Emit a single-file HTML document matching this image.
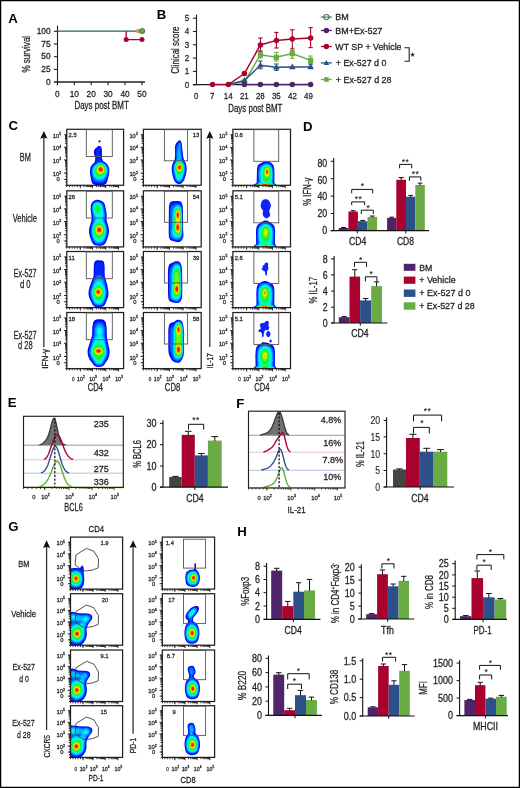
<!DOCTYPE html>
<html><head><meta charset="utf-8"><style>
html,body{margin:0;padding:0;background:#fff;}
svg{display:block;font-family:"Liberation Sans",sans-serif;will-change:transform;}
</style></head><body>
<svg width="520" height="788" viewBox="0 0 520 788">
<defs><filter id="bl" x="-10%" y="-10%" width="120%" height="120%"><feGaussianBlur stdDeviation="0.45"/></filter>
<clipPath id="c1"><rect x="66.80" y="129.30" width="56.80" height="56.00"/></clipPath>
<clipPath id="c2"><rect x="66.80" y="190.80" width="56.80" height="56.10"/></clipPath>
<clipPath id="c3"><rect x="66.80" y="251.50" width="56.80" height="56.10"/></clipPath>
<clipPath id="c4"><rect x="66.80" y="312.50" width="56.80" height="56.10"/></clipPath>
<clipPath id="c5"><rect x="143.40" y="129.30" width="57.80" height="56.00"/></clipPath>
<clipPath id="c6"><rect x="143.40" y="190.80" width="57.80" height="56.10"/></clipPath>
<clipPath id="c7"><rect x="143.40" y="251.50" width="57.80" height="56.10"/></clipPath>
<clipPath id="c8"><rect x="143.40" y="312.50" width="57.80" height="56.10"/></clipPath>
<clipPath id="c9"><rect x="232.90" y="129.30" width="57.60" height="56.00"/></clipPath>
<clipPath id="c10"><rect x="232.90" y="190.80" width="57.60" height="56.10"/></clipPath>
<clipPath id="c11"><rect x="232.90" y="251.50" width="57.60" height="56.10"/></clipPath>
<clipPath id="c12"><rect x="232.90" y="312.50" width="57.60" height="56.10"/></clipPath>
<clipPath id="c13"><rect x="70.50" y="537.10" width="52.10" height="52.00"/></clipPath>
<clipPath id="c14"><rect x="70.50" y="593.70" width="52.10" height="51.50"/></clipPath>
<clipPath id="c15"><rect x="70.50" y="650.00" width="52.10" height="51.50"/></clipPath>
<clipPath id="c16"><rect x="70.50" y="705.70" width="52.10" height="51.70"/></clipPath>
<clipPath id="c17"><rect x="162.30" y="537.10" width="52.30" height="52.00"/></clipPath>
<clipPath id="c18"><rect x="162.30" y="593.70" width="52.30" height="51.50"/></clipPath>
<clipPath id="c19"><rect x="162.30" y="650.00" width="52.30" height="51.50"/></clipPath>
<clipPath id="c20"><rect x="162.30" y="705.70" width="52.30" height="51.70"/></clipPath></defs>
<rect x="0.6" y="0.6" width="518.8" height="786.8" fill="#fff" stroke="#000" stroke-width="1.3"/>
<text transform="translate(8.20 22.70)" font-size="13.20" font-weight="bold" fill="#000">A</text>
<text transform="translate(156.80 18.50)" font-size="13.20" font-weight="bold" fill="#000">B</text>
<text transform="translate(8.50 130.30)" font-size="13.20" font-weight="bold" fill="#000">C</text>
<text transform="translate(303.00 131.00)" font-size="13.20" font-weight="bold" fill="#000">D</text>
<text transform="translate(7.70 407.00)" font-size="13.20" font-weight="bold" fill="#000">E</text>
<text transform="translate(236.20 407.50)" font-size="13.20" font-weight="bold" fill="#000">F</text>
<text transform="translate(8.20 531.30)" font-size="13.20" font-weight="bold" fill="#000">G</text>
<text transform="translate(237.20 535.60)" font-size="13.20" font-weight="bold" fill="#000">H</text>
<line x1="57.50" y1="25.50" x2="57.50" y2="85.00" stroke="#231f20" stroke-width="1.10"/>
<line x1="53.90" y1="82.00" x2="145.00" y2="82.00" stroke="#231f20" stroke-width="1.30"/>
<line x1="53.90" y1="31.30" x2="57.50" y2="31.30" stroke="#231f20" stroke-width="1.10"/>
<line x1="53.90" y1="44.00" x2="57.50" y2="44.00" stroke="#231f20" stroke-width="1.10"/>
<line x1="53.90" y1="56.70" x2="57.50" y2="56.70" stroke="#231f20" stroke-width="1.10"/>
<line x1="53.90" y1="69.40" x2="57.50" y2="69.40" stroke="#231f20" stroke-width="1.10"/>
<text transform="translate(50.60 34.10) scale(0.930 1)" font-size="9.00" text-anchor="end" fill="#231f20" stroke="#231f20" stroke-width="0.28">100</text>
<text transform="translate(50.60 46.78) scale(0.930 1)" font-size="9.00" text-anchor="end" fill="#231f20" stroke="#231f20" stroke-width="0.28">75</text>
<text transform="translate(50.60 59.46) scale(0.930 1)" font-size="9.00" text-anchor="end" fill="#231f20" stroke="#231f20" stroke-width="0.28">50</text>
<text transform="translate(50.60 72.14) scale(0.930 1)" font-size="9.00" text-anchor="end" fill="#231f20" stroke="#231f20" stroke-width="0.28">25</text>
<text transform="translate(50.60 84.82) scale(0.930 1)" font-size="9.00" text-anchor="end" fill="#231f20" stroke="#231f20" stroke-width="0.28">0</text>
<line x1="57.40" y1="82.00" x2="57.40" y2="85.20" stroke="#231f20" stroke-width="1.10"/>
<text transform="translate(57.40 96.70) scale(0.890 1)" font-size="9.30" text-anchor="middle" fill="#231f20" stroke="#231f20" stroke-width="0.28">0</text>
<line x1="74.30" y1="82.00" x2="74.30" y2="85.20" stroke="#231f20" stroke-width="1.10"/>
<text transform="translate(74.30 96.70) scale(0.890 1)" font-size="9.30" text-anchor="middle" fill="#231f20" stroke="#231f20" stroke-width="0.28">10</text>
<line x1="91.20" y1="82.00" x2="91.20" y2="85.20" stroke="#231f20" stroke-width="1.10"/>
<text transform="translate(91.20 96.70) scale(0.890 1)" font-size="9.30" text-anchor="middle" fill="#231f20" stroke="#231f20" stroke-width="0.28">20</text>
<line x1="108.10" y1="82.00" x2="108.10" y2="85.20" stroke="#231f20" stroke-width="1.10"/>
<text transform="translate(108.10 96.70) scale(0.890 1)" font-size="9.30" text-anchor="middle" fill="#231f20" stroke="#231f20" stroke-width="0.28">30</text>
<line x1="125.00" y1="82.00" x2="125.00" y2="85.20" stroke="#231f20" stroke-width="1.10"/>
<text transform="translate(125.00 96.70) scale(0.890 1)" font-size="9.30" text-anchor="middle" fill="#231f20" stroke="#231f20" stroke-width="0.28">40</text>
<line x1="141.90" y1="82.00" x2="141.90" y2="85.20" stroke="#231f20" stroke-width="1.10"/>
<text transform="translate(141.90 96.70) scale(0.890 1)" font-size="9.30" text-anchor="middle" fill="#231f20" stroke="#231f20" stroke-width="0.28">50</text>
<text transform="translate(101.60 109.20) scale(0.796 1)" font-size="10.00" text-anchor="middle" fill="#231f20" stroke="#231f20" stroke-width="0.28">Days post BMT</text>
<text transform="translate(29.90 54.20) rotate(-90) scale(0.702 1)" font-size="11.50" text-anchor="middle" fill="#231f20" stroke="#231f20" stroke-width="0.28">% survival</text>
<line x1="57.50" y1="31.20" x2="142.00" y2="31.20" stroke="#2b6646" stroke-width="1.20"/>
<path d="M126.2 31.2 V39.6 H142" fill="none" stroke="#a9022e" stroke-width="1.30"/>
<circle cx="126.20" cy="39.60" r="2.50" fill="#a9022e"/>
<circle cx="142.00" cy="39.60" r="2.50" fill="#a9022e"/>
<rect x="136.60" y="29.00" width="4.00" height="4.20" fill="#f29a2e"/>
<circle cx="142.20" cy="31.00" r="2.60" fill="#6aab45" stroke="#2b5f7a" stroke-width="0.80"/>
<line x1="196.50" y1="14.60" x2="196.50" y2="84.70" stroke="#231f20" stroke-width="1.10"/>
<line x1="192.90" y1="84.70" x2="312.50" y2="84.70" stroke="#231f20" stroke-width="1.30"/>
<line x1="192.90" y1="84.70" x2="196.50" y2="84.70" stroke="#231f20" stroke-width="1.10"/>
<text transform="translate(189.30 87.60) scale(0.850 1)" font-size="9.40" text-anchor="end" fill="#231f20" stroke="#231f20" stroke-width="0.28">0</text>
<line x1="192.90" y1="71.40" x2="196.50" y2="71.40" stroke="#231f20" stroke-width="1.10"/>
<text transform="translate(189.30 74.30) scale(0.850 1)" font-size="9.40" text-anchor="end" fill="#231f20" stroke="#231f20" stroke-width="0.28">1</text>
<line x1="192.90" y1="58.10" x2="196.50" y2="58.10" stroke="#231f20" stroke-width="1.10"/>
<text transform="translate(189.30 61.00) scale(0.850 1)" font-size="9.40" text-anchor="end" fill="#231f20" stroke="#231f20" stroke-width="0.28">2</text>
<line x1="192.90" y1="44.80" x2="196.50" y2="44.80" stroke="#231f20" stroke-width="1.10"/>
<text transform="translate(189.30 47.70) scale(0.850 1)" font-size="9.40" text-anchor="end" fill="#231f20" stroke="#231f20" stroke-width="0.28">3</text>
<line x1="192.90" y1="31.50" x2="196.50" y2="31.50" stroke="#231f20" stroke-width="1.10"/>
<text transform="translate(189.30 34.40) scale(0.850 1)" font-size="9.40" text-anchor="end" fill="#231f20" stroke="#231f20" stroke-width="0.28">4</text>
<line x1="192.90" y1="18.20" x2="196.50" y2="18.20" stroke="#231f20" stroke-width="1.10"/>
<text transform="translate(189.30 21.10) scale(0.850 1)" font-size="9.40" text-anchor="end" fill="#231f20" stroke="#231f20" stroke-width="0.28">5</text>
<text transform="translate(196.20 99.00) scale(0.850 1)" font-size="9.30" text-anchor="middle" fill="#231f20" stroke="#231f20" stroke-width="0.28">0</text>
<text transform="translate(212.23 99.00) scale(0.850 1)" font-size="9.30" text-anchor="middle" fill="#231f20" stroke="#231f20" stroke-width="0.28">7</text>
<text transform="translate(228.26 99.00) scale(0.850 1)" font-size="9.30" text-anchor="middle" fill="#231f20" stroke="#231f20" stroke-width="0.28">14</text>
<text transform="translate(244.29 99.00) scale(0.850 1)" font-size="9.30" text-anchor="middle" fill="#231f20" stroke="#231f20" stroke-width="0.28">21</text>
<text transform="translate(260.32 99.00) scale(0.850 1)" font-size="9.30" text-anchor="middle" fill="#231f20" stroke="#231f20" stroke-width="0.28">28</text>
<text transform="translate(276.35 99.00) scale(0.850 1)" font-size="9.30" text-anchor="middle" fill="#231f20" stroke="#231f20" stroke-width="0.28">35</text>
<text transform="translate(292.38 99.00) scale(0.850 1)" font-size="9.30" text-anchor="middle" fill="#231f20" stroke="#231f20" stroke-width="0.28">42</text>
<text transform="translate(308.41 99.00) scale(0.850 1)" font-size="9.30" text-anchor="middle" fill="#231f20" stroke="#231f20" stroke-width="0.28">49</text>
<text transform="translate(255.30 111.90) scale(0.793 1)" font-size="10.00" text-anchor="middle" fill="#231f20" stroke="#231f20" stroke-width="0.28">Days post BMT</text>
<text transform="translate(178.70 50.10) rotate(-90) scale(0.690 1)" font-size="11.50" text-anchor="middle" fill="#231f20" stroke="#231f20" stroke-width="0.28">Clinical score</text>
<line x1="260.40" y1="51.50" x2="260.40" y2="58.00" stroke="#6aab45" stroke-width="1.10"/>
<line x1="258.20" y1="51.50" x2="262.60" y2="51.50" stroke="#6aab45" stroke-width="1.10"/>
<line x1="258.20" y1="58.00" x2="262.60" y2="58.00" stroke="#6aab45" stroke-width="1.10"/>
<line x1="276.40" y1="52.40" x2="276.40" y2="61.00" stroke="#6aab45" stroke-width="1.10"/>
<line x1="274.20" y1="52.40" x2="278.60" y2="52.40" stroke="#6aab45" stroke-width="1.10"/>
<line x1="274.20" y1="61.00" x2="278.60" y2="61.00" stroke="#6aab45" stroke-width="1.10"/>
<line x1="292.30" y1="50.40" x2="292.30" y2="58.30" stroke="#6aab45" stroke-width="1.10"/>
<line x1="290.10" y1="50.40" x2="294.50" y2="50.40" stroke="#6aab45" stroke-width="1.10"/>
<line x1="290.10" y1="58.30" x2="294.50" y2="58.30" stroke="#6aab45" stroke-width="1.10"/>
<line x1="310.60" y1="56.00" x2="310.60" y2="64.10" stroke="#6aab45" stroke-width="1.10"/>
<line x1="308.40" y1="56.00" x2="312.80" y2="56.00" stroke="#6aab45" stroke-width="1.10"/>
<line x1="308.40" y1="64.10" x2="312.80" y2="64.10" stroke="#6aab45" stroke-width="1.10"/>
<path d="M228.40 84.60 L244.40 82.00 L260.40 54.70 L276.40 57.30 L292.30 53.60 L310.60 60.40" fill="none" stroke="#6aab45" stroke-width="1.50"/>
<rect x="241.80" y="79.40" width="5.20" height="5.20" fill="#6aab45"/>
<rect x="257.80" y="52.10" width="5.20" height="5.20" fill="#6aab45"/>
<rect x="273.80" y="54.70" width="5.20" height="5.20" fill="#6aab45"/>
<rect x="289.70" y="51.00" width="5.20" height="5.20" fill="#6aab45"/>
<rect x="308.00" y="57.80" width="5.20" height="5.20" fill="#6aab45"/>
<line x1="260.40" y1="61.00" x2="260.40" y2="68.80" stroke="#2d4f8a" stroke-width="1.10"/>
<line x1="258.20" y1="61.00" x2="262.60" y2="61.00" stroke="#2d4f8a" stroke-width="1.10"/>
<line x1="258.20" y1="68.80" x2="262.60" y2="68.80" stroke="#2d4f8a" stroke-width="1.10"/>
<line x1="276.40" y1="64.00" x2="276.40" y2="70.40" stroke="#2d4f8a" stroke-width="1.10"/>
<line x1="274.20" y1="64.00" x2="278.60" y2="64.00" stroke="#2d4f8a" stroke-width="1.10"/>
<line x1="274.20" y1="70.40" x2="278.60" y2="70.40" stroke="#2d4f8a" stroke-width="1.10"/>
<line x1="310.60" y1="64.10" x2="310.60" y2="66.90" stroke="#2d4f8a" stroke-width="1.10"/>
<line x1="308.40" y1="64.10" x2="312.80" y2="64.10" stroke="#2d4f8a" stroke-width="1.10"/>
<line x1="308.40" y1="66.90" x2="312.80" y2="66.90" stroke="#2d4f8a" stroke-width="1.10"/>
<path d="M228.40 84.60 L244.40 80.40 L260.40 65.30 L276.40 67.30 L292.30 66.90 L310.60 66.90" fill="none" stroke="#2d4f8a" stroke-width="1.50"/>
<path d="M244.40 77.00 L247.70 82.70 L241.10 82.70 Z" fill="#2d4f8a"/>
<path d="M260.40 61.90 L263.70 67.60 L257.10 67.60 Z" fill="#2d4f8a"/>
<path d="M276.40 63.90 L279.70 69.60 L273.10 69.60 Z" fill="#2d4f8a"/>
<path d="M292.30 63.50 L295.60 69.20 L289.00 69.20 Z" fill="#2d4f8a"/>
<path d="M310.60 63.50 L313.90 69.20 L307.30 69.20 Z" fill="#2d4f8a"/>
<line x1="260.40" y1="38.00" x2="260.40" y2="51.00" stroke="#a9022e" stroke-width="1.10"/>
<line x1="258.20" y1="38.00" x2="262.60" y2="38.00" stroke="#a9022e" stroke-width="1.10"/>
<line x1="258.20" y1="51.00" x2="262.60" y2="51.00" stroke="#a9022e" stroke-width="1.10"/>
<line x1="276.40" y1="32.40" x2="276.40" y2="48.00" stroke="#a9022e" stroke-width="1.10"/>
<line x1="274.20" y1="32.40" x2="278.60" y2="32.40" stroke="#a9022e" stroke-width="1.10"/>
<line x1="274.20" y1="48.00" x2="278.60" y2="48.00" stroke="#a9022e" stroke-width="1.10"/>
<line x1="292.30" y1="29.80" x2="292.30" y2="48.90" stroke="#a9022e" stroke-width="1.10"/>
<line x1="290.10" y1="29.80" x2="294.50" y2="29.80" stroke="#a9022e" stroke-width="1.10"/>
<line x1="290.10" y1="48.90" x2="294.50" y2="48.90" stroke="#a9022e" stroke-width="1.10"/>
<line x1="310.60" y1="27.60" x2="310.60" y2="47.60" stroke="#a9022e" stroke-width="1.10"/>
<line x1="308.40" y1="27.60" x2="312.80" y2="27.60" stroke="#a9022e" stroke-width="1.10"/>
<line x1="308.40" y1="47.60" x2="312.80" y2="47.60" stroke="#a9022e" stroke-width="1.10"/>
<path d="M212.50 84.60 L228.40 84.60 L244.40 73.50 L260.40 45.00 L276.40 40.40 L292.30 38.90 L310.60 38.10" fill="none" stroke="#a9022e" stroke-width="1.50"/>
<circle cx="212.50" cy="84.60" r="2.75" fill="#a9022e"/>
<circle cx="228.40" cy="84.60" r="2.75" fill="#a9022e"/>
<circle cx="244.40" cy="73.50" r="2.75" fill="#a9022e"/>
<circle cx="260.40" cy="45.00" r="2.75" fill="#a9022e"/>
<circle cx="276.40" cy="40.40" r="2.75" fill="#a9022e"/>
<circle cx="292.30" cy="38.90" r="2.75" fill="#a9022e"/>
<circle cx="310.60" cy="38.10" r="2.75" fill="#a9022e"/>
<path d="M244.40 84.60 L260.40 84.60 L276.40 84.60 L292.30 84.60 L310.60 84.60" fill="none" stroke="#4f2468" stroke-width="1.50"/>
<circle cx="244.40" cy="84.60" r="2.75" fill="#4f2468"/>
<circle cx="260.40" cy="84.60" r="2.75" fill="#4f2468"/>
<circle cx="276.40" cy="84.60" r="2.75" fill="#4f2468"/>
<circle cx="292.30" cy="84.60" r="2.75" fill="#4f2468"/>
<circle cx="310.60" cy="84.60" r="2.75" fill="#4f2468"/>
<line x1="320.90" y1="17.10" x2="331.80" y2="17.10" stroke="#3b7a5c" stroke-width="1.30"/>
<circle cx="326.40" cy="17.10" r="2.60" fill="#fff" stroke="#3b7a5c" stroke-width="1.10"/>
<line x1="323.80" y1="17.10" x2="329.00" y2="17.10" stroke="#3b7a5c" stroke-width="1.10"/>
<text transform="translate(335.30 20.20) scale(1.023 1)" font-size="8.80" fill="#231f20" stroke="#231f20" stroke-width="0.28">BM</text>
<line x1="320.90" y1="30.50" x2="331.80" y2="30.50" stroke="#4f2468" stroke-width="1.30"/>
<circle cx="326.40" cy="30.50" r="2.70" fill="#4f2468"/>
<text transform="translate(335.30 33.60) scale(1.019 1)" font-size="8.80" fill="#231f20" stroke="#231f20" stroke-width="0.28">BM+Ex-527</text>
<line x1="320.90" y1="46.50" x2="331.80" y2="46.50" stroke="#a9022e" stroke-width="1.30"/>
<circle cx="326.40" cy="46.50" r="2.70" fill="#a9022e"/>
<text transform="translate(335.30 49.60) scale(1.005 1)" font-size="8.80" fill="#231f20" stroke="#231f20" stroke-width="0.28">WT SP + Vehicle</text>
<line x1="320.90" y1="62.90" x2="331.80" y2="62.90" stroke="#2d4f8a" stroke-width="1.30"/>
<path d="M326.40 60.00 L329.20 64.90 L323.60 64.90 Z" fill="#2d4f8a"/>
<text transform="translate(335.80 66.00) scale(1.011 1)" font-size="8.80" fill="#231f20" stroke="#231f20" stroke-width="0.28">+ Ex-527 d 0</text>
<line x1="320.90" y1="79.50" x2="331.80" y2="79.50" stroke="#6aab45" stroke-width="1.30"/>
<rect x="324.10" y="77.20" width="4.60" height="4.60" fill="#6aab45"/>
<text transform="translate(335.80 82.60) scale(1.012 1)" font-size="8.80" fill="#231f20" stroke="#231f20" stroke-width="0.28">+ Ex-527 d 28</text>
<path d="M404.4 47.7 H409.2 V61.2 H404.4" fill="none" stroke="#231f20" stroke-width="1.10"/>
<text transform="translate(412.60 59.20)" font-size="9.50" text-anchor="middle" fill="#111" stroke="#111" stroke-width="0.28">*</text>
<text transform="translate(25.30 160.50) scale(0.719 1)" font-size="10.20" text-anchor="middle" fill="#231f20" stroke="#231f20" stroke-width="0.28">BM</text>
<text transform="translate(24.80 221.50) scale(0.736 1)" font-size="10.20" text-anchor="middle" fill="#231f20" stroke="#231f20" stroke-width="0.28">Vehicle</text>
<text transform="translate(25.15 276.90) scale(0.716 1)" font-size="10.00" text-anchor="middle" fill="#231f20" stroke="#231f20" stroke-width="0.28">Ex-527</text>
<text transform="translate(25.25 288.40) scale(0.770 1)" font-size="10.00" text-anchor="middle" fill="#231f20" stroke="#231f20" stroke-width="0.28">d 0</text>
<text transform="translate(25.15 338.50) scale(0.716 1)" font-size="10.00" text-anchor="middle" fill="#231f20" stroke="#231f20" stroke-width="0.28">Ex-527</text>
<text transform="translate(25.30 349.00) scale(0.750 1)" font-size="10.00" text-anchor="middle" fill="#231f20" stroke="#231f20" stroke-width="0.28">d 28</text>
<line x1="43.85" y1="136.00" x2="43.85" y2="347.00" stroke="#333" stroke-width="1.30"/>
<path d="M43.85 131 L47.45 138.8 L43.85 137.6 L40.25 138.8 Z" fill="#111"/>
<line x1="209.80" y1="136.00" x2="209.80" y2="347.00" stroke="#333" stroke-width="1.30"/>
<path d="M209.80 131 L213.40 138.8 L209.80 137.6 L206.20 138.8 Z" fill="#111"/>
<text transform="translate(47.50 358.80) rotate(-90) scale(0.998 1)" font-size="8.20" text-anchor="middle" fill="#231f20" stroke="#231f20" stroke-width="0.28">IFN-γ</text>
<text transform="translate(212.80 360.80) rotate(-90) scale(0.819 1)" font-size="8.20" text-anchor="middle" fill="#231f20" stroke="#231f20" stroke-width="0.28">IL-17</text>
<g clip-path="url(#c1)"><g filter="url(#bl)"><path d="M100.0,142.3 99.3,142.5 98.5,141.9 98.5,140.9 99.0,140.3 100.0,140.3 100.6,140.9 100.6,141.6 100.0,142.3ZM103.5,185.0 100.8,185.3 96.2,185.1 94.4,184.8 93.0,184.1 92.1,182.9 91.5,181.5 90.0,173.8 90.0,169.9 90.6,167.1 91.8,165.0 94.4,162.4 95.0,161.2 95.3,157.7 94.0,153.5 94.1,150.3 94.7,149.2 97.6,146.4 99.0,145.7 100.0,145.9 100.8,146.4 101.7,148.2 101.9,150.0 101.9,157.7 102.5,160.1 103.3,161.2 106.0,163.1 107.5,164.7 108.6,166.8 109.3,169.6 109.3,172.0 109.0,174.5 107.1,181.8 106.4,183.2 105.6,184.1 103.5,185.0Z" fill="#0000ff"/><path d="M99.7,141.7 99.1,141.6 99.1,141.2 99.3,140.9 99.9,141.2 99.7,141.7ZM102.8,183.6 100.4,183.8 96.9,183.7 95.1,183.4 93.8,182.5 92.9,181.5 92.2,179.7 90.8,173.1 90.8,169.9 91.5,167.1 92.7,165.3 95.7,162.6 96.1,161.5 96.6,158.0 95.6,153.8 95.7,150.7 97.7,147.5 99.0,146.6 99.7,146.7 100.3,147.2 100.9,148.6 100.9,150.0 100.2,152.8 100.7,155.6 100.7,158.0 101.2,159.8 102.4,161.5 105.3,163.4 106.9,165.0 108.0,167.1 108.5,169.6 108.6,171.7 108.3,174.1 106.5,180.1 105.1,182.5 104.1,183.2 102.8,183.6Z" fill="#0028ff"/><path d="M101.1,182.2 96.9,182.0 95.5,181.5 94.4,180.7 93.4,179.2 92.6,177.2 91.5,172.7 91.7,169.2 92.9,166.4 95.1,164.1 97.9,162.0 99.3,161.3 100.4,161.5 103.2,162.8 105.4,164.3 107.2,166.8 107.9,169.6 107.9,171.7 107.5,174.1 106.7,176.8 105.6,179.1 103.9,181.3 102.5,181.9 101.1,182.2Z" fill="#006eff"/><path d="M101.4,180.4 99.7,180.6 97.9,180.4 96.5,179.9 95.1,179.0 94.1,177.8 93.3,176.2 92.3,172.4 92.5,169.2 93.0,167.8 93.8,166.4 95.2,165.0 96.9,163.7 98.3,163.0 99.7,162.6 101.1,162.7 102.5,163.1 104.9,164.6 106.6,166.8 107.3,169.6 107.0,173.4 105.6,176.9 103.9,179.2 102.8,179.9 101.4,180.4Z" fill="#00b9ff"/><path d="M100.8,179.0 97.9,178.9 96.5,178.3 95.5,177.5 94.4,176.2 93.7,174.8 93.2,173.1 93.0,171.3 93.5,168.5 95.0,166.1 97.6,164.0 99.0,163.4 100.4,163.2 102.8,163.7 104.9,165.2 106.2,167.1 106.8,169.9 106.4,173.1 104.9,176.3 103.2,178.1 100.8,179.0Z" fill="#00f5ff"/><path d="M101.1,177.6 99.7,177.7 98.3,177.5 96.2,176.4 95.3,175.5 94.5,174.1 93.9,171.3 94.2,168.9 95.6,166.4 97.9,164.4 100.4,163.7 102.5,164.1 104.4,165.4 105.8,167.5 106.3,169.6 105.9,172.4 104.8,174.8 103.2,176.6 101.1,177.6Z" fill="#00ffaa"/><path d="M100.4,176.2 98.3,175.9 96.5,174.8 95.3,172.7 95.0,170.6 95.5,168.2 96.9,166.1 98.6,164.8 100.8,164.3 102.8,164.9 104.3,166.1 105.3,167.8 105.6,169.9 105.1,172.4 103.9,174.4 102.1,175.7 100.4,176.2Z" fill="#14f03c"/><path d="M101.4,174.5 99.7,174.6 97.9,173.9 96.8,172.7 96.2,171.0 96.3,168.9 97.1,167.1 98.3,165.9 100.0,165.1 101.8,165.2 103.2,166.0 104.2,167.1 104.8,168.9 104.8,170.6 104.1,172.4 102.8,173.8 101.4,174.5Z" fill="#78f500"/><path d="M101.1,173.4 99.7,173.4 98.4,172.7 97.6,171.7 97.1,170.2 97.3,168.5 97.9,167.2 99.0,166.3 100.4,165.8 101.8,166.0 102.8,166.6 103.8,167.8 104.1,169.2 104.0,170.6 103.3,172.0 102.1,173.0 101.1,173.4Z" fill="#e6f500"/><path d="M101.4,172.5 100.4,172.6 99.3,172.3 98.3,171.3 97.9,170.2 97.9,168.9 98.3,167.8 99.0,167.0 100.0,166.5 101.1,166.4 102.1,166.8 102.9,167.5 103.4,168.5 103.5,169.9 103.2,171.0 102.5,171.8 101.4,172.5Z" fill="#ffbe00"/><path d="M101.4,171.8 100.4,172.0 99.7,171.8 99.0,171.2 98.5,170.2 98.4,169.2 98.6,168.3 99.3,167.5 100.0,167.0 101.1,166.9 101.8,167.2 102.5,167.8 102.9,168.5 103.0,169.6 102.8,170.4 102.2,171.3 101.4,171.8Z" fill="#ff6e00"/><path d="M100.8,171.3 99.6,171.0 99.1,170.2 98.9,169.6 99.3,168.1 100.0,167.6 100.8,167.4 101.8,167.8 102.5,169.2 102.1,170.6 101.4,171.1 100.8,171.3Z" fill="#ff1400"/></g></g>
<path d="M64.00 147.33H66.80M65.00 143.54H66.80M65.00 141.32H66.80M65.00 139.75H66.80M65.00 138.52H66.80M65.00 137.53H66.80M65.00 136.68H66.80M65.00 135.95H66.80M65.00 135.31H66.80M64.00 159.93H66.80M65.00 156.14H66.80M65.00 153.92H66.80M65.00 152.35H66.80M65.00 151.12H66.80M65.00 150.13H66.80M65.00 149.28H66.80M65.00 148.55H66.80M65.00 147.91H66.80M64.00 173.15H66.80M65.00 169.17H66.80M65.00 166.84H66.80M65.00 165.19H66.80M65.00 163.91H66.80M65.00 162.86H66.80M65.00 161.98H66.80M65.00 161.21H66.80M65.00 160.54H66.80M64.20 134.73H66.80M65.30 173.15H66.80M65.30 176.19H66.80M65.30 179.22H66.80M65.30 182.26H66.80M65.30 185.30H66.80M64.20 179.53H66.80M80.32 185.30V188.10M83.96 185.30V187.10M86.09 185.30V187.10M87.60 185.30V187.10M88.77 185.30V187.10M89.73 185.30V187.10M90.54 185.30V187.10M91.24 185.30V187.10M91.86 185.30V187.10M92.42 185.30V188.10M96.45 185.30V187.10M98.81 185.30V187.10M100.49 185.30V187.10M101.79 185.30V187.10M102.85 185.30V187.10M103.75 185.30V187.10M104.52 185.30V187.10M105.21 185.30V187.10M105.82 185.30V188.10M109.63 185.30V187.10M111.87 185.30V187.10M113.45 185.30V187.10M114.68 185.30V187.10M115.68 185.30V187.10M116.53 185.30V187.10M117.26 185.30V187.10M117.91 185.30V187.10M118.49 185.30V188.10M66.80 185.30V187.10M69.50 185.30V187.10M72.21 185.30V187.10M74.91 185.30V187.10M77.61 185.30V187.10M80.32 185.30V187.10" stroke="#231f20" stroke-width="0.95" fill="none"/>
<rect x="66.80" y="129.30" width="56.80" height="56.00" fill="none" stroke="#231f20" stroke-width="1.25"/>
<text transform="translate(52.79 137.83) scale(0.970 1)" font-size="6.00" fill="#2a2a2a" stroke="#2a2a2a" stroke-width="0.28">10</text>
<text transform="translate(59.36 135.13) scale(0.970 1)" font-size="3.60" fill="#2a2a2a" stroke="#2a2a2a" stroke-width="0.28">5</text>
<text transform="translate(52.79 150.43) scale(0.970 1)" font-size="6.00" fill="#2a2a2a" stroke="#2a2a2a" stroke-width="0.28">10</text>
<text transform="translate(59.36 147.73) scale(0.970 1)" font-size="3.60" fill="#2a2a2a" stroke="#2a2a2a" stroke-width="0.28">4</text>
<text transform="translate(52.79 163.03) scale(0.970 1)" font-size="6.00" fill="#2a2a2a" stroke="#2a2a2a" stroke-width="0.28">10</text>
<text transform="translate(59.36 160.33) scale(0.970 1)" font-size="3.60" fill="#2a2a2a" stroke="#2a2a2a" stroke-width="0.28">3</text>
<text transform="translate(52.79 176.25) scale(0.970 1)" font-size="6.00" fill="#2a2a2a" stroke="#2a2a2a" stroke-width="0.28">10</text>
<text transform="translate(59.36 173.55) scale(0.970 1)" font-size="3.60" fill="#2a2a2a" stroke="#2a2a2a" stroke-width="0.28">2</text>
<text transform="translate(59.80 181.43) scale(0.970 1)" font-size="6.00" text-anchor="end" fill="#2a2a2a" stroke="#2a2a2a" stroke-width="0.28">0</text>
<rect x="86.30" y="129.70" width="26.00" height="26.80" fill="none" stroke="#555" stroke-width="0.90"/>
<text transform="translate(68.60 137.40) scale(0.950 1)" font-size="6.20" fill="#2a2a2a" stroke="#2a2a2a" stroke-width="0.28">2.5</text>
<g clip-path="url(#c2)"><g filter="url(#bl)"><path d="M102.1,245.4 99.7,245.7 96.5,245.6 94.4,244.9 93.2,244.0 92.0,242.2 90.4,238.1 89.6,235.6 89.1,232.8 89.0,230.4 89.3,227.9 91.3,221.2 91.6,219.5 91.4,215.7 90.6,209.0 90.8,205.5 91.5,203.4 92.7,201.7 94.4,200.4 96.5,199.8 99.3,200.0 101.8,200.9 103.5,202.2 104.7,204.1 106.6,213.2 106.6,220.6 108.3,226.2 108.9,229.3 109.0,231.8 108.6,234.6 107.8,237.4 106.1,241.9 104.6,244.2 103.5,244.9 102.1,245.4Z" fill="#0000ff"/><path d="M101.1,244.7 96.5,244.7 94.8,244.0 93.8,243.2 92.7,241.6 91.2,237.7 90.1,232.8 90.0,230.4 90.3,227.9 92.2,221.2 92.5,219.5 92.3,216.0 91.2,209.4 91.4,205.9 92.2,203.8 93.4,202.1 94.8,201.1 96.5,200.6 99.0,200.7 101.1,201.5 102.8,202.8 104.1,204.8 105.9,213.6 105.7,220.6 107.3,226.2 107.9,229.3 108.0,232.1 107.6,234.9 106.9,237.4 105.4,241.2 104.7,242.6 103.8,243.7 102.5,244.4 101.1,244.7Z" fill="#0028ff"/><path d="M101.4,243.7 99.7,243.9 97.2,243.8 95.8,243.4 94.6,242.6 93.6,241.2 92.2,238.1 91.1,233.2 90.9,230.7 91.2,228.2 91.8,225.5 93.2,221.2 93.4,219.5 93.1,216.0 91.9,209.7 92.0,206.6 92.6,204.5 93.5,203.1 94.8,202.0 96.5,201.4 98.6,201.5 100.8,202.3 102.5,203.8 103.4,205.5 105.2,213.9 104.7,220.6 106.4,226.2 107.0,229.0 107.1,231.1 106.9,233.5 105.8,238.1 103.9,242.0 102.8,243.1 101.4,243.7Z" fill="#006eff"/><path d="M101.1,242.6 99.7,242.8 97.6,242.8 96.2,242.3 95.1,241.6 94.1,240.1 93.0,237.7 92.2,235.2 91.8,232.8 91.8,230.0 92.1,227.6 92.8,224.8 94.3,220.9 94.6,219.5 94.2,216.4 92.6,210.4 92.5,206.9 93.2,204.8 94.1,203.4 95.5,202.5 96.9,202.1 98.6,202.3 100.5,203.1 101.8,204.3 102.7,205.9 104.3,214.2 104.3,216.0 103.6,219.2 103.6,220.6 105.6,225.8 106.3,229.3 106.2,233.2 105.0,237.7 103.2,241.1 102.1,242.1 101.1,242.6Z" fill="#00b9ff"/><path d="M100.8,241.3 99.3,241.5 97.6,241.4 96.5,241.0 95.5,240.2 94.4,238.8 93.6,237.0 93.0,234.9 92.5,232.1 92.5,229.3 93.2,226.2 94.2,223.7 96.2,220.2 96.5,219.2 96.1,217.4 93.4,211.1 93.0,209.0 93.1,207.2 93.5,205.5 94.4,204.1 95.5,203.3 96.9,202.9 98.6,203.1 100.1,203.8 101.2,204.8 102.1,206.6 103.3,214.6 103.1,216.0 102.0,218.8 101.9,219.9 104.7,225.5 105.6,229.3 105.5,232.8 104.4,237.0 102.8,239.8 101.8,240.8 100.8,241.3Z" fill="#00f5ff"/><path d="M99.7,214.6 97.9,214.6 96.5,214.2 95.1,212.8 94.1,210.8 93.7,208.7 94.0,206.6 94.8,204.9 96.2,204.0 97.6,203.8 99.3,204.4 100.5,205.5 101.2,206.9 101.6,209.4 101.4,212.9 100.8,214.2 99.7,214.6ZM99.7,239.9 97.2,239.6 96.2,239.0 95.1,237.9 94.0,235.2 93.2,231.1 93.6,227.6 94.8,224.4 96.5,222.5 97.6,221.9 99.0,221.7 101.1,222.2 103.1,224.1 104.5,226.9 105.1,230.0 104.7,233.2 103.4,237.0 101.8,239.0 99.7,239.9Z" fill="#00ffaa"/><path d="M98.3,211.9 97.2,212.0 96.2,211.6 95.5,210.8 94.9,209.4 94.8,208.0 95.1,206.6 95.8,205.7 96.9,205.2 97.9,205.2 99.0,205.8 100.0,207.6 100.1,209.0 99.8,210.4 99.0,211.5 98.3,211.9ZM100.0,237.8 97.9,237.8 96.2,236.7 94.8,234.2 94.1,231.1 94.2,228.2 95.2,225.8 96.5,224.3 98.6,223.4 100.4,223.6 102.2,224.8 103.6,226.9 104.3,229.3 104.1,232.1 103.1,234.9 101.8,236.8 100.0,237.8Z" fill="#14f03c"/><path d="M99.7,235.6 97.9,235.5 96.5,234.4 95.4,232.5 94.9,230.4 95.2,228.2 96.1,226.5 97.2,225.4 99.0,224.8 100.8,225.2 102.0,226.2 103.1,227.9 103.5,229.7 103.3,231.4 102.5,233.5 101.1,235.0 99.7,235.6Z" fill="#78f500"/><path d="M100.4,233.9 99.0,234.2 97.6,233.7 96.5,232.6 95.9,231.1 95.8,229.3 96.2,227.9 97.2,226.6 98.6,225.9 100.0,226.0 101.1,226.5 102.0,227.6 102.6,229.0 102.7,230.4 102.3,231.8 101.5,233.2 100.4,233.9Z" fill="#e6f500"/><path d="M99.7,233.2 98.6,233.2 97.6,232.7 96.9,231.8 96.4,230.4 96.5,229.0 97.0,227.9 97.9,227.0 99.0,226.7 100.0,226.8 101.1,227.5 101.8,228.6 102.1,229.7 101.9,231.1 101.4,232.0 100.8,232.7 99.7,233.2Z" fill="#ffbe00"/><path d="M99.7,232.6 98.6,232.5 97.9,232.2 97.3,231.4 97.0,230.4 97.0,229.3 97.4,228.2 98.2,227.6 99.0,227.3 100.0,227.4 100.8,227.9 101.3,228.6 101.6,229.7 101.5,230.7 101.1,231.5 100.4,232.2 99.7,232.6Z" fill="#ff6e00"/><path d="M99.7,231.9 99.0,231.9 98.3,231.6 97.5,230.4 97.5,229.3 97.9,228.6 99.0,227.9 99.7,227.9 100.4,228.4 101.0,229.7 100.7,231.1 99.7,231.9Z" fill="#ff1400"/></g></g>
<path d="M64.00 208.86H66.80M65.00 205.06H66.80M65.00 202.84H66.80M65.00 201.26H66.80M65.00 200.04H66.80M65.00 199.04H66.80M65.00 198.20H66.80M65.00 197.46H66.80M65.00 196.82H66.80M64.00 221.49H66.80M65.00 217.69H66.80M65.00 215.46H66.80M65.00 213.89H66.80M65.00 212.66H66.80M65.00 211.66H66.80M65.00 210.82H66.80M65.00 210.09H66.80M65.00 209.44H66.80M64.00 234.73H66.80M65.00 230.74H66.80M65.00 228.41H66.80M65.00 226.76H66.80M65.00 225.47H66.80M65.00 224.42H66.80M65.00 223.54H66.80M65.00 222.77H66.80M65.00 222.09H66.80M64.20 196.24H66.80M65.30 234.73H66.80M65.30 237.77H66.80M65.30 240.81H66.80M65.30 243.86H66.80M65.30 246.90H66.80M64.20 241.12H66.80M80.32 246.90V249.70M83.96 246.90V248.70M86.09 246.90V248.70M87.60 246.90V248.70M88.77 246.90V248.70M89.73 246.90V248.70M90.54 246.90V248.70M91.24 246.90V248.70M91.86 246.90V248.70M92.42 246.90V249.70M96.45 246.90V248.70M98.81 246.90V248.70M100.49 246.90V248.70M101.79 246.90V248.70M102.85 246.90V248.70M103.75 246.90V248.70M104.52 246.90V248.70M105.21 246.90V248.70M105.82 246.90V249.70M109.63 246.90V248.70M111.87 246.90V248.70M113.45 246.90V248.70M114.68 246.90V248.70M115.68 246.90V248.70M116.53 246.90V248.70M117.26 246.90V248.70M117.91 246.90V248.70M118.49 246.90V249.70M66.80 246.90V248.70M69.50 246.90V248.70M72.21 246.90V248.70M74.91 246.90V248.70M77.61 246.90V248.70M80.32 246.90V248.70" stroke="#231f20" stroke-width="0.95" fill="none"/>
<rect x="66.80" y="190.80" width="56.80" height="56.10" fill="none" stroke="#231f20" stroke-width="1.25"/>
<text transform="translate(52.79 199.34) scale(0.970 1)" font-size="6.00" fill="#2a2a2a" stroke="#2a2a2a" stroke-width="0.28">10</text>
<text transform="translate(59.36 196.64) scale(0.970 1)" font-size="3.60" fill="#2a2a2a" stroke="#2a2a2a" stroke-width="0.28">5</text>
<text transform="translate(52.79 211.96) scale(0.970 1)" font-size="6.00" fill="#2a2a2a" stroke="#2a2a2a" stroke-width="0.28">10</text>
<text transform="translate(59.36 209.26) scale(0.970 1)" font-size="3.60" fill="#2a2a2a" stroke="#2a2a2a" stroke-width="0.28">4</text>
<text transform="translate(52.79 224.59) scale(0.970 1)" font-size="6.00" fill="#2a2a2a" stroke="#2a2a2a" stroke-width="0.28">10</text>
<text transform="translate(59.36 221.89) scale(0.970 1)" font-size="3.60" fill="#2a2a2a" stroke="#2a2a2a" stroke-width="0.28">3</text>
<text transform="translate(52.79 237.83) scale(0.970 1)" font-size="6.00" fill="#2a2a2a" stroke="#2a2a2a" stroke-width="0.28">10</text>
<text transform="translate(59.36 235.13) scale(0.970 1)" font-size="3.60" fill="#2a2a2a" stroke="#2a2a2a" stroke-width="0.28">2</text>
<text transform="translate(59.80 243.02) scale(0.970 1)" font-size="6.00" text-anchor="end" fill="#2a2a2a" stroke="#2a2a2a" stroke-width="0.28">0</text>
<rect x="86.30" y="191.20" width="26.00" height="26.80" fill="none" stroke="#555" stroke-width="0.90"/>
<text transform="translate(68.60 198.90) scale(0.950 1)" font-size="6.20" fill="#2a2a2a" stroke="#2a2a2a" stroke-width="0.28">26</text>
<g clip-path="url(#c3)"><g filter="url(#bl)"><path d="M99.7,307.2 95.5,306.9 94.1,306.3 92.8,305.1 89.5,298.4 88.8,295.9 88.5,293.5 88.7,290.4 89.7,286.5 93.6,276.0 93.8,266.2 94.2,263.1 94.8,261.7 95.5,260.9 96.2,260.6 97.6,260.3 102.1,260.5 103.3,261.3 104.1,262.7 104.6,265.9 104.7,276.0 107.3,285.1 108.5,292.4 108.4,294.9 107.9,297.4 104.9,304.7 104.0,305.8 102.8,306.5 99.7,307.2Z" fill="#0000ff"/><path d="M101.4,306.1 99.3,306.4 96.9,306.3 95.1,305.9 93.9,305.1 92.9,303.6 90.8,299.1 90.0,296.6 89.5,294.2 89.6,291.1 90.5,287.2 92.9,280.2 94.6,276.0 94.8,266.9 95.1,264.4 95.8,262.9 96.5,262.4 97.6,262.2 101.6,262.4 102.5,262.9 103.2,264.1 103.6,266.9 103.8,276.0 105.2,280.2 106.4,285.4 107.5,291.8 107.5,293.9 107.2,296.3 105.1,302.2 104.3,304.0 103.5,305.0 102.5,305.8 101.4,306.1Z" fill="#0028ff"/><path d="M100.8,305.4 96.9,305.5 95.5,305.1 94.4,304.3 93.3,302.6 91.7,299.1 90.8,296.3 90.4,293.9 90.4,291.8 90.9,289.3 91.9,285.8 94.0,279.9 95.1,277.9 96.5,276.2 97.6,275.2 98.6,274.8 100.0,274.9 101.1,275.6 102.8,277.6 103.8,279.1 105.5,285.8 106.6,292.1 106.6,294.2 106.2,296.6 104.4,301.9 102.8,304.4 101.9,305.1 100.8,305.4Z" fill="#006eff"/><path d="M100.8,304.4 99.0,304.7 97.2,304.6 95.8,304.1 94.9,303.3 93.8,301.6 92.5,299.1 91.3,294.2 91.4,290.7 93.0,285.4 95.5,279.9 96.5,278.9 97.6,278.6 100.8,278.7 101.8,279.1 102.5,279.9 104.5,285.8 105.7,291.8 105.6,295.2 104.4,299.8 102.5,303.3 100.8,304.4Z" fill="#00b9ff"/><path d="M100.0,303.4 97.2,303.4 96.2,303.0 95.1,302.0 93.3,298.8 91.9,293.5 92.2,290.4 94.0,285.4 96.5,282.1 97.2,281.6 98.3,281.2 99.3,281.3 100.4,281.7 102.7,284.4 103.8,286.9 105.0,292.1 104.7,295.6 103.5,299.8 101.8,302.4 100.0,303.4Z" fill="#00f5ff"/><path d="M99.3,301.9 97.9,301.9 96.9,301.7 95.1,300.1 93.7,297.4 92.9,294.6 92.6,292.8 93.0,290.0 94.7,286.5 96.2,284.9 97.2,284.3 98.3,284.1 100.4,284.5 101.9,285.8 103.4,288.9 104.2,292.1 104.0,294.6 102.8,299.1 101.4,300.9 100.4,301.6 99.3,301.9Z" fill="#00ffaa"/><path d="M99.3,299.8 97.6,299.8 96.0,298.8 94.1,295.3 93.4,292.8 93.6,290.7 94.5,288.6 96.2,286.8 97.9,286.1 99.7,286.3 101.4,287.6 102.7,289.6 103.3,291.8 103.1,294.2 101.8,297.6 100.8,299.1 99.3,299.8Z" fill="#14f03c"/><path d="M98.6,297.1 97.2,296.8 95.8,295.8 94.7,294.2 94.3,292.4 94.5,290.7 95.2,289.3 96.5,288.0 97.9,287.6 99.3,287.7 100.8,288.5 101.9,290.0 102.3,291.8 102.2,293.5 101.3,295.2 100.0,296.5 98.6,297.1Z" fill="#78f500"/><path d="M99.3,295.4 97.9,295.6 96.9,295.2 95.7,294.2 95.1,292.8 95.1,291.4 95.5,290.2 96.5,289.1 97.6,288.6 99.0,288.6 100.0,289.1 100.9,290.0 101.4,291.1 101.5,292.4 101.2,293.5 100.4,294.7 99.3,295.4Z" fill="#e6f500"/><path d="M99.0,294.7 97.9,294.8 96.9,294.4 96.2,293.7 95.7,292.8 95.6,291.8 95.9,290.7 96.5,289.8 97.6,289.3 98.6,289.2 99.7,289.6 100.4,290.4 100.9,291.4 100.9,292.4 100.5,293.5 99.9,294.2 99.0,294.7Z" fill="#ffbe00"/><path d="M98.3,294.2 96.9,293.7 96.4,293.1 96.1,292.1 96.3,291.1 96.7,290.4 97.6,289.8 98.3,289.7 99.0,289.8 99.8,290.4 100.2,291.1 100.4,292.1 99.7,293.6 98.3,294.2Z" fill="#ff6e00"/><path d="M98.6,293.6 97.9,293.6 97.2,293.3 96.6,292.1 96.9,290.9 97.9,290.2 99.0,290.4 99.8,291.4 99.7,292.8 98.6,293.6Z" fill="#ff1400"/></g></g>
<path d="M64.00 269.56H66.80M65.00 265.76H66.80M65.00 263.54H66.80M65.00 261.96H66.80M65.00 260.74H66.80M65.00 259.74H66.80M65.00 258.90H66.80M65.00 258.16H66.80M65.00 257.52H66.80M64.00 282.19H66.80M65.00 278.39H66.80M65.00 276.16H66.80M65.00 274.59H66.80M65.00 273.36H66.80M65.00 272.36H66.80M65.00 271.52H66.80M65.00 270.79H66.80M65.00 270.14H66.80M64.00 295.43H66.80M65.00 291.44H66.80M65.00 289.11H66.80M65.00 287.46H66.80M65.00 286.17H66.80M65.00 285.12H66.80M65.00 284.24H66.80M65.00 283.47H66.80M65.00 282.79H66.80M64.20 256.94H66.80M65.30 295.43H66.80M65.30 298.47H66.80M65.30 301.51H66.80M65.30 304.56H66.80M65.30 307.60H66.80M64.20 301.82H66.80M80.32 307.60V310.40M83.96 307.60V309.40M86.09 307.60V309.40M87.60 307.60V309.40M88.77 307.60V309.40M89.73 307.60V309.40M90.54 307.60V309.40M91.24 307.60V309.40M91.86 307.60V309.40M92.42 307.60V310.40M96.45 307.60V309.40M98.81 307.60V309.40M100.49 307.60V309.40M101.79 307.60V309.40M102.85 307.60V309.40M103.75 307.60V309.40M104.52 307.60V309.40M105.21 307.60V309.40M105.82 307.60V310.40M109.63 307.60V309.40M111.87 307.60V309.40M113.45 307.60V309.40M114.68 307.60V309.40M115.68 307.60V309.40M116.53 307.60V309.40M117.26 307.60V309.40M117.91 307.60V309.40M118.49 307.60V310.40M66.80 307.60V309.40M69.50 307.60V309.40M72.21 307.60V309.40M74.91 307.60V309.40M77.61 307.60V309.40M80.32 307.60V309.40" stroke="#231f20" stroke-width="0.95" fill="none"/>
<rect x="66.80" y="251.50" width="56.80" height="56.10" fill="none" stroke="#231f20" stroke-width="1.25"/>
<text transform="translate(52.79 260.04) scale(0.970 1)" font-size="6.00" fill="#2a2a2a" stroke="#2a2a2a" stroke-width="0.28">10</text>
<text transform="translate(59.36 257.34) scale(0.970 1)" font-size="3.60" fill="#2a2a2a" stroke="#2a2a2a" stroke-width="0.28">5</text>
<text transform="translate(52.79 272.66) scale(0.970 1)" font-size="6.00" fill="#2a2a2a" stroke="#2a2a2a" stroke-width="0.28">10</text>
<text transform="translate(59.36 269.96) scale(0.970 1)" font-size="3.60" fill="#2a2a2a" stroke="#2a2a2a" stroke-width="0.28">4</text>
<text transform="translate(52.79 285.29) scale(0.970 1)" font-size="6.00" fill="#2a2a2a" stroke="#2a2a2a" stroke-width="0.28">10</text>
<text transform="translate(59.36 282.59) scale(0.970 1)" font-size="3.60" fill="#2a2a2a" stroke="#2a2a2a" stroke-width="0.28">3</text>
<text transform="translate(52.79 298.53) scale(0.970 1)" font-size="6.00" fill="#2a2a2a" stroke="#2a2a2a" stroke-width="0.28">10</text>
<text transform="translate(59.36 295.83) scale(0.970 1)" font-size="3.60" fill="#2a2a2a" stroke="#2a2a2a" stroke-width="0.28">2</text>
<text transform="translate(59.80 303.72) scale(0.970 1)" font-size="6.00" text-anchor="end" fill="#2a2a2a" stroke="#2a2a2a" stroke-width="0.28">0</text>
<rect x="86.30" y="251.90" width="26.00" height="26.80" fill="none" stroke="#555" stroke-width="0.90"/>
<text transform="translate(68.60 259.60) scale(0.950 1)" font-size="6.20" fill="#2a2a2a" stroke="#2a2a2a" stroke-width="0.28">11</text>
<g clip-path="url(#c4)"><g filter="url(#bl)"><path d="M100.8,366.8 98.3,366.9 96.5,366.7 95.1,366.2 94.1,365.4 90.6,361.1 89.3,359.1 88.1,355.9 87.6,352.8 87.6,350.3 88.1,347.9 92.1,335.6 92.3,327.6 93.2,322.6 93.8,321.2 94.8,320.2 96.2,319.6 98.3,319.3 101.4,319.3 103.5,319.8 104.9,320.9 105.8,322.6 106.7,327.9 106.9,336.6 107.7,341.9 109.2,348.2 109.6,351.0 109.6,353.1 109.2,355.6 108.6,357.6 107.6,359.8 103.7,365.4 102.5,366.3 100.8,366.8Z" fill="#0000ff"/><path d="M100.0,366.1 96.5,365.9 95.4,365.4 94.3,364.3 90.0,358.0 89.0,355.2 88.6,352.1 89.1,348.2 93.0,335.6 93.2,328.6 94.0,324.1 94.8,322.5 95.8,321.6 97.2,321.0 99.3,320.8 101.4,321.0 103.2,321.6 104.3,322.6 105.1,324.4 105.9,328.9 105.9,336.3 106.8,342.2 108.3,349.2 108.6,351.7 108.0,355.9 106.5,359.4 103.2,364.7 101.8,365.7 100.0,366.1Z" fill="#0028ff"/><path d="M101.1,365.0 99.3,365.3 97.2,365.2 96.2,364.8 95.1,363.9 90.8,357.3 89.9,354.9 89.5,352.1 89.6,350.3 90.1,348.2 94.1,335.6 94.1,329.6 94.8,326.0 95.5,324.5 96.5,323.4 97.9,322.8 99.3,322.6 101.1,322.8 102.5,323.5 103.5,324.6 104.4,326.5 104.9,330.4 104.8,335.9 107.7,351.4 107.3,354.9 106.1,358.0 103.0,363.6 102.1,364.5 101.1,365.0Z" fill="#006eff"/><path d="M100.0,364.3 97.2,364.3 96.2,363.8 95.3,362.9 91.5,356.6 90.7,354.1 90.3,351.7 90.7,349.2 93.7,339.4 95.5,335.6 95.3,330.7 95.7,327.9 96.4,326.5 97.2,325.5 98.3,325.0 99.3,324.8 100.8,325.0 101.8,325.6 102.8,326.9 103.4,328.2 103.7,331.1 103.4,335.9 104.4,339.1 106.8,351.4 106.2,355.2 104.1,360.1 102.1,363.3 101.1,364.0 100.0,364.3Z" fill="#00b9ff"/><path d="M99.7,363.3 97.2,363.1 96.2,362.4 95.4,361.5 93.6,358.7 92.2,355.9 91.4,353.4 91.1,351.4 91.4,349.2 95.1,339.4 95.8,338.3 98.0,335.9 98.1,335.2 97.0,332.1 97.0,330.4 97.8,328.2 98.6,327.6 99.3,327.4 100.0,327.5 100.8,327.9 101.9,329.6 102.0,332.1 100.8,335.2 100.8,335.9 102.5,338.3 103.1,339.4 105.8,349.6 106.1,351.4 105.5,354.5 103.4,359.8 101.4,362.5 99.7,363.3Z" fill="#00f5ff"/><path d="M100.4,361.5 99.3,361.8 97.9,361.8 96.9,361.4 95.8,360.4 94.7,358.7 92.9,355.2 92.1,353.1 91.8,351.7 92.2,349.2 94.8,343.7 96.9,340.9 97.6,340.3 98.6,339.9 99.7,340.0 100.4,340.4 102.5,343.3 104.9,349.2 105.3,351.0 105.1,353.1 103.1,358.4 101.8,360.4 100.4,361.5Z" fill="#00ffaa"/><path d="M100.0,359.5 97.9,359.6 96.5,358.8 93.2,353.4 92.6,351.7 92.8,349.9 93.8,348.3 96.5,345.0 98.3,344.2 99.7,344.4 101.1,345.4 103.6,348.6 104.4,350.6 104.2,352.8 101.8,357.6 101.1,358.7 100.0,359.5Z" fill="#14f03c"/><path d="M99.7,355.6 98.3,355.9 96.9,355.3 94.8,353.7 93.7,352.1 93.6,350.6 94.3,349.2 95.5,348.1 97.2,347.2 99.0,347.0 100.8,347.6 102.5,348.8 103.4,350.3 103.4,351.7 102.8,353.1 101.4,354.5 99.7,355.6Z" fill="#78f500"/><path d="M99.3,354.2 98.3,354.2 96.9,353.9 95.8,353.4 94.9,352.4 94.5,351.4 94.6,350.3 95.1,349.5 96.2,348.7 97.9,348.1 99.7,348.2 101.1,348.8 102.2,349.9 102.5,351.4 102.1,352.4 101.1,353.5 99.3,354.2Z" fill="#e6f500"/><path d="M99.0,353.5 96.9,353.2 95.5,352.1 95.3,350.6 95.6,349.9 96.5,349.2 97.9,348.7 99.3,348.8 100.8,349.3 101.6,350.3 101.8,351.4 101.3,352.4 100.4,353.1 99.0,353.5Z" fill="#ffbe00"/><path d="M99.7,352.8 97.9,353.0 96.6,352.4 95.8,351.4 96.0,350.3 96.8,349.6 97.9,349.2 99.3,349.2 100.4,349.7 101.1,350.5 101.2,351.4 100.8,352.2 99.7,352.8Z" fill="#ff6e00"/><path d="M99.3,352.4 97.9,352.5 97.0,352.1 96.5,351.4 96.7,350.3 98.3,349.6 99.3,349.7 100.0,350.1 100.5,350.6 100.6,351.4 100.1,352.1 99.3,352.4Z" fill="#ff1400"/></g></g>
<path d="M64.00 330.56H66.80M65.00 326.76H66.80M65.00 324.54H66.80M65.00 322.96H66.80M65.00 321.74H66.80M65.00 320.74H66.80M65.00 319.90H66.80M65.00 319.16H66.80M65.00 318.52H66.80M64.00 343.19H66.80M65.00 339.39H66.80M65.00 337.16H66.80M65.00 335.59H66.80M65.00 334.36H66.80M65.00 333.36H66.80M65.00 332.52H66.80M65.00 331.79H66.80M65.00 331.14H66.80M64.00 356.43H66.80M65.00 352.44H66.80M65.00 350.11H66.80M65.00 348.46H66.80M65.00 347.17H66.80M65.00 346.12H66.80M65.00 345.24H66.80M65.00 344.47H66.80M65.00 343.79H66.80M64.20 317.94H66.80M65.30 356.43H66.80M65.30 359.47H66.80M65.30 362.51H66.80M65.30 365.56H66.80M65.30 368.60H66.80M64.20 362.82H66.80M80.32 368.60V371.40M83.96 368.60V370.40M86.09 368.60V370.40M87.60 368.60V370.40M88.77 368.60V370.40M89.73 368.60V370.40M90.54 368.60V370.40M91.24 368.60V370.40M91.86 368.60V370.40M92.42 368.60V371.40M96.45 368.60V370.40M98.81 368.60V370.40M100.49 368.60V370.40M101.79 368.60V370.40M102.85 368.60V370.40M103.75 368.60V370.40M104.52 368.60V370.40M105.21 368.60V370.40M105.82 368.60V371.40M109.63 368.60V370.40M111.87 368.60V370.40M113.45 368.60V370.40M114.68 368.60V370.40M115.68 368.60V370.40M116.53 368.60V370.40M117.26 368.60V370.40M117.91 368.60V370.40M118.49 368.60V371.40M66.80 368.60V370.40M69.50 368.60V370.40M72.21 368.60V370.40M74.91 368.60V370.40M77.61 368.60V370.40M80.32 368.60V370.40" stroke="#231f20" stroke-width="0.95" fill="none"/>
<rect x="66.80" y="312.50" width="56.80" height="56.10" fill="none" stroke="#231f20" stroke-width="1.25"/>
<text transform="translate(52.79 321.04) scale(0.970 1)" font-size="6.00" fill="#2a2a2a" stroke="#2a2a2a" stroke-width="0.28">10</text>
<text transform="translate(59.36 318.34) scale(0.970 1)" font-size="3.60" fill="#2a2a2a" stroke="#2a2a2a" stroke-width="0.28">5</text>
<text transform="translate(52.79 333.66) scale(0.970 1)" font-size="6.00" fill="#2a2a2a" stroke="#2a2a2a" stroke-width="0.28">10</text>
<text transform="translate(59.36 330.96) scale(0.970 1)" font-size="3.60" fill="#2a2a2a" stroke="#2a2a2a" stroke-width="0.28">4</text>
<text transform="translate(52.79 346.29) scale(0.970 1)" font-size="6.00" fill="#2a2a2a" stroke="#2a2a2a" stroke-width="0.28">10</text>
<text transform="translate(59.36 343.59) scale(0.970 1)" font-size="3.60" fill="#2a2a2a" stroke="#2a2a2a" stroke-width="0.28">3</text>
<text transform="translate(52.79 359.53) scale(0.970 1)" font-size="6.00" fill="#2a2a2a" stroke="#2a2a2a" stroke-width="0.28">10</text>
<text transform="translate(59.36 356.83) scale(0.970 1)" font-size="3.60" fill="#2a2a2a" stroke="#2a2a2a" stroke-width="0.28">2</text>
<text transform="translate(59.80 364.72) scale(0.970 1)" font-size="6.00" text-anchor="end" fill="#2a2a2a" stroke="#2a2a2a" stroke-width="0.28">0</text>
<text transform="translate(73.28 380.80) scale(0.850 1)" font-size="5.40" text-anchor="middle" fill="#3a3a3a" stroke="#3a3a3a" stroke-width="0.28">0</text>
<text transform="translate(77.03 380.80) scale(0.970 1)" font-size="5.40" fill="#2a2a2a" stroke="#2a2a2a" stroke-width="0.28">10</text>
<text transform="translate(82.96 378.37) scale(0.970 1)" font-size="3.24" fill="#2a2a2a" stroke="#2a2a2a" stroke-width="0.28">2</text>
<text transform="translate(89.13 380.80) scale(0.970 1)" font-size="5.40" fill="#2a2a2a" stroke="#2a2a2a" stroke-width="0.28">10</text>
<text transform="translate(95.06 378.37) scale(0.970 1)" font-size="3.24" fill="#2a2a2a" stroke="#2a2a2a" stroke-width="0.28">3</text>
<text transform="translate(102.53 380.80) scale(0.970 1)" font-size="5.40" fill="#2a2a2a" stroke="#2a2a2a" stroke-width="0.28">10</text>
<text transform="translate(108.46 378.37) scale(0.970 1)" font-size="3.24" fill="#2a2a2a" stroke="#2a2a2a" stroke-width="0.28">4</text>
<text transform="translate(115.20 380.80) scale(0.970 1)" font-size="5.40" fill="#2a2a2a" stroke="#2a2a2a" stroke-width="0.28">10</text>
<text transform="translate(121.13 378.37) scale(0.970 1)" font-size="3.24" fill="#2a2a2a" stroke="#2a2a2a" stroke-width="0.28">5</text>
<rect x="86.30" y="312.90" width="26.00" height="26.80" fill="none" stroke="#555" stroke-width="0.90"/>
<text transform="translate(68.60 320.60) scale(0.950 1)" font-size="6.20" fill="#2a2a2a" stroke="#2a2a2a" stroke-width="0.28">18</text>
<g clip-path="url(#c5)"><g filter="url(#bl)"><path d="M180.2,184.0 178.4,184.1 177.0,183.6 175.6,182.6 174.5,181.1 173.6,179.0 172.6,175.5 171.9,172.0 171.7,169.2 171.8,166.8 172.4,164.3 174.6,159.4 174.9,158.0 175.1,155.2 174.9,147.9 175.3,145.1 176.2,143.3 178.8,140.6 179.8,140.2 180.8,141.0 181.6,143.0 183.3,157.3 183.9,159.4 186.0,164.0 186.5,166.4 186.7,168.9 186.2,173.4 184.3,179.7 182.5,182.5 181.6,183.3 180.2,184.0Z" fill="#0000ff"/><path d="M180.2,183.0 178.8,183.1 177.3,182.7 176.1,181.8 175.1,180.4 174.2,178.3 173.3,175.2 172.7,171.7 172.5,169.2 173.0,165.0 175.2,160.1 175.6,158.4 175.5,148.6 175.8,146.1 176.3,145.0 178.8,141.7 179.8,141.1 180.5,141.6 181.2,143.3 182.7,158.0 183.3,160.0 185.3,164.3 185.9,168.5 185.5,172.7 183.9,178.7 182.2,181.5 181.2,182.4 180.2,183.0Z" fill="#0028ff"/><path d="M179.1,182.2 178.1,182.0 177.0,181.4 176.0,180.4 175.3,179.0 173.7,173.1 173.2,168.5 173.8,165.0 175.9,160.5 176.3,159.1 176.2,149.6 176.5,147.5 178.8,143.0 179.4,142.3 179.8,142.2 180.5,143.0 180.9,144.4 181.3,151.4 182.1,158.7 182.7,160.5 184.8,165.0 185.3,168.9 184.6,173.4 182.9,179.0 181.2,181.3 180.2,181.9 179.1,182.2Z" fill="#006eff"/><path d="M179.1,181.1 178.1,180.9 177.2,180.4 175.8,178.3 174.4,172.7 173.9,168.5 174.4,165.0 177.3,159.1 177.7,150.7 178.7,148.2 179.1,144.9 179.4,144.1 179.8,144.1 180.1,145.4 179.7,149.6 180.9,158.4 181.4,159.8 184.1,164.7 184.6,166.4 184.7,168.5 184.1,172.4 182.3,178.3 180.8,180.4 180.2,180.9 179.1,181.1Z" fill="#00b9ff"/><path d="M179.8,179.9 178.8,180.0 178.1,179.7 176.7,178.1 175.1,172.7 174.4,168.9 174.7,166.1 175.4,164.0 177.3,161.2 178.1,160.6 179.1,160.2 179.8,160.3 180.8,160.9 182.6,162.8 183.7,165.0 184.2,167.5 183.8,171.0 182.0,176.9 181.2,178.7 179.8,179.9Z" fill="#00f5ff"/><path d="M179.4,178.4 178.4,178.3 177.3,176.9 175.4,171.0 175.0,168.2 175.3,165.7 176.2,163.6 177.7,162.0 179.4,161.4 181.2,162.1 182.6,163.6 183.5,165.7 183.8,167.8 183.3,170.6 181.2,176.2 180.5,177.6 179.4,178.4Z" fill="#00ffaa"/><path d="M179.1,174.9 178.1,174.1 176.5,171.7 175.8,169.6 175.6,167.5 175.9,165.7 176.7,164.0 178.1,162.7 179.4,162.3 180.8,162.8 182.1,164.0 183.0,165.7 183.2,167.8 182.9,169.9 182.1,171.7 180.2,174.3 179.1,174.9Z" fill="#14f03c"/><path d="M180.2,172.0 178.8,172.1 177.7,171.4 176.7,169.9 176.3,168.2 176.3,166.4 176.9,165.0 177.7,163.9 179.1,163.3 180.2,163.3 181.2,164.0 182.0,165.0 182.6,166.8 182.5,168.5 182.1,169.9 181.2,171.3 180.2,172.0Z" fill="#78f500"/><path d="M179.8,171.0 178.8,170.9 177.8,170.2 177.2,169.2 176.8,167.8 177.0,166.4 177.6,165.0 178.4,164.3 179.4,164.0 180.5,164.3 181.2,164.9 181.8,166.1 182.0,167.1 181.9,168.5 181.5,169.6 180.8,170.4 179.8,171.0Z" fill="#e6f500"/><path d="M179.4,170.3 178.8,170.1 178.0,169.6 177.5,168.5 177.3,167.5 177.5,166.4 178.0,165.4 178.8,164.8 179.4,164.6 180.2,164.7 180.9,165.4 181.5,166.4 181.6,167.5 181.4,168.5 180.9,169.6 180.2,170.1 179.4,170.3Z" fill="#ffbe00"/><path d="M179.8,169.7 179.1,169.7 178.4,169.2 177.9,168.5 177.7,167.5 177.9,166.4 178.3,165.7 179.4,165.1 180.7,165.7 181.2,167.1 180.8,168.8 179.8,169.7Z" fill="#ff6e00"/><path d="M180.2,168.9 179.1,169.1 178.2,168.2 178.2,166.8 178.6,166.1 179.1,165.7 180.2,165.8 180.7,166.8 180.8,167.8 180.2,168.9Z" fill="#ff1400"/></g></g>
<path d="M140.60 147.33H143.40M141.60 143.54H143.40M141.60 141.32H143.40M141.60 139.75H143.40M141.60 138.52H143.40M141.60 137.53H143.40M141.60 136.68H143.40M141.60 135.95H143.40M141.60 135.31H143.40M140.60 159.93H143.40M141.60 156.14H143.40M141.60 153.92H143.40M141.60 152.35H143.40M141.60 151.12H143.40M141.60 150.13H143.40M141.60 149.28H143.40M141.60 148.55H143.40M141.60 147.91H143.40M140.60 173.15H143.40M141.60 169.17H143.40M141.60 166.84H143.40M141.60 165.19H143.40M141.60 163.91H143.40M141.60 162.86H143.40M141.60 161.98H143.40M141.60 161.21H143.40M141.60 160.54H143.40M140.80 134.73H143.40M141.90 173.15H143.40M141.90 176.19H143.40M141.90 179.22H143.40M141.90 182.26H143.40M141.90 185.30H143.40M140.80 179.53H143.40M157.16 185.30V188.10M160.86 185.30V187.10M163.03 185.30V187.10M164.57 185.30V187.10M165.76 185.30V187.10M166.74 185.30V187.10M167.56 185.30V187.10M168.27 185.30V187.10M168.90 185.30V187.10M169.47 185.30V188.10M173.57 185.30V187.10M175.98 185.30V187.10M177.68 185.30V187.10M179.00 185.30V187.10M180.08 185.30V187.10M181.00 185.30V187.10M181.79 185.30V187.10M182.48 185.30V187.10M183.11 185.30V188.10M186.99 185.30V187.10M189.26 185.30V187.10M190.87 185.30V187.10M192.12 185.30V187.10M193.14 185.30V187.10M194.00 185.30V187.10M194.75 185.30V187.10M195.41 185.30V187.10M196.00 185.30V188.10M143.40 185.30V187.10M146.15 185.30V187.10M148.90 185.30V187.10M151.65 185.30V187.10M154.41 185.30V187.10M157.16 185.30V187.10" stroke="#231f20" stroke-width="0.95" fill="none"/>
<rect x="143.40" y="129.30" width="57.80" height="56.00" fill="none" stroke="#231f20" stroke-width="1.25"/>
<text transform="translate(129.39 137.83) scale(0.970 1)" font-size="6.00" fill="#2a2a2a" stroke="#2a2a2a" stroke-width="0.28">10</text>
<text transform="translate(135.96 135.13) scale(0.970 1)" font-size="3.60" fill="#2a2a2a" stroke="#2a2a2a" stroke-width="0.28">5</text>
<text transform="translate(129.39 150.43) scale(0.970 1)" font-size="6.00" fill="#2a2a2a" stroke="#2a2a2a" stroke-width="0.28">10</text>
<text transform="translate(135.96 147.73) scale(0.970 1)" font-size="3.60" fill="#2a2a2a" stroke="#2a2a2a" stroke-width="0.28">4</text>
<text transform="translate(129.39 163.03) scale(0.970 1)" font-size="6.00" fill="#2a2a2a" stroke="#2a2a2a" stroke-width="0.28">10</text>
<text transform="translate(135.96 160.33) scale(0.970 1)" font-size="3.60" fill="#2a2a2a" stroke="#2a2a2a" stroke-width="0.28">3</text>
<text transform="translate(129.39 176.25) scale(0.970 1)" font-size="6.00" fill="#2a2a2a" stroke="#2a2a2a" stroke-width="0.28">10</text>
<text transform="translate(135.96 173.55) scale(0.970 1)" font-size="3.60" fill="#2a2a2a" stroke="#2a2a2a" stroke-width="0.28">2</text>
<text transform="translate(136.40 181.43) scale(0.970 1)" font-size="6.00" text-anchor="end" fill="#2a2a2a" stroke="#2a2a2a" stroke-width="0.28">0</text>
<rect x="164.40" y="129.70" width="23.20" height="31.10" fill="none" stroke="#555" stroke-width="0.90"/>
<text transform="translate(199.20 137.40) scale(0.950 1)" font-size="6.20" text-anchor="end" fill="#2a2a2a" stroke="#2a2a2a" stroke-width="0.28">13</text>
<g clip-path="url(#c6)"><g filter="url(#bl)"><path d="M179.4,242.0 176.7,242.0 171.4,240.6 170.3,239.9 169.7,239.1 168.9,237.0 168.7,232.1 168.9,207.2 169.3,204.6 170.0,202.7 171.0,201.7 172.1,201.2 177.7,200.9 180.2,201.3 181.6,202.5 182.5,205.2 183.0,211.5 183.1,229.7 183.5,235.2 183.1,237.4 182.1,239.8 180.8,241.3 179.4,242.0Z" fill="#0000ff"/><path d="M179.4,240.9 178.1,241.1 176.7,241.0 172.1,239.8 170.3,238.5 169.5,236.3 169.3,231.8 169.4,212.9 169.6,208.0 170.0,205.7 170.7,204.1 171.4,203.4 172.8,202.9 177.0,202.4 179.8,202.7 180.5,203.2 181.2,204.0 182.1,206.9 182.6,213.9 182.9,234.9 182.5,237.0 181.7,238.8 180.8,239.9 179.4,240.9Z" fill="#0028ff"/><path d="M178.8,239.8 175.9,239.8 173.2,239.0 171.8,238.3 170.6,236.7 170.1,233.5 170.3,212.5 170.7,208.0 171.2,206.6 172.1,205.6 175.2,204.3 177.3,203.9 179.4,204.2 180.2,204.6 180.8,205.5 181.7,208.3 182.2,213.2 182.4,226.5 182.2,234.9 181.8,236.7 180.8,238.4 179.8,239.4 178.8,239.8Z" fill="#006eff"/><path d="M178.8,238.5 177.3,238.7 175.9,238.5 172.8,237.2 172.1,236.5 171.6,235.6 171.2,232.8 171.3,230.7 172.1,226.2 172.2,214.6 172.6,210.8 173.3,208.7 174.6,206.6 175.9,205.5 177.3,205.2 178.4,205.2 179.4,205.6 180.6,206.9 181.5,209.7 181.9,214.2 182.1,226.9 181.8,233.9 181.4,235.6 180.8,236.7 179.8,237.9 178.8,238.5Z" fill="#00b9ff"/><path d="M178.8,237.1 176.7,237.3 174.6,236.3 173.3,234.6 172.9,232.5 173.3,227.2 173.5,215.0 173.8,211.5 174.4,209.0 175.2,207.6 176.3,206.6 177.7,206.2 178.8,206.4 179.4,206.8 180.5,208.2 181.3,211.1 181.6,215.0 181.8,227.2 181.4,232.8 181.0,234.6 180.5,235.7 179.8,236.5 178.8,237.1Z" fill="#00f5ff"/><path d="M178.4,236.0 176.7,236.0 175.1,234.9 174.1,232.8 173.8,230.0 174.0,215.3 174.3,211.8 174.8,210.1 175.6,208.4 176.7,207.4 177.7,207.2 179.1,207.6 180.2,209.0 181.0,211.8 181.3,215.3 181.5,227.2 181.1,231.4 180.7,233.5 180.2,234.8 179.4,235.5 178.4,236.0Z" fill="#00ffaa"/><path d="M178.8,234.7 177.0,234.8 175.6,233.8 174.7,231.8 174.3,228.6 174.5,215.3 174.8,212.5 175.2,210.8 175.9,209.4 176.7,208.6 177.7,208.2 179.1,208.7 180.0,210.1 180.6,212.2 180.9,215.0 181.0,229.3 180.2,233.0 179.4,234.1 178.8,234.7Z" fill="#14f03c"/><path d="M178.1,233.6 176.7,233.2 175.7,232.1 175.1,230.0 174.9,227.6 175.4,221.2 175.1,216.0 175.3,213.2 176.2,210.4 177.0,209.6 177.7,209.3 178.8,209.7 179.4,210.4 180.3,213.2 180.4,216.0 180.2,221.2 180.6,226.9 180.4,229.7 179.9,231.8 179.1,233.0 178.1,233.6Z" fill="#78f500"/><path d="M177.7,232.5 176.7,232.0 176.0,231.1 175.5,229.3 175.4,227.2 175.6,224.9 176.4,221.2 175.7,216.7 175.8,213.6 176.4,211.5 177.0,210.7 177.7,210.4 178.4,210.6 179.1,211.3 179.8,213.6 179.9,216.7 179.2,221.2 180.0,225.1 180.2,227.2 180.0,229.3 179.4,231.1 178.8,232.1 177.7,232.5Z" fill="#e6f500"/><path d="M178.1,219.6 177.3,219.5 176.7,218.5 176.1,215.7 176.2,213.9 176.5,212.5 177.0,211.7 177.7,211.2 178.4,211.5 178.9,212.2 179.5,215.0 179.1,218.1 178.8,218.9 178.1,219.6ZM178.1,231.5 177.3,231.5 176.5,230.7 176.1,229.7 175.8,227.9 175.9,226.2 176.3,224.4 177.0,223.1 177.7,222.6 178.4,222.9 179.1,223.9 179.7,226.9 179.3,230.0 178.8,231.1 178.1,231.5Z" fill="#ffbe00"/><path d="M178.1,218.3 177.3,218.2 177.0,217.8 176.4,215.7 176.7,213.2 177.0,212.5 177.7,212.0 178.4,212.3 178.8,212.8 179.2,214.6 178.9,217.1 178.1,218.3ZM178.1,230.8 177.3,230.8 176.7,230.0 176.2,227.9 176.6,225.1 177.0,224.3 177.7,223.9 178.4,224.1 178.9,224.8 179.4,227.2 179.1,229.5 178.8,230.2 178.1,230.8Z" fill="#ff6e00"/><path d="M178.1,217.2 177.3,217.1 176.8,215.3 177.0,213.6 177.7,212.7 178.4,213.2 178.8,214.6 178.6,216.4 178.1,217.2ZM178.1,230.1 177.3,230.0 177.0,229.6 176.5,227.9 176.8,225.8 177.7,224.9 178.6,225.5 179.0,227.2 178.8,229.2 178.1,230.1Z" fill="#ff1400"/></g></g>
<path d="M140.60 208.86H143.40M141.60 205.06H143.40M141.60 202.84H143.40M141.60 201.26H143.40M141.60 200.04H143.40M141.60 199.04H143.40M141.60 198.20H143.40M141.60 197.46H143.40M141.60 196.82H143.40M140.60 221.49H143.40M141.60 217.69H143.40M141.60 215.46H143.40M141.60 213.89H143.40M141.60 212.66H143.40M141.60 211.66H143.40M141.60 210.82H143.40M141.60 210.09H143.40M141.60 209.44H143.40M140.60 234.73H143.40M141.60 230.74H143.40M141.60 228.41H143.40M141.60 226.76H143.40M141.60 225.47H143.40M141.60 224.42H143.40M141.60 223.54H143.40M141.60 222.77H143.40M141.60 222.09H143.40M140.80 196.24H143.40M141.90 234.73H143.40M141.90 237.77H143.40M141.90 240.81H143.40M141.90 243.86H143.40M141.90 246.90H143.40M140.80 241.12H143.40M157.16 246.90V249.70M160.86 246.90V248.70M163.03 246.90V248.70M164.57 246.90V248.70M165.76 246.90V248.70M166.74 246.90V248.70M167.56 246.90V248.70M168.27 246.90V248.70M168.90 246.90V248.70M169.47 246.90V249.70M173.57 246.90V248.70M175.98 246.90V248.70M177.68 246.90V248.70M179.00 246.90V248.70M180.08 246.90V248.70M181.00 246.90V248.70M181.79 246.90V248.70M182.48 246.90V248.70M183.11 246.90V249.70M186.99 246.90V248.70M189.26 246.90V248.70M190.87 246.90V248.70M192.12 246.90V248.70M193.14 246.90V248.70M194.00 246.90V248.70M194.75 246.90V248.70M195.41 246.90V248.70M196.00 246.90V249.70M143.40 246.90V248.70M146.15 246.90V248.70M148.90 246.90V248.70M151.65 246.90V248.70M154.41 246.90V248.70M157.16 246.90V248.70" stroke="#231f20" stroke-width="0.95" fill="none"/>
<rect x="143.40" y="190.80" width="57.80" height="56.10" fill="none" stroke="#231f20" stroke-width="1.25"/>
<text transform="translate(129.39 199.34) scale(0.970 1)" font-size="6.00" fill="#2a2a2a" stroke="#2a2a2a" stroke-width="0.28">10</text>
<text transform="translate(135.96 196.64) scale(0.970 1)" font-size="3.60" fill="#2a2a2a" stroke="#2a2a2a" stroke-width="0.28">5</text>
<text transform="translate(129.39 211.96) scale(0.970 1)" font-size="6.00" fill="#2a2a2a" stroke="#2a2a2a" stroke-width="0.28">10</text>
<text transform="translate(135.96 209.26) scale(0.970 1)" font-size="3.60" fill="#2a2a2a" stroke="#2a2a2a" stroke-width="0.28">4</text>
<text transform="translate(129.39 224.59) scale(0.970 1)" font-size="6.00" fill="#2a2a2a" stroke="#2a2a2a" stroke-width="0.28">10</text>
<text transform="translate(135.96 221.89) scale(0.970 1)" font-size="3.60" fill="#2a2a2a" stroke="#2a2a2a" stroke-width="0.28">3</text>
<text transform="translate(129.39 237.83) scale(0.970 1)" font-size="6.00" fill="#2a2a2a" stroke="#2a2a2a" stroke-width="0.28">10</text>
<text transform="translate(135.96 235.13) scale(0.970 1)" font-size="3.60" fill="#2a2a2a" stroke="#2a2a2a" stroke-width="0.28">2</text>
<text transform="translate(136.40 243.02) scale(0.970 1)" font-size="6.00" text-anchor="end" fill="#2a2a2a" stroke="#2a2a2a" stroke-width="0.28">0</text>
<rect x="164.40" y="191.20" width="23.20" height="31.10" fill="none" stroke="#555" stroke-width="0.90"/>
<text transform="translate(199.20 198.90) scale(0.950 1)" font-size="6.20" text-anchor="end" fill="#2a2a2a" stroke="#2a2a2a" stroke-width="0.28">54</text>
<g clip-path="url(#c7)"><g filter="url(#bl)"><path d="M177.7,303.0 176.3,303.1 174.2,302.8 171.4,302.0 169.8,301.2 169.0,300.1 168.5,299.1 168.1,294.9 167.9,273.2 168.1,269.4 168.5,266.6 169.2,264.8 170.0,263.8 172.4,262.7 174.6,261.5 175.9,261.2 177.7,261.2 178.8,261.5 179.5,262.0 180.4,263.1 181.6,266.2 182.1,271.1 182.3,288.9 182.2,296.6 181.5,299.4 180.5,301.2 179.1,302.5 177.7,303.0Z" fill="#0000ff"/><path d="M176.7,302.3 174.6,302.0 171.4,301.0 170.1,300.1 169.4,299.1 168.8,295.6 168.6,284.1 168.7,272.1 168.9,269.1 169.4,267.2 170.3,265.7 172.1,264.6 174.2,262.8 175.2,262.3 176.7,262.2 178.4,262.4 179.4,263.2 180.5,264.8 181.1,266.9 181.7,272.5 181.9,288.9 181.8,295.6 181.0,298.8 180.2,300.4 179.1,301.5 178.1,302.0 176.7,302.3Z" fill="#0028ff"/><path d="M177.3,301.3 175.9,301.4 174.2,301.0 172.1,300.3 170.8,299.4 169.9,297.7 169.6,294.2 169.5,275.3 170.0,270.1 170.7,268.3 173.7,264.4 174.9,263.5 176.3,263.3 177.7,263.3 178.8,263.7 180.1,265.5 180.9,269.0 181.2,273.9 181.5,288.9 181.2,295.6 180.7,297.7 179.8,299.5 178.8,300.6 177.3,301.3Z" fill="#006eff"/><path d="M177.3,300.2 176.3,300.4 174.9,300.2 172.1,299.0 171.1,297.7 170.7,295.2 171.3,283.7 171.4,274.6 171.9,271.1 172.6,268.3 173.7,265.9 174.9,264.6 176.3,264.3 178.4,264.6 179.7,266.2 180.4,269.0 180.8,273.9 181.2,288.9 180.8,294.9 180.4,296.6 179.6,298.4 178.4,299.7 177.3,300.2Z" fill="#00b9ff"/><path d="M176.7,299.1 174.6,298.9 172.8,297.7 172.2,296.3 171.9,293.9 172.5,274.2 172.9,270.4 173.4,268.3 174.2,266.5 175.2,265.6 176.7,265.4 178.1,265.6 178.8,266.1 179.5,267.2 180.0,269.4 180.4,273.6 180.9,288.9 180.6,293.5 179.9,296.3 179.4,297.4 178.4,298.4 176.7,299.1Z" fill="#00f5ff"/><path d="M176.7,297.7 174.8,297.4 173.5,295.9 172.8,293.9 172.6,289.3 173.1,274.6 173.5,270.8 173.9,269.0 174.6,267.6 175.6,266.7 176.7,266.6 178.1,266.9 178.8,267.6 179.7,270.4 180.1,273.9 180.2,282.3 180.6,288.9 180.3,292.8 179.5,295.6 178.4,297.1 176.7,297.7Z" fill="#00ffaa"/><path d="M177.7,296.1 175.9,296.2 174.4,295.2 173.6,293.5 173.2,290.4 174.0,272.5 174.3,270.8 174.9,269.4 175.6,268.7 176.3,268.5 177.3,268.6 178.1,268.9 178.8,270.0 179.1,271.2 179.5,274.2 179.7,282.3 180.2,287.9 180.1,290.7 179.6,293.5 178.8,295.2 177.7,296.1Z" fill="#14f03c"/><path d="M176.7,294.9 175.6,294.6 174.6,293.5 174.0,291.8 173.7,288.9 174.6,281.6 174.9,274.6 175.6,272.5 176.7,272.0 177.7,272.4 178.4,274.3 178.8,281.9 179.8,288.9 179.5,291.4 178.8,293.5 177.7,294.7 176.7,294.9Z" fill="#78f500"/><path d="M177.3,293.7 176.3,293.7 175.2,293.0 174.6,291.6 174.2,289.6 174.4,287.2 174.9,285.0 175.6,283.7 176.7,283.0 177.7,283.4 178.4,284.6 179.3,288.2 179.2,290.0 178.8,291.8 178.1,293.1 177.3,293.7Z" fill="#e6f500"/><path d="M177.0,292.9 176.2,292.8 175.4,292.1 174.9,290.9 174.7,289.3 174.8,287.6 175.2,286.1 175.9,285.1 176.7,284.8 177.3,285.0 178.1,285.6 178.6,286.9 178.9,288.6 178.8,290.0 178.4,291.5 177.7,292.5 177.0,292.9Z" fill="#ffbe00"/><path d="M177.0,292.2 176.3,292.1 175.6,291.5 175.0,289.3 175.5,286.9 175.9,286.1 176.7,285.8 177.3,285.9 177.9,286.5 178.5,288.6 178.1,291.1 177.7,291.8 177.0,292.2Z" fill="#ff6e00"/><path d="M177.0,291.5 176.3,291.4 175.9,291.1 175.4,289.3 175.7,287.6 176.7,286.7 177.3,286.8 177.7,287.2 178.1,288.6 177.9,290.4 177.6,291.1 177.0,291.5Z" fill="#ff1400"/></g></g>
<path d="M140.60 269.56H143.40M141.60 265.76H143.40M141.60 263.54H143.40M141.60 261.96H143.40M141.60 260.74H143.40M141.60 259.74H143.40M141.60 258.90H143.40M141.60 258.16H143.40M141.60 257.52H143.40M140.60 282.19H143.40M141.60 278.39H143.40M141.60 276.16H143.40M141.60 274.59H143.40M141.60 273.36H143.40M141.60 272.36H143.40M141.60 271.52H143.40M141.60 270.79H143.40M141.60 270.14H143.40M140.60 295.43H143.40M141.60 291.44H143.40M141.60 289.11H143.40M141.60 287.46H143.40M141.60 286.17H143.40M141.60 285.12H143.40M141.60 284.24H143.40M141.60 283.47H143.40M141.60 282.79H143.40M140.80 256.94H143.40M141.90 295.43H143.40M141.90 298.47H143.40M141.90 301.51H143.40M141.90 304.56H143.40M141.90 307.60H143.40M140.80 301.82H143.40M157.16 307.60V310.40M160.86 307.60V309.40M163.03 307.60V309.40M164.57 307.60V309.40M165.76 307.60V309.40M166.74 307.60V309.40M167.56 307.60V309.40M168.27 307.60V309.40M168.90 307.60V309.40M169.47 307.60V310.40M173.57 307.60V309.40M175.98 307.60V309.40M177.68 307.60V309.40M179.00 307.60V309.40M180.08 307.60V309.40M181.00 307.60V309.40M181.79 307.60V309.40M182.48 307.60V309.40M183.11 307.60V310.40M186.99 307.60V309.40M189.26 307.60V309.40M190.87 307.60V309.40M192.12 307.60V309.40M193.14 307.60V309.40M194.00 307.60V309.40M194.75 307.60V309.40M195.41 307.60V309.40M196.00 307.60V310.40M143.40 307.60V309.40M146.15 307.60V309.40M148.90 307.60V309.40M151.65 307.60V309.40M154.41 307.60V309.40M157.16 307.60V309.40" stroke="#231f20" stroke-width="0.95" fill="none"/>
<rect x="143.40" y="251.50" width="57.80" height="56.10" fill="none" stroke="#231f20" stroke-width="1.25"/>
<text transform="translate(129.39 260.04) scale(0.970 1)" font-size="6.00" fill="#2a2a2a" stroke="#2a2a2a" stroke-width="0.28">10</text>
<text transform="translate(135.96 257.34) scale(0.970 1)" font-size="3.60" fill="#2a2a2a" stroke="#2a2a2a" stroke-width="0.28">5</text>
<text transform="translate(129.39 272.66) scale(0.970 1)" font-size="6.00" fill="#2a2a2a" stroke="#2a2a2a" stroke-width="0.28">10</text>
<text transform="translate(135.96 269.96) scale(0.970 1)" font-size="3.60" fill="#2a2a2a" stroke="#2a2a2a" stroke-width="0.28">4</text>
<text transform="translate(129.39 285.29) scale(0.970 1)" font-size="6.00" fill="#2a2a2a" stroke="#2a2a2a" stroke-width="0.28">10</text>
<text transform="translate(135.96 282.59) scale(0.970 1)" font-size="3.60" fill="#2a2a2a" stroke="#2a2a2a" stroke-width="0.28">3</text>
<text transform="translate(129.39 298.53) scale(0.970 1)" font-size="6.00" fill="#2a2a2a" stroke="#2a2a2a" stroke-width="0.28">10</text>
<text transform="translate(135.96 295.83) scale(0.970 1)" font-size="3.60" fill="#2a2a2a" stroke="#2a2a2a" stroke-width="0.28">2</text>
<text transform="translate(136.40 303.72) scale(0.970 1)" font-size="6.00" text-anchor="end" fill="#2a2a2a" stroke="#2a2a2a" stroke-width="0.28">0</text>
<rect x="164.40" y="251.90" width="23.20" height="31.10" fill="none" stroke="#555" stroke-width="0.90"/>
<text transform="translate(199.20 259.60) scale(0.950 1)" font-size="6.20" text-anchor="end" fill="#2a2a2a" stroke="#2a2a2a" stroke-width="0.28">39</text>
<g clip-path="url(#c8)"><g filter="url(#bl)"><path d="M178.8,362.7 177.0,362.7 174.2,362.0 172.7,361.1 171.5,359.8 169.5,355.9 168.9,354.1 168.4,351.0 168.3,346.4 168.3,330.4 168.6,327.2 169.1,325.1 169.7,324.0 170.7,323.1 173.5,322.3 176.7,320.1 178.4,319.8 179.8,319.9 180.8,320.4 181.7,321.2 182.5,322.6 183.5,326.5 183.8,332.1 183.9,349.9 183.6,355.2 182.7,358.0 181.6,360.3 180.2,361.9 178.8,362.7Z" fill="#0000ff"/><path d="M178.8,361.6 177.0,361.7 174.9,361.2 173.5,360.4 172.4,359.4 169.6,352.8 169.2,349.9 169.0,345.8 169.1,331.8 169.3,328.9 169.7,326.9 170.7,325.2 173.5,323.9 175.9,321.4 177.0,320.8 178.4,320.6 179.4,320.7 180.5,321.1 181.6,322.1 182.2,323.4 183.1,326.9 183.4,332.1 183.6,349.6 183.2,354.5 182.6,356.9 181.6,359.0 180.2,360.8 178.8,361.6Z" fill="#0028ff"/><path d="M178.8,360.5 177.3,360.7 175.6,360.3 174.2,359.5 173.2,358.4 170.7,350.8 170.3,348.5 170.2,345.1 170.3,333.1 170.7,329.3 171.4,328.0 173.2,326.4 175.6,322.6 177.0,321.6 178.4,321.3 179.4,321.4 180.5,321.9 181.2,322.6 182.0,324.1 182.8,327.2 183.1,331.8 183.2,349.2 182.9,353.8 182.4,355.9 181.6,357.8 180.2,359.6 178.8,360.5Z" fill="#006eff"/><path d="M178.1,359.4 177.0,359.4 175.6,358.9 174.6,358.0 174.0,356.9 173.1,353.4 173.0,347.9 173.2,332.4 173.7,328.2 174.4,325.8 175.6,323.5 177.0,322.3 178.4,321.9 179.8,322.2 181.1,323.4 182.0,325.1 182.5,327.2 182.8,330.7 182.9,349.2 182.7,353.1 181.8,356.2 180.2,358.4 179.1,359.1 178.1,359.4Z" fill="#00b9ff"/><path d="M179.1,358.1 178.1,358.3 177.0,358.2 175.9,357.6 175.2,357.0 174.1,354.5 173.8,351.4 174.0,331.8 174.3,328.2 174.9,325.8 175.8,324.1 177.0,322.9 178.4,322.5 180.2,323.0 181.4,324.8 182.2,327.2 182.5,330.7 182.7,348.9 182.5,352.1 182.1,354.1 181.4,355.9 180.5,357.2 179.1,358.1Z" fill="#00f5ff"/><path d="M179.4,357.0 177.7,357.2 176.7,356.9 175.9,356.2 174.7,354.1 174.3,351.0 174.8,328.2 175.4,325.8 176.2,324.4 177.3,323.4 178.4,323.0 179.8,323.4 181.0,324.8 181.8,326.9 182.1,330.0 182.2,351.4 181.9,353.4 181.2,355.2 180.5,356.3 179.4,357.0Z" fill="#00ffaa"/><path d="M179.4,356.0 177.7,356.2 176.2,355.2 175.2,353.1 174.8,350.3 175.3,342.2 175.1,330.7 175.3,328.2 175.7,326.5 176.4,325.1 177.3,324.1 178.4,323.8 179.8,324.2 180.8,325.4 181.4,327.2 181.7,330.0 181.5,340.9 181.9,350.6 181.1,354.1 180.5,355.2 179.4,356.0Z" fill="#14f03c"/><path d="M179.4,354.9 178.1,355.1 176.7,354.3 175.7,352.4 175.4,349.9 176.3,340.5 176.3,336.3 175.7,331.1 175.8,328.6 176.7,325.8 177.3,325.1 178.4,324.6 179.4,324.9 180.4,326.1 181.0,327.9 181.2,329.6 180.6,336.6 180.5,340.1 180.7,342.9 181.4,347.9 181.5,350.3 180.8,353.1 180.2,354.3 179.4,354.9Z" fill="#78f500"/><path d="M179.1,335.0 178.1,335.2 177.3,334.5 176.7,332.9 176.3,330.7 176.3,328.9 176.7,327.2 177.3,326.1 178.4,325.5 179.1,325.7 179.9,326.5 180.4,327.6 180.7,329.3 180.3,332.8 179.8,334.2 179.1,335.0ZM179.4,353.8 178.4,354.1 177.3,353.8 176.4,352.4 176.0,350.6 176.0,348.2 176.6,345.8 177.3,344.2 178.4,343.6 179.1,343.8 179.8,344.5 180.5,346.1 180.9,348.2 181.0,349.9 180.7,351.7 180.2,353.1 179.4,353.8Z" fill="#e6f500"/><path d="M179.1,333.2 178.4,333.4 177.7,333.1 177.0,331.8 176.7,330.4 176.7,328.9 177.1,327.6 177.7,326.6 178.4,326.3 179.1,326.4 179.5,326.9 180.2,328.9 180.1,331.4 179.7,332.4 179.1,333.2ZM179.1,353.2 178.1,353.3 177.3,352.8 176.7,351.7 176.4,350.3 176.4,348.6 176.9,346.8 177.7,345.6 178.4,345.4 179.1,345.5 179.8,346.2 180.6,348.9 180.2,351.7 179.8,352.5 179.1,353.2Z" fill="#ffbe00"/><path d="M179.1,332.1 178.4,332.4 177.9,332.1 177.1,330.4 177.3,328.0 177.7,327.3 178.4,326.9 179.1,327.1 179.4,327.6 179.9,328.9 179.8,330.7 179.1,332.1ZM179.1,352.5 178.4,352.7 177.7,352.4 177.0,351.4 176.8,350.3 176.8,348.9 177.1,347.5 177.7,346.7 178.4,346.3 179.4,346.8 180.2,348.9 180.0,351.0 179.1,352.5Z" fill="#ff6e00"/><path d="M178.4,331.4 177.7,330.7 177.5,329.6 177.7,328.4 178.4,327.6 179.1,328.0 179.5,329.6 179.1,331.0 178.4,331.4ZM179.1,351.8 178.8,352.0 178.1,351.9 177.5,351.4 177.2,350.3 177.3,348.3 177.7,347.6 178.4,347.2 179.2,347.5 179.8,348.9 179.7,350.6 179.1,351.8Z" fill="#ff1400"/></g></g>
<path d="M140.60 330.56H143.40M141.60 326.76H143.40M141.60 324.54H143.40M141.60 322.96H143.40M141.60 321.74H143.40M141.60 320.74H143.40M141.60 319.90H143.40M141.60 319.16H143.40M141.60 318.52H143.40M140.60 343.19H143.40M141.60 339.39H143.40M141.60 337.16H143.40M141.60 335.59H143.40M141.60 334.36H143.40M141.60 333.36H143.40M141.60 332.52H143.40M141.60 331.79H143.40M141.60 331.14H143.40M140.60 356.43H143.40M141.60 352.44H143.40M141.60 350.11H143.40M141.60 348.46H143.40M141.60 347.17H143.40M141.60 346.12H143.40M141.60 345.24H143.40M141.60 344.47H143.40M141.60 343.79H143.40M140.80 317.94H143.40M141.90 356.43H143.40M141.90 359.47H143.40M141.90 362.51H143.40M141.90 365.56H143.40M141.90 368.60H143.40M140.80 362.82H143.40M157.16 368.60V371.40M160.86 368.60V370.40M163.03 368.60V370.40M164.57 368.60V370.40M165.76 368.60V370.40M166.74 368.60V370.40M167.56 368.60V370.40M168.27 368.60V370.40M168.90 368.60V370.40M169.47 368.60V371.40M173.57 368.60V370.40M175.98 368.60V370.40M177.68 368.60V370.40M179.00 368.60V370.40M180.08 368.60V370.40M181.00 368.60V370.40M181.79 368.60V370.40M182.48 368.60V370.40M183.11 368.60V371.40M186.99 368.60V370.40M189.26 368.60V370.40M190.87 368.60V370.40M192.12 368.60V370.40M193.14 368.60V370.40M194.00 368.60V370.40M194.75 368.60V370.40M195.41 368.60V370.40M196.00 368.60V371.40M143.40 368.60V370.40M146.15 368.60V370.40M148.90 368.60V370.40M151.65 368.60V370.40M154.41 368.60V370.40M157.16 368.60V370.40" stroke="#231f20" stroke-width="0.95" fill="none"/>
<rect x="143.40" y="312.50" width="57.80" height="56.10" fill="none" stroke="#231f20" stroke-width="1.25"/>
<text transform="translate(129.39 321.04) scale(0.970 1)" font-size="6.00" fill="#2a2a2a" stroke="#2a2a2a" stroke-width="0.28">10</text>
<text transform="translate(135.96 318.34) scale(0.970 1)" font-size="3.60" fill="#2a2a2a" stroke="#2a2a2a" stroke-width="0.28">5</text>
<text transform="translate(129.39 333.66) scale(0.970 1)" font-size="6.00" fill="#2a2a2a" stroke="#2a2a2a" stroke-width="0.28">10</text>
<text transform="translate(135.96 330.96) scale(0.970 1)" font-size="3.60" fill="#2a2a2a" stroke="#2a2a2a" stroke-width="0.28">4</text>
<text transform="translate(129.39 346.29) scale(0.970 1)" font-size="6.00" fill="#2a2a2a" stroke="#2a2a2a" stroke-width="0.28">10</text>
<text transform="translate(135.96 343.59) scale(0.970 1)" font-size="3.60" fill="#2a2a2a" stroke="#2a2a2a" stroke-width="0.28">3</text>
<text transform="translate(129.39 359.53) scale(0.970 1)" font-size="6.00" fill="#2a2a2a" stroke="#2a2a2a" stroke-width="0.28">10</text>
<text transform="translate(135.96 356.83) scale(0.970 1)" font-size="3.60" fill="#2a2a2a" stroke="#2a2a2a" stroke-width="0.28">2</text>
<text transform="translate(136.40 364.72) scale(0.970 1)" font-size="6.00" text-anchor="end" fill="#2a2a2a" stroke="#2a2a2a" stroke-width="0.28">0</text>
<text transform="translate(149.99 380.80) scale(0.850 1)" font-size="5.40" text-anchor="middle" fill="#3a3a3a" stroke="#3a3a3a" stroke-width="0.28">0</text>
<text transform="translate(153.87 380.80) scale(0.970 1)" font-size="5.40" fill="#2a2a2a" stroke="#2a2a2a" stroke-width="0.28">10</text>
<text transform="translate(159.80 378.37) scale(0.970 1)" font-size="3.24" fill="#2a2a2a" stroke="#2a2a2a" stroke-width="0.28">2</text>
<text transform="translate(166.18 380.80) scale(0.970 1)" font-size="5.40" fill="#2a2a2a" stroke="#2a2a2a" stroke-width="0.28">10</text>
<text transform="translate(172.11 378.37) scale(0.970 1)" font-size="3.24" fill="#2a2a2a" stroke="#2a2a2a" stroke-width="0.28">3</text>
<text transform="translate(179.82 380.80) scale(0.970 1)" font-size="5.40" fill="#2a2a2a" stroke="#2a2a2a" stroke-width="0.28">10</text>
<text transform="translate(185.75 378.37) scale(0.970 1)" font-size="3.24" fill="#2a2a2a" stroke="#2a2a2a" stroke-width="0.28">4</text>
<text transform="translate(192.71 380.80) scale(0.970 1)" font-size="5.40" fill="#2a2a2a" stroke="#2a2a2a" stroke-width="0.28">10</text>
<text transform="translate(198.64 378.37) scale(0.970 1)" font-size="3.24" fill="#2a2a2a" stroke="#2a2a2a" stroke-width="0.28">5</text>
<rect x="164.40" y="312.90" width="23.20" height="31.10" fill="none" stroke="#555" stroke-width="0.90"/>
<text transform="translate(199.20 320.60) scale(0.950 1)" font-size="6.20" text-anchor="end" fill="#2a2a2a" stroke="#2a2a2a" stroke-width="0.28">58</text>
<g clip-path="url(#c9)"><g filter="url(#bl)"><path d="M276.3,185.4 272.8,185.6 261.9,185.6 256.4,185.6 253.5,185.3 253.9,184.6 256.2,183.2 256.7,182.5 257.0,168.9 257.6,166.1 258.8,164.3 260.2,163.4 263.4,162.0 266.5,161.3 267.9,161.4 269.6,162.0 271.4,162.9 272.6,164.0 273.7,166.1 274.3,169.6 274.5,174.8 274.3,182.5 274.6,183.2 276.5,185.0 276.6,185.3 276.3,185.4Z" fill="#0000ff"/><path d="M275.6,185.3 272.4,185.6 263.0,185.6 257.1,185.6 254.3,185.3 254.7,184.6 256.9,183.2 257.5,182.5 257.7,169.2 258.3,166.8 259.7,165.0 263.7,162.9 266.5,162.3 267.9,162.4 269.6,163.0 271.2,164.0 272.3,165.0 273.2,167.1 273.8,170.6 274.0,175.5 273.6,182.5 273.9,183.2 275.7,185.0 275.8,185.3 275.6,185.3Z" fill="#0028ff"/><path d="M274.9,185.4 263.0,185.6 255.0,185.3 255.4,184.6 258.1,182.9 258.5,182.2 258.3,173.8 258.6,169.6 259.4,167.1 261.2,165.4 264.4,163.6 266.9,163.2 268.2,163.4 269.6,164.0 271.8,165.8 272.8,168.2 273.3,171.7 273.3,176.2 272.9,182.5 273.3,183.2 275.1,185.0 275.2,185.3 274.9,185.4Z" fill="#006eff"/><path d="M274.6,185.3 264.4,185.6 255.6,185.3 256.0,184.6 259.1,182.9 259.7,182.2 259.3,174.5 259.7,169.6 260.3,168.2 261.2,166.8 264.1,164.7 266.1,164.0 268.2,164.2 270.2,165.4 271.6,167.1 272.4,169.6 272.7,173.1 272.7,177.2 272.1,182.5 272.5,183.2 274.3,184.6 274.6,185.3Z" fill="#00b9ff"/><path d="M273.9,185.3 264.1,185.6 256.1,185.3 257.0,184.2 260.4,182.9 261.3,182.2 260.4,176.2 260.4,173.1 260.7,170.6 261.3,168.9 262.2,167.5 263.6,166.1 265.1,165.1 266.9,164.7 268.6,165.1 270.1,166.4 271.2,168.2 271.9,171.0 272.1,174.5 271.9,178.0 271.1,182.5 271.7,183.2 273.8,184.6 274.1,185.3 273.9,185.3Z" fill="#00f5ff"/><path d="M273.5,185.3 264.8,185.6 256.7,185.3 257.1,184.6 257.8,184.2 262.2,182.9 263.0,182.5 263.2,182.2 262.1,179.4 261.7,177.2 261.5,174.5 261.6,172.0 262.2,169.9 263.1,168.2 264.3,166.8 265.8,165.7 267.2,165.5 268.6,166.0 269.8,167.1 270.5,168.5 271.3,171.7 271.4,175.5 270.9,179.0 269.8,182.5 273.1,184.5 273.5,185.3Z" fill="#00ffaa"/><path d="M267.2,181.5 266.5,181.6 265.4,181.2 264.1,179.7 263.1,177.2 262.8,174.5 263.1,171.3 264.2,168.5 265.7,166.8 267.2,166.3 268.6,166.9 269.7,168.5 270.3,170.2 270.6,173.1 270.3,176.2 269.6,178.7 268.6,180.5 267.2,181.5ZM272.8,185.3 265.1,185.6 257.4,185.3 257.9,184.6 259.9,183.8 266.5,182.7 268.2,183.0 271.4,184.0 272.4,184.6 272.8,185.3Z" fill="#14f03c"/><path d="M267.2,178.3 266.1,178.3 265.1,177.2 264.4,175.5 264.1,173.1 264.3,171.0 265.1,168.9 266.1,167.6 267.2,167.3 268.2,167.8 269.1,168.9 269.6,170.2 269.8,172.4 269.6,174.5 269.1,176.2 268.2,177.6 267.2,178.3ZM271.8,185.3 265.1,185.5 258.4,185.3 259.0,184.6 260.6,184.1 265.8,183.5 270.0,184.0 271.4,184.6 271.8,185.0 271.8,185.3Z" fill="#78f500"/><path d="M267.2,176.3 266.1,176.0 265.5,175.2 265.1,173.8 264.9,172.4 265.5,169.6 266.1,168.6 267.2,168.2 267.9,168.5 268.6,169.3 269.1,170.6 269.2,172.0 269.1,173.4 268.6,175.0 267.9,175.9 267.2,176.3ZM270.7,185.3 265.1,185.5 259.4,185.3 259.9,184.8 261.2,184.3 265.4,183.8 269.3,184.3 270.7,184.9 270.7,185.3Z" fill="#e6f500"/><path d="M267.6,175.0 266.9,175.1 266.1,174.6 265.7,173.8 265.5,172.4 265.6,171.0 265.9,169.9 266.5,169.2 267.2,169.0 268.2,169.8 268.7,171.7 268.5,173.8 267.6,175.0ZM269.6,185.3 260.3,185.3 260.5,185.0 261.6,184.5 265.4,184.1 268.9,184.5 269.8,185.0 270.0,185.3 269.6,185.3Z" fill="#ffbe00"/><path d="M267.6,174.2 266.9,174.3 266.5,174.1 265.9,172.4 266.1,170.5 266.5,169.9 267.2,169.6 268.0,170.2 268.4,171.7 268.2,173.1 267.6,174.2ZM268.9,185.3 261.0,185.3 261.3,185.0 262.3,184.6 265.4,184.3 268.1,184.6 269.0,185.0 269.2,185.3 268.9,185.3Z" fill="#ff6e00"/><path d="M267.2,173.5 266.5,173.1 266.3,172.0 266.5,170.8 267.2,170.3 267.8,171.0 268.0,172.0 267.7,173.1 267.2,173.5ZM268.2,185.3 261.8,185.3 262.2,185.0 263.0,184.7 265.4,184.5 267.6,184.7 268.2,185.0 268.5,185.3 268.2,185.3Z" fill="#ff1400"/></g></g>
<path d="M230.10 147.33H232.90M231.10 143.54H232.90M231.10 141.32H232.90M231.10 139.75H232.90M231.10 138.52H232.90M231.10 137.53H232.90M231.10 136.68H232.90M231.10 135.95H232.90M231.10 135.31H232.90M230.10 159.93H232.90M231.10 156.14H232.90M231.10 153.92H232.90M231.10 152.35H232.90M231.10 151.12H232.90M231.10 150.13H232.90M231.10 149.28H232.90M231.10 148.55H232.90M231.10 147.91H232.90M230.10 173.15H232.90M231.10 169.17H232.90M231.10 166.84H232.90M231.10 165.19H232.90M231.10 163.91H232.90M231.10 162.86H232.90M231.10 161.98H232.90M231.10 161.21H232.90M231.10 160.54H232.90M230.30 134.73H232.90M231.40 173.15H232.90M231.40 176.19H232.90M231.40 179.22H232.90M231.40 182.26H232.90M231.40 185.30H232.90M230.30 179.53H232.90M246.61 185.30V188.10M250.30 185.30V187.10M252.46 185.30V187.10M254.00 185.30V187.10M255.18 185.30V187.10M256.16 185.30V187.10M256.98 185.30V187.10M257.69 185.30V187.10M258.32 185.30V187.10M258.88 185.30V188.10M262.97 185.30V187.10M265.36 185.30V187.10M267.06 185.30V187.10M268.38 185.30V187.10M269.46 185.30V187.10M270.37 185.30V187.10M271.15 185.30V187.10M271.85 185.30V187.10M272.47 185.30V188.10M276.34 185.30V187.10M278.60 185.30V187.10M280.20 185.30V187.10M281.45 185.30V187.10M282.47 185.30V187.10M283.33 185.30V187.10M284.07 185.30V187.10M284.73 185.30V187.10M285.32 185.30V188.10M232.90 185.30V187.10M235.64 185.30V187.10M238.38 185.30V187.10M241.13 185.30V187.10M243.87 185.30V187.10M246.61 185.30V187.10" stroke="#231f20" stroke-width="0.95" fill="none"/>
<rect x="232.90" y="129.30" width="57.60" height="56.00" fill="none" stroke="#231f20" stroke-width="1.25"/>
<text transform="translate(218.89 137.83) scale(0.970 1)" font-size="6.00" fill="#2a2a2a" stroke="#2a2a2a" stroke-width="0.28">10</text>
<text transform="translate(225.46 135.13) scale(0.970 1)" font-size="3.60" fill="#2a2a2a" stroke="#2a2a2a" stroke-width="0.28">5</text>
<text transform="translate(218.89 150.43) scale(0.970 1)" font-size="6.00" fill="#2a2a2a" stroke="#2a2a2a" stroke-width="0.28">10</text>
<text transform="translate(225.46 147.73) scale(0.970 1)" font-size="3.60" fill="#2a2a2a" stroke="#2a2a2a" stroke-width="0.28">4</text>
<text transform="translate(218.89 163.03) scale(0.970 1)" font-size="6.00" fill="#2a2a2a" stroke="#2a2a2a" stroke-width="0.28">10</text>
<text transform="translate(225.46 160.33) scale(0.970 1)" font-size="3.60" fill="#2a2a2a" stroke="#2a2a2a" stroke-width="0.28">3</text>
<text transform="translate(218.89 176.25) scale(0.970 1)" font-size="6.00" fill="#2a2a2a" stroke="#2a2a2a" stroke-width="0.28">10</text>
<text transform="translate(225.46 173.55) scale(0.970 1)" font-size="3.60" fill="#2a2a2a" stroke="#2a2a2a" stroke-width="0.28">2</text>
<text transform="translate(225.90 181.43) scale(0.970 1)" font-size="6.00" text-anchor="end" fill="#2a2a2a" stroke="#2a2a2a" stroke-width="0.28">0</text>
<rect x="253.90" y="129.70" width="24.80" height="31.60" fill="none" stroke="#555" stroke-width="0.90"/>
<text transform="translate(234.70 137.40) scale(0.950 1)" font-size="6.20" fill="#2a2a2a" stroke="#2a2a2a" stroke-width="0.28">0.6</text>
<g clip-path="url(#c10)"><g filter="url(#bl)"><path d="M276.6,246.8 273.9,247.1 264.8,247.1 256.7,247.1 253.6,246.8 253.6,246.1 255.8,244.4 256.2,243.7 256.0,232.1 256.2,229.0 256.6,226.9 257.3,225.5 258.1,224.4 262.3,221.4 264.8,220.5 267.2,220.7 269.3,221.8 272.1,223.7 273.3,224.8 274.1,225.8 274.8,227.9 275.1,231.1 275.0,243.7 275.2,244.4 276.6,246.1 276.6,246.8Z" fill="#0000ff"/><path d="M275.9,246.8 272.8,247.1 264.8,247.1 257.4,247.1 254.3,246.8 254.3,246.1 256.5,244.4 257.0,243.7 256.7,232.8 256.8,229.7 257.3,227.6 258.4,225.4 261.2,223.2 264.4,221.8 266.9,221.8 268.6,222.5 270.7,223.8 272.3,225.1 273.2,226.2 274.1,228.2 274.4,231.4 274.2,243.7 274.4,244.4 276.0,246.1 275.9,246.8Z" fill="#0028ff"/><path d="M275.2,246.8 264.4,247.1 257.8,247.1 255.0,246.8 254.9,246.5 255.3,245.8 257.3,244.4 257.8,243.7 257.4,233.9 257.5,230.7 257.9,228.2 258.6,226.9 259.4,225.8 261.9,223.8 264.4,222.8 266.9,222.9 268.6,223.6 270.4,224.7 272.5,226.9 273.4,229.0 273.7,232.1 273.7,237.0 273.2,243.7 273.6,244.4 275.4,246.1 275.2,246.8Z" fill="#006eff"/><path d="M274.6,246.8 264.1,247.1 255.5,246.8 255.5,246.5 255.9,245.8 258.7,244.0 259.0,243.3 258.4,239.1 258.1,235.2 258.2,231.4 258.7,229.0 260.0,226.5 262.6,224.4 265.1,223.7 267.2,223.9 270.0,225.5 271.1,226.5 272.0,227.9 272.7,230.4 273.0,233.9 272.8,238.4 272.1,243.7 272.6,244.4 274.5,245.8 274.9,246.5 274.6,246.8Z" fill="#00b9ff"/><path d="M274.2,246.8 265.1,247.1 256.1,246.8 256.1,246.1 256.7,245.6 260.4,243.7 260.5,243.3 259.6,240.2 259.1,237.0 258.9,233.9 259.1,231.1 259.7,229.0 260.4,227.6 261.7,226.2 263.4,225.0 265.4,224.5 267.6,225.0 269.6,226.4 271.1,228.2 271.9,231.1 272.1,234.9 271.7,239.1 270.6,243.7 273.9,245.7 274.2,246.1 274.2,246.8Z" fill="#00f5ff"/><path d="M273.5,246.8 264.8,247.1 256.7,246.8 256.7,246.1 257.6,245.4 262.6,243.7 262.7,243.3 261.2,241.0 260.4,238.4 260.0,235.6 260.0,232.5 260.4,230.0 261.2,228.2 262.3,226.9 264.1,225.7 265.8,225.4 267.6,225.9 269.1,227.2 270.2,229.0 271.0,232.1 270.9,236.7 270.1,240.2 268.3,243.3 268.4,243.7 272.8,245.4 273.6,246.1 273.5,246.8Z" fill="#00ffaa"/><path d="M265.8,241.6 264.1,241.2 262.6,239.7 261.6,237.0 261.2,233.9 261.5,231.1 262.4,228.6 263.7,227.1 265.4,226.5 267.2,227.0 268.4,228.2 269.4,230.4 269.8,233.2 269.6,236.3 268.7,239.1 267.4,240.9 265.8,241.6ZM272.4,246.8 260.9,247.0 257.5,246.8 257.3,246.5 257.9,245.8 259.9,245.0 265.4,244.2 268.2,244.5 271.4,245.3 272.8,246.1 272.8,246.8 272.4,246.8Z" fill="#14f03c"/><path d="M266.1,237.8 265.1,237.9 263.9,237.0 263.1,235.2 262.7,233.2 262.9,231.1 263.4,229.6 264.4,228.2 265.4,227.8 266.5,228.1 267.4,229.0 268.1,230.4 268.4,232.1 268.3,233.9 267.9,235.6 267.2,236.9 266.1,237.8ZM271.4,246.8 261.6,247.0 258.5,246.8 258.3,246.5 259.0,245.8 260.6,245.2 263.0,244.8 265.8,244.7 268.2,245.0 270.7,245.6 271.7,246.1 271.8,246.5 271.4,246.8Z" fill="#78f500"/><path d="M266.1,234.9 265.4,235.1 264.8,234.8 264.2,233.9 263.9,232.8 263.9,231.4 264.2,230.4 264.8,229.6 265.4,229.3 266.5,229.7 267.3,231.4 267.1,233.5 266.1,234.9ZM270.4,246.8 261.9,246.9 259.6,246.8 259.4,246.5 259.9,246.0 261.2,245.5 265.8,245.1 269.9,245.8 270.7,246.5 270.4,246.8Z" fill="#e6f500"/><path d="M265.8,232.9 265.4,232.9 265.1,232.5 265.1,231.4 265.4,231.0 265.8,231.1 266.1,231.7 265.8,232.9ZM269.3,246.8 261.9,246.9 260.5,246.8 260.3,246.5 260.6,246.1 261.9,245.6 265.8,245.3 267.9,245.6 269.3,246.0 269.8,246.5 269.3,246.8Z" fill="#ffbe00"/><path d="M268.6,246.8 261.9,246.8 261.3,246.8 261.1,246.5 261.4,246.1 262.5,245.8 265.8,245.5 268.7,246.1 269.0,246.5 268.6,246.8Z" fill="#ff6e00"/><path d="M267.6,246.8 262.2,246.8 261.9,246.5 262.3,246.1 263.4,245.9 265.8,245.7 267.8,246.1 268.2,246.5 267.6,246.8Z" fill="#ff1400"/></g></g>
<g filter="url(#bl)"><path d="M262.85,199.95 L264.65,199.23 L266.90,199.32 L268.88,200.49 L270.05,202.65 L271.13,205.35 L270.50,207.60 L269.60,209.40 L269.24,211.65 L270.14,213.90 L269.87,216.15 L268.25,217.50 L266.45,218.58 L264.65,217.59 L263.12,215.70 L262.67,213.00 L263.12,210.75 L261.50,208.50 L260.51,206.25 L261.05,203.55 L261.77,201.30 Z" fill="#0a22ff"/></g>
<path d="M230.10 208.86H232.90M231.10 205.06H232.90M231.10 202.84H232.90M231.10 201.26H232.90M231.10 200.04H232.90M231.10 199.04H232.90M231.10 198.20H232.90M231.10 197.46H232.90M231.10 196.82H232.90M230.10 221.49H232.90M231.10 217.69H232.90M231.10 215.46H232.90M231.10 213.89H232.90M231.10 212.66H232.90M231.10 211.66H232.90M231.10 210.82H232.90M231.10 210.09H232.90M231.10 209.44H232.90M230.10 234.73H232.90M231.10 230.74H232.90M231.10 228.41H232.90M231.10 226.76H232.90M231.10 225.47H232.90M231.10 224.42H232.90M231.10 223.54H232.90M231.10 222.77H232.90M231.10 222.09H232.90M230.30 196.24H232.90M231.40 234.73H232.90M231.40 237.77H232.90M231.40 240.81H232.90M231.40 243.86H232.90M231.40 246.90H232.90M230.30 241.12H232.90M246.61 246.90V249.70M250.30 246.90V248.70M252.46 246.90V248.70M254.00 246.90V248.70M255.18 246.90V248.70M256.16 246.90V248.70M256.98 246.90V248.70M257.69 246.90V248.70M258.32 246.90V248.70M258.88 246.90V249.70M262.97 246.90V248.70M265.36 246.90V248.70M267.06 246.90V248.70M268.38 246.90V248.70M269.46 246.90V248.70M270.37 246.90V248.70M271.15 246.90V248.70M271.85 246.90V248.70M272.47 246.90V249.70M276.34 246.90V248.70M278.60 246.90V248.70M280.20 246.90V248.70M281.45 246.90V248.70M282.47 246.90V248.70M283.33 246.90V248.70M284.07 246.90V248.70M284.73 246.90V248.70M285.32 246.90V249.70M232.90 246.90V248.70M235.64 246.90V248.70M238.38 246.90V248.70M241.13 246.90V248.70M243.87 246.90V248.70M246.61 246.90V248.70" stroke="#231f20" stroke-width="0.95" fill="none"/>
<rect x="232.90" y="190.80" width="57.60" height="56.10" fill="none" stroke="#231f20" stroke-width="1.25"/>
<text transform="translate(218.89 199.34) scale(0.970 1)" font-size="6.00" fill="#2a2a2a" stroke="#2a2a2a" stroke-width="0.28">10</text>
<text transform="translate(225.46 196.64) scale(0.970 1)" font-size="3.60" fill="#2a2a2a" stroke="#2a2a2a" stroke-width="0.28">5</text>
<text transform="translate(218.89 211.96) scale(0.970 1)" font-size="6.00" fill="#2a2a2a" stroke="#2a2a2a" stroke-width="0.28">10</text>
<text transform="translate(225.46 209.26) scale(0.970 1)" font-size="3.60" fill="#2a2a2a" stroke="#2a2a2a" stroke-width="0.28">4</text>
<text transform="translate(218.89 224.59) scale(0.970 1)" font-size="6.00" fill="#2a2a2a" stroke="#2a2a2a" stroke-width="0.28">10</text>
<text transform="translate(225.46 221.89) scale(0.970 1)" font-size="3.60" fill="#2a2a2a" stroke="#2a2a2a" stroke-width="0.28">3</text>
<text transform="translate(218.89 237.83) scale(0.970 1)" font-size="6.00" fill="#2a2a2a" stroke="#2a2a2a" stroke-width="0.28">10</text>
<text transform="translate(225.46 235.13) scale(0.970 1)" font-size="3.60" fill="#2a2a2a" stroke="#2a2a2a" stroke-width="0.28">2</text>
<text transform="translate(225.90 243.02) scale(0.970 1)" font-size="6.00" text-anchor="end" fill="#2a2a2a" stroke="#2a2a2a" stroke-width="0.28">0</text>
<rect x="253.90" y="191.20" width="24.80" height="31.60" fill="none" stroke="#555" stroke-width="0.90"/>
<text transform="translate(234.70 198.90) scale(0.950 1)" font-size="6.20" fill="#2a2a2a" stroke="#2a2a2a" stroke-width="0.28">5.1</text>
<g clip-path="url(#c11)"><g filter="url(#bl)"><path d="M276.3,307.6 272.8,307.8 261.6,307.8 256.0,307.8 253.5,307.5 253.8,306.8 255.9,305.4 256.5,304.7 256.3,294.6 256.6,288.6 257.0,286.5 257.6,285.1 258.4,284.1 259.5,283.1 263.0,281.3 264.4,281.0 265.8,281.1 267.9,281.7 270.7,283.1 272.1,284.0 273.1,285.1 274.0,287.2 274.4,290.4 274.3,304.4 274.8,305.4 276.3,306.8 276.6,307.5 276.3,307.6Z" fill="#0000ff"/><path d="M275.6,307.6 272.4,307.8 262.6,307.8 254.3,307.5 254.6,306.8 256.6,305.4 257.2,304.7 256.9,294.9 257.2,288.9 258.2,285.8 259.0,284.8 260.2,283.8 263.4,282.3 264.8,282.1 266.1,282.2 267.9,282.8 270.0,283.8 271.4,284.8 272.4,285.9 273.3,287.9 273.7,291.1 273.6,304.4 274.1,305.4 275.6,306.8 275.9,307.5 275.6,307.6Z" fill="#0028ff"/><path d="M274.9,307.6 263.0,307.8 255.0,307.5 255.2,306.8 258.0,304.7 257.5,295.6 257.8,289.6 258.2,287.9 258.9,286.5 259.9,285.3 261.2,284.2 264.1,283.2 266.5,283.3 269.7,284.8 271.0,285.8 271.8,286.9 272.6,288.9 273.0,292.4 273.0,298.1 272.7,304.4 272.9,305.1 275.0,306.8 275.2,307.5 274.9,307.6Z" fill="#006eff"/><path d="M274.6,307.5 264.4,307.8 255.6,307.5 255.8,306.8 258.6,305.1 259.1,304.4 258.2,297.0 258.5,290.7 258.9,288.6 259.5,287.2 260.6,285.9 261.9,284.9 264.4,284.1 266.9,284.4 269.4,285.8 271.2,287.9 272.0,290.4 272.3,294.2 272.1,299.1 271.5,304.4 271.9,305.1 274.4,306.8 274.6,307.5Z" fill="#00b9ff"/><path d="M273.9,307.5 264.1,307.8 256.1,307.5 256.1,307.1 256.8,306.4 259.7,305.1 260.4,304.4 259.5,301.2 259.1,298.1 258.9,294.6 259.2,291.4 259.6,289.3 260.5,287.6 261.6,286.3 263.0,285.4 264.8,284.9 266.9,285.3 268.9,286.8 270.3,288.6 271.2,291.8 271.4,295.9 270.9,300.5 269.9,304.4 270.6,305.1 273.5,306.4 274.1,307.1 274.1,307.5 273.9,307.5Z" fill="#00f5ff"/><path d="M273.5,307.5 264.8,307.8 256.7,307.5 257.0,306.8 257.8,306.3 261.3,305.1 262.3,304.4 261.0,301.9 260.3,299.8 259.9,296.6 259.8,293.5 260.1,291.1 260.8,288.9 261.9,287.3 263.4,286.2 264.8,285.9 266.5,286.3 268.2,287.6 269.4,289.3 270.3,292.8 270.2,297.4 269.4,301.2 267.7,304.4 268.8,305.1 272.4,306.2 273.3,306.8 273.5,307.5Z" fill="#00ffaa"/><path d="M265.1,302.6 263.7,302.2 262.2,300.5 261.3,298.1 260.9,294.6 261.1,291.8 261.8,289.3 263.0,287.8 263.7,287.3 264.8,287.0 266.4,287.6 267.7,288.9 268.7,291.4 269.0,294.2 268.8,297.4 268.0,300.1 266.7,301.9 265.1,302.6ZM272.4,307.5 264.4,307.8 257.4,307.5 257.7,306.8 259.5,306.0 263.0,305.2 265.1,305.1 267.2,305.3 270.7,306.0 272.5,306.8 272.8,307.5 272.4,307.5Z" fill="#14f03c"/><path d="M265.4,298.9 264.4,298.9 263.4,298.0 262.5,296.3 262.0,293.9 262.1,291.8 262.6,290.0 263.7,288.7 264.8,288.3 265.8,288.6 266.8,289.6 267.4,291.1 267.7,292.8 267.6,294.9 267.2,296.6 266.5,298.0 265.4,298.9ZM271.4,307.5 264.8,307.7 258.4,307.5 258.8,306.8 260.2,306.2 265.1,305.6 270.0,306.3 271.4,306.9 271.7,307.5 271.4,307.5Z" fill="#78f500"/><path d="M265.4,296.3 264.4,296.4 263.7,295.9 263.1,294.9 262.8,293.5 262.8,292.1 263.2,290.7 264.1,289.7 264.8,289.5 265.4,289.7 266.1,290.4 266.8,292.4 266.5,294.8 265.4,296.3ZM270.4,307.5 264.8,307.7 259.4,307.5 259.9,306.9 260.9,306.4 265.1,306.0 269.3,306.5 270.6,307.1 270.6,307.5 270.4,307.5Z" fill="#e6f500"/><path d="M265.1,295.0 264.4,295.0 264.1,294.8 263.4,293.1 263.7,291.3 264.1,290.8 264.8,290.5 265.6,291.1 266.1,292.4 265.8,294.2 265.1,295.0ZM269.6,307.5 260.3,307.5 260.4,307.1 261.6,306.6 265.1,306.2 268.6,306.7 269.6,307.1 269.6,307.5Z" fill="#ffbe00"/><path d="M264.8,293.9 264.2,293.5 264.0,292.8 264.3,291.8 264.8,291.5 265.2,291.8 265.5,292.8 265.3,293.5 264.8,293.9ZM268.6,307.5 261.1,307.5 261.2,307.1 261.9,306.8 265.1,306.4 268.1,306.8 268.9,307.1 268.9,307.5 268.6,307.5Z" fill="#ff6e00"/><path d="M267.9,307.5 261.9,307.5 262.0,307.1 263.0,306.8 265.1,306.6 267.2,306.8 268.0,307.1 268.1,307.5 267.9,307.5Z" fill="#ff1400"/></g></g>
<g filter="url(#bl)"><path d="M265.50,262.67 L267.30,262.58 L268.29,264.02 L267.93,266.09 L268.38,268.07 L267.75,270.32 L266.85,271.67 L267.12,273.92 L266.40,275.81 L265.50,275.27 L265.05,273.02 L264.60,271.22 L262.53,270.32 L261.45,268.97 L262.80,267.62 L262.53,265.82 L264.15,264.92 L264.87,263.57 Z" fill="#0a22ff"/></g>
<path d="M230.10 269.56H232.90M231.10 265.76H232.90M231.10 263.54H232.90M231.10 261.96H232.90M231.10 260.74H232.90M231.10 259.74H232.90M231.10 258.90H232.90M231.10 258.16H232.90M231.10 257.52H232.90M230.10 282.19H232.90M231.10 278.39H232.90M231.10 276.16H232.90M231.10 274.59H232.90M231.10 273.36H232.90M231.10 272.36H232.90M231.10 271.52H232.90M231.10 270.79H232.90M231.10 270.14H232.90M230.10 295.43H232.90M231.10 291.44H232.90M231.10 289.11H232.90M231.10 287.46H232.90M231.10 286.17H232.90M231.10 285.12H232.90M231.10 284.24H232.90M231.10 283.47H232.90M231.10 282.79H232.90M230.30 256.94H232.90M231.40 295.43H232.90M231.40 298.47H232.90M231.40 301.51H232.90M231.40 304.56H232.90M231.40 307.60H232.90M230.30 301.82H232.90M246.61 307.60V310.40M250.30 307.60V309.40M252.46 307.60V309.40M254.00 307.60V309.40M255.18 307.60V309.40M256.16 307.60V309.40M256.98 307.60V309.40M257.69 307.60V309.40M258.32 307.60V309.40M258.88 307.60V310.40M262.97 307.60V309.40M265.36 307.60V309.40M267.06 307.60V309.40M268.38 307.60V309.40M269.46 307.60V309.40M270.37 307.60V309.40M271.15 307.60V309.40M271.85 307.60V309.40M272.47 307.60V310.40M276.34 307.60V309.40M278.60 307.60V309.40M280.20 307.60V309.40M281.45 307.60V309.40M282.47 307.60V309.40M283.33 307.60V309.40M284.07 307.60V309.40M284.73 307.60V309.40M285.32 307.60V310.40M232.90 307.60V309.40M235.64 307.60V309.40M238.38 307.60V309.40M241.13 307.60V309.40M243.87 307.60V309.40M246.61 307.60V309.40" stroke="#231f20" stroke-width="0.95" fill="none"/>
<rect x="232.90" y="251.50" width="57.60" height="56.10" fill="none" stroke="#231f20" stroke-width="1.25"/>
<text transform="translate(218.89 260.04) scale(0.970 1)" font-size="6.00" fill="#2a2a2a" stroke="#2a2a2a" stroke-width="0.28">10</text>
<text transform="translate(225.46 257.34) scale(0.970 1)" font-size="3.60" fill="#2a2a2a" stroke="#2a2a2a" stroke-width="0.28">5</text>
<text transform="translate(218.89 272.66) scale(0.970 1)" font-size="6.00" fill="#2a2a2a" stroke="#2a2a2a" stroke-width="0.28">10</text>
<text transform="translate(225.46 269.96) scale(0.970 1)" font-size="3.60" fill="#2a2a2a" stroke="#2a2a2a" stroke-width="0.28">4</text>
<text transform="translate(218.89 285.29) scale(0.970 1)" font-size="6.00" fill="#2a2a2a" stroke="#2a2a2a" stroke-width="0.28">10</text>
<text transform="translate(225.46 282.59) scale(0.970 1)" font-size="3.60" fill="#2a2a2a" stroke="#2a2a2a" stroke-width="0.28">3</text>
<text transform="translate(218.89 298.53) scale(0.970 1)" font-size="6.00" fill="#2a2a2a" stroke="#2a2a2a" stroke-width="0.28">10</text>
<text transform="translate(225.46 295.83) scale(0.970 1)" font-size="3.60" fill="#2a2a2a" stroke="#2a2a2a" stroke-width="0.28">2</text>
<text transform="translate(225.90 303.72) scale(0.970 1)" font-size="6.00" text-anchor="end" fill="#2a2a2a" stroke="#2a2a2a" stroke-width="0.28">0</text>
<rect x="253.90" y="251.90" width="24.80" height="31.60" fill="none" stroke="#555" stroke-width="0.90"/>
<text transform="translate(234.70 259.60) scale(0.950 1)" font-size="6.20" fill="#2a2a2a" stroke="#2a2a2a" stroke-width="0.28">2.6</text>
<g clip-path="url(#c12)"><g filter="url(#bl)"><path d="M276.6,368.5 273.5,368.8 263.7,368.8 256.4,368.8 253.4,368.5 253.6,367.8 255.2,366.4 255.6,365.7 255.4,355.9 255.7,349.9 256.6,346.8 258.1,344.9 259.9,343.9 262.3,343.0 264.1,342.6 265.8,342.6 267.9,343.1 270.7,344.1 272.4,345.1 273.5,346.1 274.4,348.2 274.9,351.4 274.9,365.7 275.2,366.4 276.5,367.8 276.6,368.5Z" fill="#0000ff"/><path d="M275.9,368.5 272.8,368.8 264.1,368.8 257.1,368.8 254.1,368.5 254.3,367.8 255.9,366.4 256.4,365.7 256.1,356.9 256.4,351.0 257.1,347.9 257.8,346.8 258.8,345.7 262.3,344.0 264.1,343.7 265.8,343.7 267.9,344.1 270.0,344.9 271.8,345.9 272.8,347.0 273.7,348.9 274.2,352.1 274.3,357.3 274.1,365.7 274.5,366.4 275.9,367.8 275.9,368.5Z" fill="#0028ff"/><path d="M275.2,368.5 263.7,368.8 254.7,368.5 255.0,367.8 257.2,365.7 256.8,357.3 257.2,351.4 258.1,348.2 258.8,347.1 259.9,346.3 263.0,344.9 265.8,344.6 267.6,345.0 269.3,345.8 271.0,346.8 272.0,347.9 273.0,349.9 273.4,353.4 273.5,359.1 273.1,365.4 273.4,366.1 275.2,367.8 275.4,368.5 275.2,368.5Z" fill="#006eff"/><path d="M274.6,368.6 263.7,368.8 255.3,368.5 255.5,367.8 258.0,366.1 258.3,365.4 257.7,358.7 257.9,352.4 258.4,350.3 259.0,348.9 259.9,347.7 261.0,346.8 263.7,345.7 266.1,345.7 269.0,346.8 270.4,347.8 271.3,348.9 272.2,351.4 272.6,355.2 272.6,360.1 272.0,365.4 272.3,366.1 274.7,367.8 274.9,368.5 274.6,368.6Z" fill="#00b9ff"/><path d="M274.2,368.5 264.8,368.8 255.9,368.5 255.9,368.1 256.5,367.4 259.1,366.1 259.6,365.4 258.5,359.4 258.7,353.4 259.6,349.9 260.6,348.6 261.9,347.5 264.1,346.7 266.5,346.8 268.9,348.1 270.5,349.9 271.4,352.8 271.7,356.9 271.5,361.1 270.5,365.4 271.1,366.1 273.7,367.4 274.3,368.1 274.2,368.5Z" fill="#00f5ff"/><path d="M273.5,368.5 264.4,368.8 256.4,368.5 256.5,368.1 257.1,367.4 260.6,366.1 261.3,365.4 260.3,362.9 259.7,360.4 259.4,357.6 259.5,354.9 260.0,352.4 260.6,350.6 261.6,349.2 263.0,348.2 264.8,347.7 266.5,348.0 268.2,349.2 269.6,351.0 270.5,354.1 270.6,358.4 270.1,361.9 268.7,365.4 269.5,366.1 273.0,367.4 273.7,368.1 273.7,368.5 273.5,368.5Z" fill="#00ffaa"/><path d="M266.1,364.3 265.4,364.6 264.4,364.6 262.6,363.4 261.4,361.1 260.7,358.0 260.7,354.9 261.4,352.1 262.9,349.9 263.7,349.4 264.8,349.2 266.5,349.7 267.8,351.0 268.7,352.8 269.2,355.2 269.2,358.0 268.7,360.8 267.6,363.1 266.1,364.3ZM272.8,368.5 264.8,368.8 257.2,368.5 257.5,367.8 259.1,367.0 265.1,365.8 271.1,367.0 272.6,367.8 272.9,368.1 272.8,368.5Z" fill="#14f03c"/><path d="M265.1,361.2 264.1,360.9 263.0,359.9 262.2,358.0 261.9,355.9 262.1,354.1 262.7,352.4 263.7,351.2 264.8,350.9 265.8,351.1 266.9,352.2 267.5,353.8 267.8,355.6 267.6,357.6 267.1,359.4 266.1,360.7 265.1,361.2ZM271.8,368.5 264.8,368.7 258.2,368.5 258.6,367.8 259.9,367.3 262.6,366.7 265.1,366.5 270.0,367.2 271.4,367.8 271.8,368.1 271.8,368.5Z" fill="#78f500"/><path d="M265.4,358.5 264.4,358.6 263.7,358.0 262.9,355.9 263.0,354.5 263.4,353.4 264.1,352.6 264.8,352.4 265.4,352.6 266.0,353.1 266.6,354.9 266.4,356.9 265.4,358.5ZM270.7,368.5 265.1,368.7 259.3,368.5 259.3,368.1 259.8,367.8 260.9,367.4 265.1,366.9 269.3,367.4 270.4,367.9 270.7,368.1 270.7,368.5Z" fill="#e6f500"/><path d="M265.1,356.7 264.4,356.7 263.9,355.6 264.1,354.4 264.8,353.9 265.4,354.4 265.6,355.2 265.5,356.2 265.1,356.7ZM269.6,368.5 260.2,368.5 260.3,368.1 261.6,367.6 265.1,367.2 268.6,367.6 269.8,368.1 269.6,368.5Z" fill="#ffbe00"/><path d="M268.9,368.5 261.0,368.5 261.0,368.1 261.9,367.7 265.1,367.4 268.3,367.8 269.0,368.1 268.9,368.5Z" fill="#ff6e00"/><path d="M268.2,368.5 261.7,368.5 261.8,368.1 262.7,367.8 265.1,367.6 267.3,367.8 268.2,368.1 268.2,368.5Z" fill="#ff1400"/></g></g>
<g filter="url(#bl)"><path d="M265.33,321.57 L267.13,320.67 L268.75,321.57 L268.84,323.55 L268.30,325.35 L269.29,327.15 L268.75,329.40 L267.13,330.39 L265.78,329.85 L264.43,331.20 L263.80,333.45 L263.62,336.15 L262.90,337.41 L262.00,336.15 L262.00,333.90 L260.83,332.10 L259.03,332.10 L258.31,331.02 L259.12,329.49 L260.83,328.77 L260.38,326.70 L259.75,324.90 L260.83,323.37 L262.63,323.10 L264.43,322.83 Z M268.3,331 a2.2,3 0 1,0 0.01,0 Z M263.2,342 a1.3,1.3 0 1,0 0.01,0 Z M270.6,339.6 a1.2,1.5 0 1,0 0.01,0 Z" fill="#0a22ff"/></g>
<path d="M230.10 330.56H232.90M231.10 326.76H232.90M231.10 324.54H232.90M231.10 322.96H232.90M231.10 321.74H232.90M231.10 320.74H232.90M231.10 319.90H232.90M231.10 319.16H232.90M231.10 318.52H232.90M230.10 343.19H232.90M231.10 339.39H232.90M231.10 337.16H232.90M231.10 335.59H232.90M231.10 334.36H232.90M231.10 333.36H232.90M231.10 332.52H232.90M231.10 331.79H232.90M231.10 331.14H232.90M230.10 356.43H232.90M231.10 352.44H232.90M231.10 350.11H232.90M231.10 348.46H232.90M231.10 347.17H232.90M231.10 346.12H232.90M231.10 345.24H232.90M231.10 344.47H232.90M231.10 343.79H232.90M230.30 317.94H232.90M231.40 356.43H232.90M231.40 359.47H232.90M231.40 362.51H232.90M231.40 365.56H232.90M231.40 368.60H232.90M230.30 362.82H232.90M246.61 368.60V371.40M250.30 368.60V370.40M252.46 368.60V370.40M254.00 368.60V370.40M255.18 368.60V370.40M256.16 368.60V370.40M256.98 368.60V370.40M257.69 368.60V370.40M258.32 368.60V370.40M258.88 368.60V371.40M262.97 368.60V370.40M265.36 368.60V370.40M267.06 368.60V370.40M268.38 368.60V370.40M269.46 368.60V370.40M270.37 368.60V370.40M271.15 368.60V370.40M271.85 368.60V370.40M272.47 368.60V371.40M276.34 368.60V370.40M278.60 368.60V370.40M280.20 368.60V370.40M281.45 368.60V370.40M282.47 368.60V370.40M283.33 368.60V370.40M284.07 368.60V370.40M284.73 368.60V370.40M285.32 368.60V371.40M232.90 368.60V370.40M235.64 368.60V370.40M238.38 368.60V370.40M241.13 368.60V370.40M243.87 368.60V370.40M246.61 368.60V370.40" stroke="#231f20" stroke-width="0.95" fill="none"/>
<rect x="232.90" y="312.50" width="57.60" height="56.10" fill="none" stroke="#231f20" stroke-width="1.25"/>
<text transform="translate(218.89 321.04) scale(0.970 1)" font-size="6.00" fill="#2a2a2a" stroke="#2a2a2a" stroke-width="0.28">10</text>
<text transform="translate(225.46 318.34) scale(0.970 1)" font-size="3.60" fill="#2a2a2a" stroke="#2a2a2a" stroke-width="0.28">5</text>
<text transform="translate(218.89 333.66) scale(0.970 1)" font-size="6.00" fill="#2a2a2a" stroke="#2a2a2a" stroke-width="0.28">10</text>
<text transform="translate(225.46 330.96) scale(0.970 1)" font-size="3.60" fill="#2a2a2a" stroke="#2a2a2a" stroke-width="0.28">4</text>
<text transform="translate(218.89 346.29) scale(0.970 1)" font-size="6.00" fill="#2a2a2a" stroke="#2a2a2a" stroke-width="0.28">10</text>
<text transform="translate(225.46 343.59) scale(0.970 1)" font-size="3.60" fill="#2a2a2a" stroke="#2a2a2a" stroke-width="0.28">3</text>
<text transform="translate(218.89 359.53) scale(0.970 1)" font-size="6.00" fill="#2a2a2a" stroke="#2a2a2a" stroke-width="0.28">10</text>
<text transform="translate(225.46 356.83) scale(0.970 1)" font-size="3.60" fill="#2a2a2a" stroke="#2a2a2a" stroke-width="0.28">2</text>
<text transform="translate(225.90 364.72) scale(0.970 1)" font-size="6.00" text-anchor="end" fill="#2a2a2a" stroke="#2a2a2a" stroke-width="0.28">0</text>
<text transform="translate(239.47 380.80) scale(0.850 1)" font-size="5.40" text-anchor="middle" fill="#3a3a3a" stroke="#3a3a3a" stroke-width="0.28">0</text>
<text transform="translate(243.32 380.80) scale(0.970 1)" font-size="5.40" fill="#2a2a2a" stroke="#2a2a2a" stroke-width="0.28">10</text>
<text transform="translate(249.25 378.37) scale(0.970 1)" font-size="3.24" fill="#2a2a2a" stroke="#2a2a2a" stroke-width="0.28">2</text>
<text transform="translate(255.59 380.80) scale(0.970 1)" font-size="5.40" fill="#2a2a2a" stroke="#2a2a2a" stroke-width="0.28">10</text>
<text transform="translate(261.52 378.37) scale(0.970 1)" font-size="3.24" fill="#2a2a2a" stroke="#2a2a2a" stroke-width="0.28">3</text>
<text transform="translate(269.18 380.80) scale(0.970 1)" font-size="5.40" fill="#2a2a2a" stroke="#2a2a2a" stroke-width="0.28">10</text>
<text transform="translate(275.11 378.37) scale(0.970 1)" font-size="3.24" fill="#2a2a2a" stroke="#2a2a2a" stroke-width="0.28">4</text>
<text transform="translate(282.03 380.80) scale(0.970 1)" font-size="5.40" fill="#2a2a2a" stroke="#2a2a2a" stroke-width="0.28">10</text>
<text transform="translate(287.95 378.37) scale(0.970 1)" font-size="3.24" fill="#2a2a2a" stroke="#2a2a2a" stroke-width="0.28">5</text>
<rect x="253.90" y="312.90" width="24.80" height="31.60" fill="none" stroke="#555" stroke-width="0.90"/>
<text transform="translate(234.70 320.60) scale(0.950 1)" font-size="6.20" fill="#2a2a2a" stroke="#2a2a2a" stroke-width="0.28">5.1</text>
<text transform="translate(95.40 390.60) scale(0.722 1)" font-size="10.60" text-anchor="middle" fill="#231f20" stroke="#231f20" stroke-width="0.28">CD4</text>
<text transform="translate(172.50 390.60) scale(0.722 1)" font-size="10.60" text-anchor="middle" fill="#231f20" stroke="#231f20" stroke-width="0.28">CD8</text>
<text transform="translate(261.90 390.60) scale(0.722 1)" font-size="10.60" text-anchor="middle" fill="#231f20" stroke="#231f20" stroke-width="0.28">CD4</text>
<rect x="338.70" y="228.00" width="9.70" height="2.60" fill="#4f2468"/>
<rect x="348.40" y="211.50" width="9.50" height="19.10" fill="#a9022e"/>
<rect x="357.90" y="221.20" width="9.60" height="9.40" fill="#2d4f8a"/>
<rect x="367.50" y="216.90" width="9.60" height="13.70" fill="#6aab45"/>
<rect x="387.10" y="217.90" width="9.20" height="12.70" fill="#4f2468"/>
<rect x="396.30" y="179.80" width="9.70" height="50.80" fill="#a9022e"/>
<rect x="406.00" y="196.70" width="9.30" height="33.90" fill="#2d4f8a"/>
<rect x="415.30" y="185.00" width="9.50" height="45.60" fill="#6aab45"/>
<line x1="343.55" y1="227.50" x2="343.55" y2="228.40" stroke="#111" stroke-width="1.00"/>
<line x1="341.12" y1="227.50" x2="345.97" y2="227.50" stroke="#111" stroke-width="1.00"/>
<line x1="353.15" y1="210.70" x2="353.15" y2="211.90" stroke="#111" stroke-width="1.00"/>
<line x1="350.77" y1="210.70" x2="355.52" y2="210.70" stroke="#111" stroke-width="1.00"/>
<line x1="362.70" y1="220.40" x2="362.70" y2="221.60" stroke="#111" stroke-width="1.00"/>
<line x1="360.30" y1="220.40" x2="365.10" y2="220.40" stroke="#111" stroke-width="1.00"/>
<line x1="372.30" y1="216.00" x2="372.30" y2="217.30" stroke="#111" stroke-width="1.00"/>
<line x1="369.90" y1="216.00" x2="374.70" y2="216.00" stroke="#111" stroke-width="1.00"/>
<line x1="391.70" y1="217.20" x2="391.70" y2="218.30" stroke="#111" stroke-width="1.00"/>
<line x1="389.40" y1="217.20" x2="394.00" y2="217.20" stroke="#111" stroke-width="1.00"/>
<line x1="401.15" y1="177.50" x2="401.15" y2="180.20" stroke="#111" stroke-width="1.00"/>
<line x1="398.72" y1="177.50" x2="403.57" y2="177.50" stroke="#111" stroke-width="1.00"/>
<line x1="410.65" y1="195.40" x2="410.65" y2="197.10" stroke="#111" stroke-width="1.00"/>
<line x1="408.32" y1="195.40" x2="412.97" y2="195.40" stroke="#111" stroke-width="1.00"/>
<line x1="420.05" y1="183.10" x2="420.05" y2="185.40" stroke="#111" stroke-width="1.00"/>
<line x1="417.68" y1="183.10" x2="422.43" y2="183.10" stroke="#111" stroke-width="1.00"/>
<line x1="333.70" y1="158.00" x2="333.70" y2="230.60" stroke="#111" stroke-width="1.10"/>
<line x1="330.70" y1="230.60" x2="429.10" y2="230.60" stroke="#111" stroke-width="1.20"/>
<line x1="330.70" y1="161.30" x2="333.70" y2="161.30" stroke="#111" stroke-width="1.00"/>
<text transform="translate(327.20 166.55) scale(0.880 1)" font-size="10.00" text-anchor="end" fill="#231f20" stroke="#231f20" stroke-width="0.28">80</text>
<line x1="330.70" y1="178.70" x2="333.70" y2="178.70" stroke="#111" stroke-width="1.00"/>
<text transform="translate(327.20 183.85) scale(0.880 1)" font-size="10.00" text-anchor="end" fill="#231f20" stroke="#231f20" stroke-width="0.28">60</text>
<line x1="330.70" y1="196.10" x2="333.70" y2="196.10" stroke="#111" stroke-width="1.00"/>
<text transform="translate(327.20 200.45) scale(0.880 1)" font-size="10.00" text-anchor="end" fill="#231f20" stroke="#231f20" stroke-width="0.28">40</text>
<line x1="330.70" y1="213.50" x2="333.70" y2="213.50" stroke="#111" stroke-width="1.00"/>
<text transform="translate(327.20 217.35) scale(0.880 1)" font-size="10.00" text-anchor="end" fill="#231f20" stroke="#231f20" stroke-width="0.28">20</text>
<line x1="330.70" y1="230.60" x2="333.70" y2="230.60" stroke="#111" stroke-width="1.00"/>
<text transform="translate(327.20 233.75) scale(0.880 1)" font-size="10.00" text-anchor="end" fill="#231f20" stroke="#231f20" stroke-width="0.28">0</text>
<line x1="357.30" y1="230.60" x2="357.30" y2="233.40" stroke="#111" stroke-width="1.00"/>
<line x1="405.80" y1="230.60" x2="405.80" y2="233.40" stroke="#111" stroke-width="1.00"/>
<path d="M351.70 193.30 V189.40 H372.70 V193.30" fill="none" stroke="#111" stroke-width="1.00"/>
<text transform="translate(362.30 189.17)" font-size="8.40" text-anchor="middle" fill="#111" stroke="#111" stroke-width="0.10">*</text>
<path d="M351.70 205.00 V201.90 H364.60 V205.00" fill="none" stroke="#111" stroke-width="1.00"/>
<text transform="translate(358.50 201.97)" font-size="8.40" text-anchor="middle" fill="#111" stroke="#111" stroke-width="0.10" letter-spacing="0.5">**</text>
<path d="M361.30 214.00 V210.20 H373.30 V214.00" fill="none" stroke="#111" stroke-width="1.00"/>
<text transform="translate(368.00 210.67)" font-size="8.40" text-anchor="middle" fill="#111" stroke="#111" stroke-width="0.10">*</text>
<path d="M399.60 168.30 V164.40 H411.70 V168.30" fill="none" stroke="#111" stroke-width="1.00"/>
<text transform="translate(405.60 164.57)" font-size="8.40" text-anchor="middle" fill="#111" stroke="#111" stroke-width="0.10" letter-spacing="0.5">**</text>
<path d="M409.40 180.80 V176.90 H420.80 V180.80" fill="none" stroke="#111" stroke-width="1.00"/>
<text transform="translate(415.60 176.67)" font-size="8.40" text-anchor="middle" fill="#111" stroke="#111" stroke-width="0.10" letter-spacing="0.5">**</text>
<text transform="translate(357.65 244.80) scale(0.865 1)" font-size="10.00" text-anchor="middle" fill="#231f20" stroke="#231f20" stroke-width="0.28">CD4</text>
<text transform="translate(405.45 244.80) scale(0.855 1)" font-size="10.00" text-anchor="middle" fill="#231f20" stroke="#231f20" stroke-width="0.28">CD8</text>
<text transform="translate(310.70 191.70) rotate(-90) scale(0.697 1)" font-size="11.20" text-anchor="middle" fill="#231f20" stroke="#231f20" stroke-width="0.28">% IFN-γ</text>
<rect x="338.80" y="317.20" width="10.70" height="5.80" fill="#4f2468"/>
<rect x="349.50" y="276.60" width="10.60" height="46.40" fill="#a9022e"/>
<rect x="360.10" y="300.40" width="11.10" height="22.60" fill="#2d4f8a"/>
<rect x="371.20" y="286.10" width="10.80" height="36.90" fill="#6aab45"/>
<line x1="344.15" y1="316.60" x2="344.15" y2="317.60" stroke="#111" stroke-width="1.00"/>
<line x1="341.47" y1="316.60" x2="346.82" y2="316.60" stroke="#111" stroke-width="1.00"/>
<line x1="354.80" y1="269.70" x2="354.80" y2="277.00" stroke="#111" stroke-width="1.00"/>
<line x1="352.15" y1="269.70" x2="357.45" y2="269.70" stroke="#111" stroke-width="1.00"/>
<line x1="365.65" y1="298.50" x2="365.65" y2="300.80" stroke="#111" stroke-width="1.00"/>
<line x1="362.88" y1="298.50" x2="368.42" y2="298.50" stroke="#111" stroke-width="1.00"/>
<line x1="376.60" y1="281.90" x2="376.60" y2="286.50" stroke="#111" stroke-width="1.00"/>
<line x1="373.90" y1="281.90" x2="379.30" y2="281.90" stroke="#111" stroke-width="1.00"/>
<line x1="334.10" y1="256.10" x2="334.10" y2="323.00" stroke="#111" stroke-width="1.10"/>
<line x1="331.10" y1="323.00" x2="387.30" y2="323.00" stroke="#111" stroke-width="1.20"/>
<line x1="331.10" y1="258.90" x2="334.10" y2="258.90" stroke="#111" stroke-width="1.00"/>
<text transform="translate(327.60 262.60) scale(0.880 1)" font-size="10.00" text-anchor="end" fill="#231f20" stroke="#231f20" stroke-width="0.28">8</text>
<line x1="331.10" y1="274.90" x2="334.10" y2="274.90" stroke="#111" stroke-width="1.00"/>
<text transform="translate(327.60 278.60) scale(0.880 1)" font-size="10.00" text-anchor="end" fill="#231f20" stroke="#231f20" stroke-width="0.28">6</text>
<line x1="331.10" y1="291.10" x2="334.10" y2="291.10" stroke="#111" stroke-width="1.00"/>
<text transform="translate(327.60 294.80) scale(0.880 1)" font-size="10.00" text-anchor="end" fill="#231f20" stroke="#231f20" stroke-width="0.28">4</text>
<line x1="331.10" y1="307.20" x2="334.10" y2="307.20" stroke="#111" stroke-width="1.00"/>
<text transform="translate(327.60 310.90) scale(0.880 1)" font-size="10.00" text-anchor="end" fill="#231f20" stroke="#231f20" stroke-width="0.28">2</text>
<line x1="331.10" y1="323.00" x2="334.10" y2="323.00" stroke="#111" stroke-width="1.00"/>
<text transform="translate(327.60 326.70) scale(0.880 1)" font-size="10.00" text-anchor="end" fill="#231f20" stroke="#231f20" stroke-width="0.28">0</text>
<line x1="360.30" y1="323.00" x2="360.30" y2="325.80" stroke="#111" stroke-width="1.00"/>
<path d="M354.50 266.90 V262.30 H366.50 V266.90" fill="none" stroke="#111" stroke-width="1.00"/>
<text transform="translate(360.50 262.77)" font-size="8.40" text-anchor="middle" fill="#111" stroke="#111" stroke-width="0.10">*</text>
<path d="M365.40 281.50 V276.80 H376.90 V281.50" fill="none" stroke="#111" stroke-width="1.00"/>
<text transform="translate(371.20 277.17)" font-size="8.40" text-anchor="middle" fill="#111" stroke="#111" stroke-width="0.10">*</text>
<text transform="translate(360.00 337.40) scale(0.870 1)" font-size="10.00" text-anchor="middle" fill="#231f20" stroke="#231f20" stroke-width="0.28">CD4</text>
<text transform="translate(316.50 290.20) rotate(-90) scale(0.671 1)" font-size="11.50" text-anchor="middle" fill="#231f20" stroke="#231f20" stroke-width="0.28">% IL-17</text>
<rect x="403.80" y="263.80" width="11.60" height="7.00" fill="#4f2468"/>
<text transform="translate(419.20 270.50) scale(0.949 1)" font-size="9.20" fill="#231f20" stroke="#231f20" stroke-width="0.28">BM</text>
<rect x="403.80" y="276.60" width="11.60" height="7.20" fill="#a9022e"/>
<text transform="translate(419.20 283.40) scale(0.971 1)" font-size="9.20" fill="#231f20" stroke="#231f20" stroke-width="0.28">+ Vehicle</text>
<rect x="403.80" y="289.50" width="11.60" height="7.40" fill="#2d4f8a"/>
<text transform="translate(419.20 296.40) scale(0.979 1)" font-size="9.20" fill="#231f20" stroke="#231f20" stroke-width="0.28">+ Ex-527 d 0</text>
<rect x="403.80" y="302.30" width="11.60" height="7.40" fill="#6aab45"/>
<text transform="translate(419.20 309.20) scale(0.966 1)" font-size="9.20" fill="#231f20" stroke="#231f20" stroke-width="0.28">+ Ex-527 d 28</text>
<rect x="169.20" y="477.00" width="12.50" height="10.10" fill="#444444"/>
<rect x="181.70" y="434.90" width="13.10" height="52.20" fill="#a9022e"/>
<rect x="194.80" y="455.40" width="13.10" height="31.70" fill="#2d4f8a"/>
<rect x="207.90" y="440.60" width="13.80" height="46.50" fill="#6aab45"/>
<line x1="175.45" y1="476.40" x2="175.45" y2="477.40" stroke="#111" stroke-width="1.00"/>
<line x1="172.32" y1="476.40" x2="178.57" y2="476.40" stroke="#111" stroke-width="1.00"/>
<line x1="188.25" y1="431.30" x2="188.25" y2="435.30" stroke="#111" stroke-width="1.00"/>
<line x1="184.97" y1="431.30" x2="191.53" y2="431.30" stroke="#111" stroke-width="1.00"/>
<line x1="201.35" y1="453.50" x2="201.35" y2="455.80" stroke="#111" stroke-width="1.00"/>
<line x1="198.08" y1="453.50" x2="204.63" y2="453.50" stroke="#111" stroke-width="1.00"/>
<line x1="214.80" y1="436.60" x2="214.80" y2="441.00" stroke="#111" stroke-width="1.00"/>
<line x1="211.35" y1="436.60" x2="218.25" y2="436.60" stroke="#111" stroke-width="1.00"/>
<line x1="163.00" y1="420.20" x2="163.00" y2="487.10" stroke="#111" stroke-width="1.10"/>
<line x1="160.00" y1="487.10" x2="228.00" y2="487.10" stroke="#111" stroke-width="1.20"/>
<line x1="160.00" y1="423.30" x2="163.00" y2="423.30" stroke="#111" stroke-width="1.00"/>
<text transform="translate(156.50 427.00) scale(0.900 1)" font-size="10.00" text-anchor="end" fill="#231f20" stroke="#231f20" stroke-width="0.28">30</text>
<line x1="160.00" y1="444.70" x2="163.00" y2="444.70" stroke="#111" stroke-width="1.00"/>
<text transform="translate(156.50 448.40) scale(0.900 1)" font-size="10.00" text-anchor="end" fill="#231f20" stroke="#231f20" stroke-width="0.28">20</text>
<line x1="160.00" y1="466.00" x2="163.00" y2="466.00" stroke="#111" stroke-width="1.00"/>
<text transform="translate(156.50 469.70) scale(0.900 1)" font-size="10.00" text-anchor="end" fill="#231f20" stroke="#231f20" stroke-width="0.28">10</text>
<line x1="160.00" y1="487.10" x2="163.00" y2="487.10" stroke="#111" stroke-width="1.00"/>
<text transform="translate(156.50 490.80) scale(0.900 1)" font-size="10.00" text-anchor="end" fill="#231f20" stroke="#231f20" stroke-width="0.28">0</text>
<line x1="194.80" y1="487.10" x2="194.80" y2="489.90" stroke="#111" stroke-width="1.00"/>
<path d="M188.50 429.60 V424.30 H203.70 V429.60" fill="none" stroke="#111" stroke-width="1.00"/>
<text transform="translate(195.90 423.17)" font-size="8.40" text-anchor="middle" fill="#111" stroke="#111" stroke-width="0.10" letter-spacing="0.5">**</text>
<text transform="translate(195.00 501.80) scale(0.870 1)" font-size="10.00" text-anchor="middle" fill="#231f20" stroke="#231f20" stroke-width="0.28">CD4</text>
<text transform="translate(140.70 454.00) rotate(-90) scale(0.657 1)" font-size="11.50" text-anchor="middle" fill="#231f20" stroke="#231f20" stroke-width="0.28">% BCL6</text>
<rect x="393.00" y="469.50" width="13.00" height="17.50" fill="#444444"/>
<rect x="406.00" y="438.00" width="13.80" height="49.00" fill="#a9022e"/>
<rect x="419.80" y="451.70" width="13.80" height="35.30" fill="#2d4f8a"/>
<rect x="433.60" y="451.70" width="13.70" height="35.30" fill="#6aab45"/>
<line x1="399.50" y1="468.90" x2="399.50" y2="469.90" stroke="#111" stroke-width="1.00"/>
<line x1="396.25" y1="468.90" x2="402.75" y2="468.90" stroke="#111" stroke-width="1.00"/>
<line x1="412.90" y1="434.30" x2="412.90" y2="438.40" stroke="#111" stroke-width="1.00"/>
<line x1="409.45" y1="434.30" x2="416.35" y2="434.30" stroke="#111" stroke-width="1.00"/>
<line x1="426.70" y1="448.30" x2="426.70" y2="452.10" stroke="#111" stroke-width="1.00"/>
<line x1="423.25" y1="448.30" x2="430.15" y2="448.30" stroke="#111" stroke-width="1.00"/>
<line x1="440.45" y1="449.60" x2="440.45" y2="452.10" stroke="#111" stroke-width="1.00"/>
<line x1="437.03" y1="449.60" x2="443.88" y2="449.60" stroke="#111" stroke-width="1.00"/>
<line x1="386.60" y1="417.20" x2="386.60" y2="487.00" stroke="#111" stroke-width="1.10"/>
<line x1="383.60" y1="487.00" x2="454.00" y2="487.00" stroke="#111" stroke-width="1.20"/>
<line x1="383.60" y1="420.40" x2="386.60" y2="420.40" stroke="#111" stroke-width="1.00"/>
<text transform="translate(380.10 424.10) scale(0.870 1)" font-size="10.00" text-anchor="end" fill="#231f20" stroke="#231f20" stroke-width="0.12">20</text>
<line x1="383.60" y1="436.90" x2="386.60" y2="436.90" stroke="#111" stroke-width="1.00"/>
<text transform="translate(380.10 440.60) scale(0.870 1)" font-size="10.00" text-anchor="end" fill="#231f20" stroke="#231f20" stroke-width="0.12">15</text>
<line x1="383.60" y1="453.80" x2="386.60" y2="453.80" stroke="#111" stroke-width="1.00"/>
<text transform="translate(380.10 457.50) scale(0.870 1)" font-size="10.00" text-anchor="end" fill="#231f20" stroke="#231f20" stroke-width="0.12">10</text>
<line x1="383.60" y1="470.50" x2="386.60" y2="470.50" stroke="#111" stroke-width="1.00"/>
<text transform="translate(380.10 474.20) scale(0.870 1)" font-size="10.00" text-anchor="end" fill="#231f20" stroke="#231f20" stroke-width="0.12">5</text>
<line x1="383.60" y1="487.00" x2="386.60" y2="487.00" stroke="#111" stroke-width="1.00"/>
<text transform="translate(380.10 490.70) scale(0.870 1)" font-size="10.00" text-anchor="end" fill="#231f20" stroke="#231f20" stroke-width="0.12">0</text>
<line x1="420.20" y1="487.00" x2="420.20" y2="489.80" stroke="#111" stroke-width="1.00"/>
<path d="M413.50 421.40 V415.10 H441.60 V421.40" fill="none" stroke="#111" stroke-width="1.00"/>
<text transform="translate(427.60 414.37)" font-size="8.40" text-anchor="middle" fill="#111" stroke="#111" stroke-width="0.10" letter-spacing="0.5">**</text>
<path d="M413.50 433.50 V427.40 H429.30 V433.50" fill="none" stroke="#111" stroke-width="1.00"/>
<text transform="translate(421.90 426.47)" font-size="8.40" text-anchor="middle" fill="#111" stroke="#111" stroke-width="0.10">*</text>
<text transform="translate(420.00 501.80) scale(0.870 1)" font-size="10.00" text-anchor="middle" fill="#231f20" stroke="#231f20" stroke-width="0.28">CD4</text>
<text transform="translate(363.80 454.00) rotate(-90) scale(0.671 1)" font-size="11.20" text-anchor="middle" fill="#231f20" stroke="#231f20" stroke-width="0.28">% IL-21</text>
<rect x="271.20" y="570.60" width="11.00" height="48.70" fill="#4f2468"/>
<rect x="282.20" y="606.10" width="11.10" height="13.20" fill="#a9022e"/>
<rect x="293.30" y="591.70" width="10.70" height="27.60" fill="#2d4f8a"/>
<rect x="304.00" y="590.40" width="11.00" height="28.90" fill="#6aab45"/>
<line x1="276.70" y1="568.30" x2="276.70" y2="571.00" stroke="#111" stroke-width="1.00"/>
<line x1="273.95" y1="568.30" x2="279.45" y2="568.30" stroke="#111" stroke-width="1.00"/>
<line x1="287.75" y1="601.40" x2="287.75" y2="606.50" stroke="#111" stroke-width="1.00"/>
<line x1="284.98" y1="601.40" x2="290.52" y2="601.40" stroke="#111" stroke-width="1.00"/>
<line x1="298.65" y1="582.70" x2="298.65" y2="592.10" stroke="#111" stroke-width="1.00"/>
<line x1="295.97" y1="582.70" x2="301.32" y2="582.70" stroke="#111" stroke-width="1.00"/>
<line x1="309.50" y1="579.40" x2="309.50" y2="590.80" stroke="#111" stroke-width="1.00"/>
<line x1="306.75" y1="579.40" x2="312.25" y2="579.40" stroke="#111" stroke-width="1.00"/>
<line x1="266.60" y1="563.10" x2="266.60" y2="619.30" stroke="#111" stroke-width="1.10"/>
<line x1="263.60" y1="619.30" x2="320.40" y2="619.30" stroke="#111" stroke-width="1.20"/>
<line x1="263.60" y1="566.20" x2="266.60" y2="566.20" stroke="#111" stroke-width="1.00"/>
<text transform="translate(260.10 569.90) scale(0.900 1)" font-size="10.00" text-anchor="end" fill="#231f20" stroke="#231f20" stroke-width="0.28">8</text>
<line x1="263.60" y1="579.50" x2="266.60" y2="579.50" stroke="#111" stroke-width="1.00"/>
<text transform="translate(260.10 583.20) scale(0.900 1)" font-size="10.00" text-anchor="end" fill="#231f20" stroke="#231f20" stroke-width="0.28">6</text>
<line x1="263.60" y1="592.70" x2="266.60" y2="592.70" stroke="#111" stroke-width="1.00"/>
<text transform="translate(260.10 596.40) scale(0.900 1)" font-size="10.00" text-anchor="end" fill="#231f20" stroke="#231f20" stroke-width="0.28">4</text>
<line x1="263.60" y1="606.10" x2="266.60" y2="606.10" stroke="#111" stroke-width="1.00"/>
<text transform="translate(260.10 609.80) scale(0.900 1)" font-size="10.00" text-anchor="end" fill="#231f20" stroke="#231f20" stroke-width="0.28">2</text>
<line x1="263.60" y1="619.30" x2="266.60" y2="619.30" stroke="#111" stroke-width="1.00"/>
<text transform="translate(260.10 623.00) scale(0.900 1)" font-size="10.00" text-anchor="end" fill="#231f20" stroke="#231f20" stroke-width="0.28">0</text>
<line x1="293.30" y1="619.30" x2="293.30" y2="622.10" stroke="#111" stroke-width="1.00"/>
<text transform="translate(293.25 634.10) scale(0.865 1)" font-size="10.00" text-anchor="middle" fill="#231f20" stroke="#231f20" stroke-width="0.28">CD4</text>
<text transform="translate(248.70 591.30) rotate(-90) scale(0.685 1)" font-size="11.50" text-anchor="middle" fill="#231f20" stroke="#231f20" stroke-width="0.28">%Foxp3</text>
<rect x="366.20" y="614.20" width="10.90" height="4.80" fill="#4f2468"/>
<rect x="377.10" y="574.20" width="10.80" height="44.80" fill="#a9022e"/>
<rect x="387.90" y="586.30" width="10.60" height="32.70" fill="#2d4f8a"/>
<rect x="398.50" y="580.80" width="10.50" height="38.20" fill="#6aab45"/>
<line x1="371.65" y1="613.60" x2="371.65" y2="614.60" stroke="#111" stroke-width="1.00"/>
<line x1="368.92" y1="613.60" x2="374.38" y2="613.60" stroke="#111" stroke-width="1.00"/>
<line x1="382.50" y1="570.00" x2="382.50" y2="574.60" stroke="#111" stroke-width="1.00"/>
<line x1="379.80" y1="570.00" x2="385.20" y2="570.00" stroke="#111" stroke-width="1.00"/>
<line x1="393.20" y1="584.00" x2="393.20" y2="586.70" stroke="#111" stroke-width="1.00"/>
<line x1="390.55" y1="584.00" x2="395.85" y2="584.00" stroke="#111" stroke-width="1.00"/>
<line x1="403.75" y1="576.30" x2="403.75" y2="581.20" stroke="#111" stroke-width="1.00"/>
<line x1="401.12" y1="576.30" x2="406.38" y2="576.30" stroke="#111" stroke-width="1.00"/>
<line x1="361.30" y1="564.20" x2="361.30" y2="619.00" stroke="#111" stroke-width="1.10"/>
<line x1="358.30" y1="619.00" x2="414.20" y2="619.00" stroke="#111" stroke-width="1.20"/>
<line x1="358.30" y1="567.10" x2="361.30" y2="567.10" stroke="#111" stroke-width="1.00"/>
<text transform="translate(354.80 570.80) scale(0.900 1)" font-size="10.00" text-anchor="end" fill="#231f20" stroke="#231f20" stroke-width="0.28">20</text>
<line x1="358.30" y1="580.10" x2="361.30" y2="580.10" stroke="#111" stroke-width="1.00"/>
<text transform="translate(354.80 583.80) scale(0.900 1)" font-size="10.00" text-anchor="end" fill="#231f20" stroke="#231f20" stroke-width="0.28">15</text>
<line x1="358.30" y1="593.10" x2="361.30" y2="593.10" stroke="#111" stroke-width="1.00"/>
<text transform="translate(354.80 596.80) scale(0.900 1)" font-size="10.00" text-anchor="end" fill="#231f20" stroke="#231f20" stroke-width="0.28">10</text>
<line x1="358.30" y1="606.10" x2="361.30" y2="606.10" stroke="#111" stroke-width="1.00"/>
<text transform="translate(354.80 609.80) scale(0.900 1)" font-size="10.00" text-anchor="end" fill="#231f20" stroke="#231f20" stroke-width="0.28">5</text>
<line x1="358.30" y1="619.00" x2="361.30" y2="619.00" stroke="#111" stroke-width="1.00"/>
<text transform="translate(354.80 622.70) scale(0.900 1)" font-size="10.00" text-anchor="end" fill="#231f20" stroke="#231f20" stroke-width="0.28">0</text>
<line x1="387.70" y1="619.00" x2="387.70" y2="621.80" stroke="#111" stroke-width="1.00"/>
<path d="M381.90 568.50 V563.80 H394.00 V568.50" fill="none" stroke="#111" stroke-width="1.00"/>
<text transform="translate(388.30 564.17)" font-size="8.40" text-anchor="middle" fill="#111" stroke="#111" stroke-width="0.10">*</text>
<text transform="translate(387.55 634.10) scale(0.893 1)" font-size="10.00" text-anchor="middle" fill="#231f20" stroke="#231f20" stroke-width="0.28">Tfh</text>
<text transform="translate(339.30 593.10) rotate(-90) scale(0.700 1)" font-size="11.50" text-anchor="middle" fill="#231f20" stroke="#231f20" stroke-width="0.28">% in CD4<tspan font-size="7" dy="-3.5">+</tspan><tspan dy="3.5">Foxp3</tspan><tspan font-size="6" dy="-4">-</tspan></text>
<rect x="460.00" y="616.20" width="11.50" height="3.20" fill="#4f2468"/>
<rect x="471.50" y="578.10" width="11.60" height="41.30" fill="#a9022e"/>
<rect x="483.10" y="597.30" width="11.50" height="22.10" fill="#2d4f8a"/>
<rect x="494.60" y="599.40" width="11.60" height="20.00" fill="#6aab45"/>
<line x1="465.75" y1="615.60" x2="465.75" y2="616.60" stroke="#111" stroke-width="1.00"/>
<line x1="462.88" y1="615.60" x2="468.62" y2="615.60" stroke="#111" stroke-width="1.00"/>
<line x1="477.30" y1="571.00" x2="477.30" y2="578.50" stroke="#111" stroke-width="1.00"/>
<line x1="474.40" y1="571.00" x2="480.20" y2="571.00" stroke="#111" stroke-width="1.00"/>
<line x1="488.85" y1="593.50" x2="488.85" y2="597.70" stroke="#111" stroke-width="1.00"/>
<line x1="485.98" y1="593.50" x2="491.73" y2="593.50" stroke="#111" stroke-width="1.00"/>
<line x1="500.40" y1="598.50" x2="500.40" y2="599.80" stroke="#111" stroke-width="1.00"/>
<line x1="497.50" y1="598.50" x2="503.30" y2="598.50" stroke="#111" stroke-width="1.00"/>
<line x1="455.20" y1="560.40" x2="455.20" y2="619.40" stroke="#111" stroke-width="1.10"/>
<line x1="452.20" y1="619.40" x2="507.00" y2="619.40" stroke="#111" stroke-width="1.20"/>
<line x1="452.20" y1="563.70" x2="455.20" y2="563.70" stroke="#111" stroke-width="1.00"/>
<text transform="translate(448.70 567.40) scale(0.900 1)" font-size="10.00" text-anchor="end" fill="#231f20" stroke="#231f20" stroke-width="0.28">25</text>
<line x1="452.20" y1="574.90" x2="455.20" y2="574.90" stroke="#111" stroke-width="1.00"/>
<text transform="translate(448.70 578.60) scale(0.900 1)" font-size="10.00" text-anchor="end" fill="#231f20" stroke="#231f20" stroke-width="0.28">20</text>
<line x1="452.20" y1="586.00" x2="455.20" y2="586.00" stroke="#111" stroke-width="1.00"/>
<text transform="translate(448.70 589.70) scale(0.900 1)" font-size="10.00" text-anchor="end" fill="#231f20" stroke="#231f20" stroke-width="0.28">15</text>
<line x1="452.20" y1="597.20" x2="455.20" y2="597.20" stroke="#111" stroke-width="1.00"/>
<text transform="translate(448.70 600.90) scale(0.900 1)" font-size="10.00" text-anchor="end" fill="#231f20" stroke="#231f20" stroke-width="0.28">10</text>
<line x1="452.20" y1="608.30" x2="455.20" y2="608.30" stroke="#111" stroke-width="1.00"/>
<text transform="translate(448.70 612.00) scale(0.900 1)" font-size="10.00" text-anchor="end" fill="#231f20" stroke="#231f20" stroke-width="0.28">5</text>
<line x1="452.20" y1="619.40" x2="455.20" y2="619.40" stroke="#111" stroke-width="1.00"/>
<text transform="translate(448.70 623.10) scale(0.900 1)" font-size="10.00" text-anchor="end" fill="#231f20" stroke="#231f20" stroke-width="0.28">0</text>
<line x1="483.10" y1="619.40" x2="483.10" y2="622.20" stroke="#111" stroke-width="1.00"/>
<path d="M476.90 559.40 V554.60 H503.80 V559.40" fill="none" stroke="#111" stroke-width="1.00"/>
<text transform="translate(490.40 554.97)" font-size="8.40" text-anchor="middle" fill="#111" stroke="#111" stroke-width="0.10">*</text>
<path d="M476.90 570.00 V565.20 H491.20 V570.00" fill="none" stroke="#111" stroke-width="1.00"/>
<text transform="translate(484.00 565.47)" font-size="8.40" text-anchor="middle" fill="#111" stroke="#111" stroke-width="0.10">*</text>
<text transform="translate(482.60 634.10) scale(0.799 1)" font-size="10.00" text-anchor="middle" fill="#231f20" stroke="#231f20" stroke-width="0.28">PD-1</text>
<text transform="translate(432.60 592.00) rotate(-90) scale(0.696 1)" font-size="11.50" text-anchor="middle" fill="#231f20" stroke="#231f20" stroke-width="0.28">% in CD8</text>
<rect x="273.30" y="674.60" width="10.90" height="40.80" fill="#4f2468"/>
<rect x="284.20" y="710.20" width="10.80" height="5.20" fill="#a9022e"/>
<rect x="295.00" y="695.20" width="11.00" height="20.20" fill="#2d4f8a"/>
<rect x="306.00" y="700.00" width="10.90" height="15.40" fill="#6aab45"/>
<line x1="278.75" y1="672.70" x2="278.75" y2="675.00" stroke="#111" stroke-width="1.00"/>
<line x1="276.02" y1="672.70" x2="281.48" y2="672.70" stroke="#111" stroke-width="1.00"/>
<line x1="289.60" y1="708.30" x2="289.60" y2="710.60" stroke="#111" stroke-width="1.00"/>
<line x1="286.90" y1="708.30" x2="292.30" y2="708.30" stroke="#111" stroke-width="1.00"/>
<line x1="300.50" y1="690.40" x2="300.50" y2="695.60" stroke="#111" stroke-width="1.00"/>
<line x1="297.75" y1="690.40" x2="303.25" y2="690.40" stroke="#111" stroke-width="1.00"/>
<line x1="311.45" y1="697.10" x2="311.45" y2="700.40" stroke="#111" stroke-width="1.00"/>
<line x1="308.73" y1="697.10" x2="314.17" y2="697.10" stroke="#111" stroke-width="1.00"/>
<line x1="268.50" y1="655.40" x2="268.50" y2="715.40" stroke="#111" stroke-width="1.10"/>
<line x1="265.50" y1="715.40" x2="321.90" y2="715.40" stroke="#111" stroke-width="1.20"/>
<line x1="265.50" y1="658.30" x2="268.50" y2="658.30" stroke="#111" stroke-width="1.00"/>
<text transform="translate(262.00 662.00) scale(0.900 1)" font-size="10.00" text-anchor="end" fill="#231f20" stroke="#231f20" stroke-width="0.28">80</text>
<line x1="265.50" y1="672.60" x2="268.50" y2="672.60" stroke="#111" stroke-width="1.00"/>
<text transform="translate(262.00 676.30) scale(0.900 1)" font-size="10.00" text-anchor="end" fill="#231f20" stroke="#231f20" stroke-width="0.28">60</text>
<line x1="265.50" y1="686.90" x2="268.50" y2="686.90" stroke="#111" stroke-width="1.00"/>
<text transform="translate(262.00 690.60) scale(0.900 1)" font-size="10.00" text-anchor="end" fill="#231f20" stroke="#231f20" stroke-width="0.28">40</text>
<line x1="265.50" y1="701.20" x2="268.50" y2="701.20" stroke="#111" stroke-width="1.00"/>
<text transform="translate(262.00 704.90) scale(0.900 1)" font-size="10.00" text-anchor="end" fill="#231f20" stroke="#231f20" stroke-width="0.28">20</text>
<line x1="265.50" y1="715.40" x2="268.50" y2="715.40" stroke="#111" stroke-width="1.00"/>
<text transform="translate(262.00 719.10) scale(0.900 1)" font-size="10.00" text-anchor="end" fill="#231f20" stroke="#231f20" stroke-width="0.28">0</text>
<line x1="295.00" y1="715.40" x2="295.00" y2="718.20" stroke="#111" stroke-width="1.00"/>
<path d="M287.70 679.40 V673.70 H309.20 V679.40" fill="none" stroke="#111" stroke-width="1.00"/>
<text transform="translate(298.30 673.97)" font-size="8.40" text-anchor="middle" fill="#111" stroke="#111" stroke-width="0.10">*</text>
<path d="M287.70 689.00 V684.20 H301.50 V689.00" fill="none" stroke="#111" stroke-width="1.00"/>
<text transform="translate(294.40 684.17)" font-size="8.40" text-anchor="middle" fill="#111" stroke="#111" stroke-width="0.10">*</text>
<text transform="translate(246.20 685.40) rotate(-90) scale(0.725 1)" font-size="11.50" text-anchor="middle" fill="#231f20" stroke="#231f20" stroke-width="0.28">% B220</text>
<rect x="367.70" y="707.30" width="10.40" height="8.70" fill="#4f2468"/>
<rect x="378.10" y="666.00" width="10.60" height="50.00" fill="#a9022e"/>
<rect x="388.70" y="684.80" width="10.50" height="31.20" fill="#2d4f8a"/>
<rect x="399.20" y="670.80" width="10.60" height="45.20" fill="#6aab45"/>
<line x1="372.90" y1="706.80" x2="372.90" y2="707.70" stroke="#111" stroke-width="1.00"/>
<line x1="370.30" y1="706.80" x2="375.50" y2="706.80" stroke="#111" stroke-width="1.00"/>
<line x1="383.40" y1="664.00" x2="383.40" y2="666.40" stroke="#111" stroke-width="1.00"/>
<line x1="380.75" y1="664.00" x2="386.05" y2="664.00" stroke="#111" stroke-width="1.00"/>
<line x1="393.95" y1="680.80" x2="393.95" y2="685.20" stroke="#111" stroke-width="1.00"/>
<line x1="391.32" y1="680.80" x2="396.57" y2="680.80" stroke="#111" stroke-width="1.00"/>
<line x1="404.50" y1="664.60" x2="404.50" y2="671.20" stroke="#111" stroke-width="1.00"/>
<line x1="401.85" y1="664.60" x2="407.15" y2="664.60" stroke="#111" stroke-width="1.00"/>
<line x1="362.70" y1="658.30" x2="362.70" y2="716.00" stroke="#111" stroke-width="1.10"/>
<line x1="359.70" y1="716.00" x2="414.60" y2="716.00" stroke="#111" stroke-width="1.20"/>
<line x1="359.70" y1="660.80" x2="362.70" y2="660.80" stroke="#111" stroke-width="1.00"/>
<text transform="translate(356.20 664.50) scale(0.900 1)" font-size="10.00" text-anchor="end" fill="#231f20" stroke="#231f20" stroke-width="0.28">1.5</text>
<line x1="359.70" y1="679.20" x2="362.70" y2="679.20" stroke="#111" stroke-width="1.00"/>
<text transform="translate(356.20 682.90) scale(0.900 1)" font-size="10.00" text-anchor="end" fill="#231f20" stroke="#231f20" stroke-width="0.28">1.0</text>
<line x1="359.70" y1="697.60" x2="362.70" y2="697.60" stroke="#111" stroke-width="1.00"/>
<text transform="translate(356.20 701.30) scale(0.900 1)" font-size="10.00" text-anchor="end" fill="#231f20" stroke="#231f20" stroke-width="0.28">0.5</text>
<line x1="359.70" y1="716.00" x2="362.70" y2="716.00" stroke="#111" stroke-width="1.00"/>
<text transform="translate(356.20 719.70) scale(0.900 1)" font-size="10.00" text-anchor="end" fill="#231f20" stroke="#231f20" stroke-width="0.28">0.0</text>
<line x1="388.70" y1="716.00" x2="388.70" y2="718.80" stroke="#111" stroke-width="1.00"/>
<path d="M382.50 661.50 V657.30 H395.60 V661.50" fill="none" stroke="#111" stroke-width="1.00"/>
<text transform="translate(388.80 657.57)" font-size="8.40" text-anchor="middle" fill="#111" stroke="#111" stroke-width="0.10" letter-spacing="0.5">**</text>
<text transform="translate(338.00 687.00) rotate(-90) scale(0.707 1)" font-size="11.50" text-anchor="middle" fill="#231f20" stroke="#231f20" stroke-width="0.28">% CD138</text>
<rect x="464.40" y="700.00" width="10.60" height="15.60" fill="#4f2468"/>
<rect x="475.00" y="685.20" width="10.40" height="30.40" fill="#a9022e"/>
<rect x="485.40" y="698.70" width="10.60" height="16.90" fill="#2d4f8a"/>
<rect x="496.00" y="696.70" width="10.70" height="18.90" fill="#6aab45"/>
<line x1="469.70" y1="699.40" x2="469.70" y2="700.40" stroke="#111" stroke-width="1.00"/>
<line x1="467.05" y1="699.40" x2="472.35" y2="699.40" stroke="#111" stroke-width="1.00"/>
<line x1="480.20" y1="682.30" x2="480.20" y2="685.60" stroke="#111" stroke-width="1.00"/>
<line x1="477.60" y1="682.30" x2="482.80" y2="682.30" stroke="#111" stroke-width="1.00"/>
<line x1="490.70" y1="698.20" x2="490.70" y2="699.10" stroke="#111" stroke-width="1.00"/>
<line x1="488.05" y1="698.20" x2="493.35" y2="698.20" stroke="#111" stroke-width="1.00"/>
<line x1="501.35" y1="695.40" x2="501.35" y2="697.10" stroke="#111" stroke-width="1.00"/>
<line x1="498.68" y1="695.40" x2="504.03" y2="695.40" stroke="#111" stroke-width="1.00"/>
<line x1="459.60" y1="660.20" x2="459.60" y2="715.60" stroke="#111" stroke-width="1.10"/>
<line x1="456.60" y1="715.60" x2="508.00" y2="715.60" stroke="#111" stroke-width="1.20"/>
<line x1="456.60" y1="663.10" x2="459.60" y2="663.10" stroke="#111" stroke-width="1.00"/>
<text transform="translate(453.10 666.80) scale(0.900 1)" font-size="10.00" text-anchor="end" fill="#231f20" stroke="#231f20" stroke-width="0.28">1500</text>
<line x1="456.60" y1="680.60" x2="459.60" y2="680.60" stroke="#111" stroke-width="1.00"/>
<text transform="translate(453.10 684.30) scale(0.900 1)" font-size="10.00" text-anchor="end" fill="#231f20" stroke="#231f20" stroke-width="0.28">1000</text>
<line x1="456.60" y1="698.10" x2="459.60" y2="698.10" stroke="#111" stroke-width="1.00"/>
<text transform="translate(453.10 701.80) scale(0.900 1)" font-size="10.00" text-anchor="end" fill="#231f20" stroke="#231f20" stroke-width="0.28">500</text>
<line x1="456.60" y1="715.60" x2="459.60" y2="715.60" stroke="#111" stroke-width="1.00"/>
<text transform="translate(453.10 719.30) scale(0.900 1)" font-size="10.00" text-anchor="end" fill="#231f20" stroke="#231f20" stroke-width="0.28">0</text>
<line x1="485.40" y1="715.60" x2="485.40" y2="718.40" stroke="#111" stroke-width="1.00"/>
<path d="M479.60 669.80 V665.40 H500.40 V669.80" fill="none" stroke="#111" stroke-width="1.00"/>
<text transform="translate(490.40 665.67)" font-size="8.40" text-anchor="middle" fill="#111" stroke="#111" stroke-width="0.10">*</text>
<path d="M479.60 679.40 V675.00 H491.70 V679.40" fill="none" stroke="#111" stroke-width="1.00"/>
<text transform="translate(486.00 674.97)" font-size="8.40" text-anchor="middle" fill="#111" stroke="#111" stroke-width="0.10">*</text>
<text transform="translate(485.50 730.40) scale(0.882 1)" font-size="10.00" text-anchor="middle" fill="#231f20" stroke="#231f20" stroke-width="0.28">MHCII</text>
<text transform="translate(426.90 687.90) rotate(-90) scale(0.697 1)" font-size="11.50" text-anchor="middle" fill="#231f20" stroke="#231f20" stroke-width="0.28">MFI</text>
<path d="M23.50 445.20 L24.00 445.20 L24.50 445.20 L25.00 445.20 L25.50 445.20 L26.00 445.20 L26.50 445.20 L27.00 445.20 L27.50 445.20 L28.00 445.20 L28.50 445.20 L29.00 445.20 L29.50 445.20 L30.00 445.20 L30.50 445.20 L31.00 445.20 L31.50 445.20 L32.00 445.20 L32.50 445.20 L33.00 445.20 L33.50 445.19 L34.00 445.19 L34.50 445.19 L35.00 445.18 L35.50 445.17 L36.00 445.16 L36.50 445.14 L37.00 445.11 L37.50 445.08 L38.00 445.03 L38.50 444.97 L39.00 444.89 L39.50 444.80 L40.00 444.67 L40.50 444.52 L41.00 444.34 L41.50 444.12 L42.00 443.85 L42.50 443.54 L43.00 443.19 L43.50 442.79 L44.00 442.33 L44.50 441.82 L45.00 441.25 L45.50 440.63 L46.00 439.93 L46.50 439.16 L47.00 438.29 L47.50 437.30 L48.00 436.19 L48.50 434.92 L49.00 433.48 L49.50 431.86 L50.00 430.08 L50.50 428.18 L51.00 426.20 L51.50 424.23 L52.00 422.37 L52.50 420.75 L53.00 419.48 L53.50 418.67 L54.00 418.41 L54.50 418.73 L55.00 419.63 L55.50 421.06 L56.00 422.94 L56.50 425.15 L57.00 427.55 L57.50 430.00 L58.00 432.38 L58.50 434.59 L59.00 436.57 L59.50 438.28 L60.00 439.71 L60.50 440.88 L61.00 441.81 L61.50 442.53 L62.00 443.10 L62.50 443.54 L63.00 443.89 L63.50 444.16 L64.00 444.38 L64.50 444.56 L65.00 444.70 L65.50 444.82 L66.00 444.92 L66.50 444.99 L67.00 445.05 L67.50 445.10 L68.00 445.13 L68.50 445.15 L69.00 445.17 L69.50 445.18 L70.00 445.19 L70.50 445.19 L71.00 445.20 L71.50 445.20 L72.00 445.20 L72.50 445.20 L73.00 445.20 L73.50 445.20 L74.00 445.20 L74.50 445.20 L75.00 445.20 L75.50 445.20 L76.00 445.20 L76.50 445.20 L77.00 445.20 L77.50 445.20 L78.00 445.20 L78.50 445.20 L79.00 445.20 L79.50 445.20 L80.00 445.20 L80.50 445.20 L81.00 445.20 L81.50 445.20 L82.00 445.20 L82.50 445.20 L83.00 445.20 L83.50 445.20 L84.00 445.20 L84.50 445.20 L85.00 445.20 L85.50 445.20 L86.00 445.20 L86.50 445.20 L87.00 445.20 L87.50 445.20 L88.00 445.20 L88.50 445.20 L89.00 445.20 L89.50 445.20 L90.00 445.20 L90.50 445.20 L91.00 445.20 L91.50 445.20 L92.00 445.20 L92.50 445.20 L93.00 445.20 L93.50 445.20 L94.00 445.20 L94.50 445.20 L95.00 445.20 L95.50 445.20 L96.00 445.20 L96.50 445.20 L97.00 445.20 L97.50 445.20 L98.00 445.20 L98.50 445.20 L99.00 445.20 L99.50 445.20 L100.00 445.20 L100.50 445.20 L101.00 445.20 L101.50 445.20 L102.00 445.20 L102.50 445.20 L103.00 445.20 L103.50 445.20 L104.00 445.20 L104.50 445.20 L105.00 445.20 L105.50 445.20 L106.00 445.20 L106.50 445.20 L107.00 445.20 L107.50 445.20 L108.00 445.20 L108.50 445.20 L109.00 445.20 L109.50 445.20 L110.00 445.20 L110.50 445.20 L111.00 445.20 L111.50 445.20 L112.00 445.20 L112.50 445.20 L113.00 445.20 L113.50 445.20 L114.00 445.20 L114.50 445.20 L115.00 445.20 L115.50 445.20 L116.00 445.20 L116.50 445.20 L117.00 445.20 L117.50 445.20 L118.00 445.20 L118.50 445.20 L119.00 445.20 L119.50 445.20 L120.00 445.20 L120.50 445.20 L121.00 445.20 L121.50 445.20 L122.00 445.20 L122.50 445.20 L123.00 445.20 L123.30 445.20 L23.50 445.20 Z" fill="#727272"/>
<line x1="23.50" y1="445.20" x2="123.30" y2="445.20" stroke="#8a8a8a" stroke-width="0.90"/>
<path d="M40.00 444.67 L40.50 444.52 L41.00 444.34 L41.50 444.12 L42.00 443.85 L42.50 443.54 L43.00 443.19 L43.50 442.79 L44.00 442.33 L44.50 441.82 L45.00 441.25 L45.50 440.63 L46.00 439.93 L46.50 439.16 L47.00 438.29 L47.50 437.30 L48.00 436.19 L48.50 434.92 L49.00 433.48 L49.50 431.86 L50.00 430.08 L50.50 428.18 L51.00 426.20 L51.50 424.23 L52.00 422.37 L52.50 420.75 L53.00 419.48 L53.50 418.67 L54.00 418.41 L54.50 418.73 L55.00 419.63 L55.50 421.06 L56.00 422.94 L56.50 425.15 L57.00 427.55 L57.50 430.00 L58.00 432.38 L58.50 434.59 L59.00 436.57 L59.50 438.28 L60.00 439.71 L60.50 440.88 L61.00 441.81 L61.50 442.53 L62.00 443.10 L62.50 443.54 L63.00 443.89 L63.50 444.16 L64.00 444.38 L64.50 444.56 L65.00 444.70" fill="none" stroke="#3c3c3c" stroke-width="1.40" stroke-linejoin="round" stroke-linecap="round"/>
<line x1="23.50" y1="459.80" x2="123.30" y2="459.80" stroke="#e9b3c0" stroke-width="0.90"/>
<path d="M44.50 459.20 L45.00 458.94 L45.50 458.59 L46.00 458.14 L46.50 457.57 L47.00 456.86 L47.50 456.02 L48.00 455.04 L48.50 453.92 L49.00 452.68 L49.50 451.34 L50.00 449.92 L50.50 448.45 L51.00 446.97 L51.50 445.49 L52.00 444.06 L52.50 442.67 L53.00 441.36 L53.50 440.13 L54.00 438.99 L54.50 437.95 L55.00 437.03 L55.50 436.23 L56.00 435.58 L56.50 435.09 L57.00 434.79 L57.50 434.70 L58.00 434.82 L58.50 435.17 L59.00 435.75 L59.50 436.53 L60.00 437.50 L60.50 438.64 L61.00 439.90 L61.50 441.25 L62.00 442.65 L62.50 444.07 L63.00 445.48 L63.50 446.86 L64.00 448.17 L64.50 449.43 L65.00 450.60 L65.50 451.69 L66.00 452.70 L66.50 453.62 L67.00 454.46 L67.50 455.23 L68.00 455.92 L68.50 456.53 L69.00 457.07 L69.50 457.55 L70.00 457.97 L70.50 458.32 L71.00 458.62 L71.50 458.88 L72.00 459.08 L72.50 459.25" fill="none" stroke="#a9022e" stroke-width="1.40" stroke-linejoin="round" stroke-linecap="round"/>
<line x1="23.50" y1="473.20" x2="123.30" y2="473.20" stroke="#a9bbdc" stroke-width="0.90"/>
<path d="M41.50 472.67 L42.00 472.50 L42.50 472.28 L43.00 472.00 L43.50 471.66 L44.00 471.24 L44.50 470.75 L45.00 470.16 L45.50 469.48 L46.00 468.69 L46.50 467.80 L47.00 466.79 L47.50 465.66 L48.00 464.43 L48.50 463.08 L49.00 461.64 L49.50 460.11 L50.00 458.52 L50.50 456.89 L51.00 455.24 L51.50 453.62 L52.00 452.06 L52.50 450.61 L53.00 449.30 L53.50 448.19 L54.00 447.30 L54.50 446.68 L55.00 446.35 L55.50 446.33 L56.00 446.61 L56.50 447.20 L57.00 448.07 L57.50 449.20 L58.00 450.54 L58.50 452.05 L59.00 453.69 L59.50 455.41 L60.00 457.16 L60.50 458.90 L61.00 460.58 L61.50 462.19 L62.00 463.70 L62.50 465.09 L63.00 466.34 L63.50 467.46 L64.00 468.45 L64.50 469.31 L65.00 470.05 L65.50 470.67 L66.00 471.20 L66.50 471.63 L67.00 471.98 L67.50 472.27 L68.00 472.49 L68.50 472.67" fill="none" stroke="#2d4f8a" stroke-width="1.40" stroke-linejoin="round" stroke-linecap="round"/>
<line x1="23.50" y1="486.80" x2="123.30" y2="486.80" stroke="#9fd08a" stroke-width="0.90"/>
<path d="M40.00 486.33 L40.50 486.19 L41.00 486.02 L41.50 485.82 L42.00 485.58 L42.50 485.30 L43.00 484.98 L43.50 484.61 L44.00 484.20 L44.50 483.75 L45.00 483.24 L45.50 482.69 L46.00 482.09 L46.50 481.43 L47.00 480.72 L47.50 479.95 L48.00 479.13 L48.50 478.23 L49.00 477.27 L49.50 476.24 L50.00 475.15 L50.50 473.98 L51.00 472.76 L51.50 471.49 L52.00 470.19 L52.50 468.88 L53.00 467.58 L53.50 466.32 L54.00 465.13 L54.50 464.04 L55.00 463.09 L55.50 462.31 L56.00 461.72 L56.50 461.33 L57.00 461.18 L57.50 461.27 L58.00 461.59 L58.50 462.15 L59.00 462.93 L59.50 463.90 L60.00 465.05 L60.50 466.35 L61.00 467.76 L61.50 469.24 L62.00 470.77 L62.50 472.31 L63.00 473.84 L63.50 475.31 L64.00 476.73 L64.50 478.05 L65.00 479.28 L65.50 480.40 L66.00 481.40 L66.50 482.30 L67.00 483.08 L67.50 483.76 L68.00 484.34 L68.50 484.82 L69.00 485.23 L69.50 485.57 L70.00 485.84 L70.50 486.06 L71.00 486.24" fill="none" stroke="#5fae37" stroke-width="1.40" stroke-linejoin="round" stroke-linecap="round"/>
<line x1="54.80" y1="417.80" x2="54.80" y2="487.50" stroke="#111" stroke-width="1.25" stroke-dasharray="2.2 1.6"/>
<rect x="23.50" y="416.30" width="99.80" height="71.20" fill="none" stroke="#231f20" stroke-width="1.15"/>
<text transform="translate(108.80 427.00)" font-size="9.00" text-anchor="end" fill="#231f20" stroke="#231f20" stroke-width="0.28">235</text>
<text transform="translate(108.80 456.20)" font-size="9.00" text-anchor="end" fill="#231f20" stroke="#231f20" stroke-width="0.28">432</text>
<text transform="translate(108.80 472.00)" font-size="9.00" text-anchor="end" fill="#231f20" stroke="#231f20" stroke-width="0.28">275</text>
<text transform="translate(108.80 485.00)" font-size="9.00" text-anchor="end" fill="#231f20" stroke="#231f20" stroke-width="0.28">336</text>
<path d="M44.76 487.50V490.10M52.03 487.50V489.00M56.28 487.50V489.00M59.30 487.50V489.00M61.64 487.50V489.00M63.55 487.50V489.00M65.17 487.50V489.00M66.57 487.50V489.00M67.80 487.50V489.00M68.91 487.50V490.10M75.88 487.50V489.00M79.96 487.50V489.00M82.85 487.50V489.00M85.09 487.50V489.00M86.93 487.50V489.00M88.48 487.50V489.00M89.82 487.50V489.00M91.00 487.50V489.00M92.06 487.50V490.10M98.70 487.50V489.00M102.59 487.50V489.00M105.34 487.50V489.00M107.48 487.50V489.00M109.23 487.50V489.00M110.70 487.50V489.00M111.98 487.50V489.00M113.11 487.50V489.00M114.12 487.50V490.10M23.50 487.50V489.00M27.75 487.50V489.00M32.00 487.50V489.00M36.25 487.50V489.00M40.51 487.50V489.00M44.76 487.50V489.00" stroke="#231f20" stroke-width="0.8" fill="none"/>
<text transform="translate(33.78 498.80) scale(0.970 1)" font-size="6.00" text-anchor="middle" fill="#2a2a2a" stroke="#2a2a2a" stroke-width="0.28">0</text>
<text transform="translate(41.15 498.80) scale(0.970 1)" font-size="6.00" fill="#2a2a2a" stroke="#2a2a2a" stroke-width="0.28">10</text>
<text transform="translate(47.72 496.10) scale(0.970 1)" font-size="3.60" fill="#2a2a2a" stroke="#2a2a2a" stroke-width="0.28">2</text>
<text transform="translate(65.30 498.80) scale(0.970 1)" font-size="6.00" fill="#2a2a2a" stroke="#2a2a2a" stroke-width="0.28">10</text>
<text transform="translate(71.87 496.10) scale(0.970 1)" font-size="3.60" fill="#2a2a2a" stroke="#2a2a2a" stroke-width="0.28">3</text>
<text transform="translate(88.46 498.80) scale(0.970 1)" font-size="6.00" fill="#2a2a2a" stroke="#2a2a2a" stroke-width="0.28">10</text>
<text transform="translate(95.03 496.10) scale(0.970 1)" font-size="3.60" fill="#2a2a2a" stroke="#2a2a2a" stroke-width="0.28">4</text>
<text transform="translate(110.51 498.80) scale(0.970 1)" font-size="6.00" fill="#2a2a2a" stroke="#2a2a2a" stroke-width="0.28">10</text>
<text transform="translate(117.08 496.10) scale(0.970 1)" font-size="3.60" fill="#2a2a2a" stroke="#2a2a2a" stroke-width="0.28">5</text>
<text transform="translate(73.55 510.70) scale(0.672 1)" font-size="11.00" text-anchor="middle" fill="#231f20" stroke="#231f20" stroke-width="0.28">BCL6</text>
<path d="M248.50 435.30 L249.00 435.30 L249.50 435.30 L250.00 435.30 L250.50 435.30 L251.00 435.30 L251.50 435.30 L252.00 435.30 L252.50 435.29 L253.00 435.29 L253.50 435.29 L254.00 435.29 L254.50 435.28 L255.00 435.27 L255.50 435.26 L256.00 435.25 L256.50 435.23 L257.00 435.21 L257.50 435.19 L258.00 435.16 L258.50 435.12 L259.00 435.08 L259.50 435.02 L260.00 434.96 L260.50 434.89 L261.00 434.80 L261.50 434.71 L262.00 434.60 L262.50 434.48 L263.00 434.35 L263.50 434.20 L264.00 434.04 L264.50 433.87 L265.00 433.68 L265.50 433.48 L266.00 433.26 L266.50 433.01 L267.00 432.74 L267.50 432.43 L268.00 432.08 L268.50 431.67 L269.00 431.21 L269.50 430.68 L270.00 430.07 L270.50 429.39 L271.00 428.61 L271.50 427.75 L272.00 426.81 L272.50 425.78 L273.00 424.66 L273.50 423.46 L274.00 422.19 L274.50 420.86 L275.00 419.49 L275.50 418.10 L276.00 416.72 L276.50 415.41 L277.00 414.21 L277.50 413.19 L278.00 412.39 L278.50 411.88 L279.00 411.68 L279.50 411.83 L280.00 412.32 L280.50 413.14 L281.00 414.27 L281.50 415.66 L282.00 417.28 L282.50 419.06 L283.00 420.95 L283.50 422.89 L284.00 424.81 L284.50 426.64 L285.00 428.34 L285.50 429.86 L286.00 431.17 L286.50 432.26 L287.00 433.14 L287.50 433.81 L288.00 434.31 L288.50 434.66 L289.00 434.90 L289.50 435.06 L290.00 435.16 L290.50 435.22 L291.00 435.26 L291.50 435.28 L292.00 435.29 L292.50 435.29 L293.00 435.30 L293.50 435.30 L294.00 435.30 L294.50 435.30 L295.00 435.30 L295.50 435.30 L296.00 435.30 L296.50 435.30 L297.00 435.30 L297.50 435.30 L298.00 435.30 L298.50 435.30 L299.00 435.30 L299.50 435.30 L300.00 435.30 L300.50 435.30 L301.00 435.30 L301.50 435.30 L302.00 435.30 L302.50 435.30 L303.00 435.30 L303.50 435.30 L304.00 435.30 L304.50 435.30 L305.00 435.30 L305.50 435.30 L306.00 435.30 L306.50 435.30 L307.00 435.30 L307.50 435.30 L308.00 435.30 L308.50 435.30 L309.00 435.30 L309.50 435.30 L310.00 435.30 L310.50 435.30 L311.00 435.30 L311.50 435.30 L312.00 435.30 L312.50 435.30 L313.00 435.30 L313.50 435.30 L314.00 435.30 L314.50 435.30 L315.00 435.30 L315.50 435.30 L316.00 435.30 L316.50 435.30 L317.00 435.30 L317.50 435.30 L318.00 435.30 L318.50 435.30 L319.00 435.30 L319.50 435.30 L320.00 435.30 L320.50 435.30 L321.00 435.30 L321.50 435.30 L322.00 435.30 L322.50 435.30 L323.00 435.30 L323.50 435.30 L324.00 435.30 L324.50 435.30 L325.00 435.30 L325.50 435.30 L326.00 435.30 L326.50 435.30 L327.00 435.30 L327.50 435.30 L328.00 435.30 L328.50 435.30 L329.00 435.30 L329.50 435.30 L330.00 435.30 L330.50 435.30 L331.00 435.30 L331.50 435.30 L332.00 435.30 L332.50 435.30 L333.00 435.30 L333.50 435.30 L334.00 435.30 L334.50 435.30 L335.00 435.30 L335.50 435.30 L336.00 435.30 L336.50 435.30 L337.00 435.30 L337.50 435.30 L338.00 435.30 L338.50 435.30 L339.00 435.30 L339.50 435.30 L340.00 435.30 L340.50 435.30 L341.00 435.30 L341.50 435.30 L342.00 435.30 L342.50 435.30 L343.00 435.30 L343.50 435.30 L344.00 435.30 L344.50 435.30 L345.00 435.30 L345.00 435.30 L248.50 435.30 Z" fill="#727272"/>
<line x1="248.50" y1="435.30" x2="345.00" y2="435.30" stroke="#8a8a8a" stroke-width="0.90"/>
<path d="M261.00 434.80 L261.50 434.71 L262.00 434.60 L262.50 434.48 L263.00 434.35 L263.50 434.20 L264.00 434.04 L264.50 433.87 L265.00 433.68 L265.50 433.48 L266.00 433.26 L266.50 433.01 L267.00 432.74 L267.50 432.43 L268.00 432.08 L268.50 431.67 L269.00 431.21 L269.50 430.68 L270.00 430.07 L270.50 429.39 L271.00 428.61 L271.50 427.75 L272.00 426.81 L272.50 425.78 L273.00 424.66 L273.50 423.46 L274.00 422.19 L274.50 420.86 L275.00 419.49 L275.50 418.10 L276.00 416.72 L276.50 415.41 L277.00 414.21 L277.50 413.19 L278.00 412.39 L278.50 411.88 L279.00 411.68 L279.50 411.83 L280.00 412.32 L280.50 413.14 L281.00 414.27 L281.50 415.66 L282.00 417.28 L282.50 419.06 L283.00 420.95 L283.50 422.89 L284.00 424.81 L284.50 426.64 L285.00 428.34 L285.50 429.86 L286.00 431.17 L286.50 432.26 L287.00 433.14 L287.50 433.81 L288.00 434.31 L288.50 434.66" fill="none" stroke="#3c3c3c" stroke-width="1.40" stroke-linejoin="round" stroke-linecap="round"/>
<line x1="248.50" y1="452.20" x2="345.00" y2="452.20" stroke="#e9b3c0" stroke-width="0.90"/>
<path d="M264.00 451.73 L264.50 451.60 L265.00 451.44 L265.50 451.26 L266.00 451.06 L266.50 450.83 L267.00 450.58 L267.50 450.31 L268.00 450.02 L268.50 449.72 L269.00 449.41 L269.50 449.09 L270.00 448.76 L270.50 448.41 L271.00 448.04 L271.50 447.63 L272.00 447.18 L272.50 446.66 L273.00 446.07 L273.50 445.40 L274.00 444.64 L274.50 443.82 L275.00 442.94 L275.50 442.04 L276.00 441.15 L276.50 440.31 L277.00 439.53 L277.50 438.84 L278.00 438.22 L278.50 437.65 L279.00 437.07 L279.50 436.43 L280.00 435.70 L280.50 434.88 L281.00 434.03 L281.50 433.25 L282.00 432.68 L282.50 432.47 L283.00 432.75 L283.50 433.57 L284.00 434.91 L284.50 436.67 L285.00 438.72 L285.50 440.88 L286.00 442.99 L286.50 444.94 L287.00 446.64 L287.50 448.06 L288.00 449.20 L288.50 450.08 L289.00 450.74 L289.50 451.22 L290.00 451.56" fill="none" stroke="#a9022e" stroke-width="1.40" stroke-linejoin="round" stroke-linecap="round"/>
<line x1="248.50" y1="470.30" x2="345.00" y2="470.30" stroke="#a9bbdc" stroke-width="0.90"/>
<path d="M262.00 469.81 L262.50 469.71 L263.00 469.59 L263.50 469.47 L264.00 469.34 L264.50 469.20 L265.00 469.05 L265.50 468.89 L266.00 468.72 L266.50 468.53 L267.00 468.33 L267.50 468.11 L268.00 467.85 L268.50 467.56 L269.00 467.22 L269.50 466.85 L270.00 466.42 L270.50 465.94 L271.00 465.41 L271.50 464.84 L272.00 464.23 L272.50 463.58 L273.00 462.90 L273.50 462.18 L274.00 461.40 L274.50 460.57 L275.00 459.65 L275.50 458.63 L276.00 457.51 L276.50 456.29 L277.00 454.99 L277.50 453.65 L278.00 452.33 L278.50 451.14 L279.00 450.14 L279.50 449.45 L280.00 449.14 L280.50 449.26 L281.00 449.85 L281.50 450.88 L282.00 452.31 L282.50 454.05 L283.00 455.99 L283.50 458.02 L284.00 460.05 L284.50 461.96 L285.00 463.70 L285.50 465.22 L286.00 466.49 L286.50 467.52 L287.00 468.33 L287.50 468.94 L288.00 469.39 L288.50 469.70" fill="none" stroke="#2d4f8a" stroke-width="1.40" stroke-linejoin="round" stroke-linecap="round"/>
<line x1="248.50" y1="487.60" x2="345.00" y2="487.60" stroke="#9fd08a" stroke-width="0.90"/>
<path d="M264.00 487.11 L264.50 487.01 L265.00 486.90 L265.50 486.78 L266.00 486.65 L266.50 486.52 L267.00 486.38 L267.50 486.24 L268.00 486.09 L268.50 485.94 L269.00 485.78 L269.50 485.61 L270.00 485.42 L270.50 485.21 L271.00 484.97 L271.50 484.71 L272.00 484.40 L272.50 484.06 L273.00 483.67 L273.50 483.22 L274.00 482.71 L274.50 482.14 L275.00 481.48 L275.50 480.73 L276.00 479.88 L276.50 478.90 L277.00 477.79 L277.50 476.55 L278.00 475.20 L278.50 473.77 L279.00 472.32 L279.50 470.92 L280.00 469.66 L280.50 468.63 L281.00 467.94 L281.50 467.64 L282.00 467.78 L282.50 468.38 L283.00 469.41 L283.50 470.82 L284.00 472.51 L284.50 474.37 L285.00 476.31 L285.50 478.22 L286.00 480.02 L286.50 481.63 L287.00 483.03 L287.50 484.19 L288.00 485.13 L288.50 485.86 L289.00 486.40 L289.50 486.80 L290.00 487.08" fill="none" stroke="#5fae37" stroke-width="1.40" stroke-linejoin="round" stroke-linecap="round"/>
<line x1="279.10" y1="412.70" x2="279.10" y2="488.00" stroke="#111" stroke-width="1.25" stroke-dasharray="2.2 1.6"/>
<rect x="248.50" y="411.20" width="96.50" height="76.80" fill="none" stroke="#231f20" stroke-width="1.15"/>
<text transform="translate(341.30 423.20)" font-size="9.00" text-anchor="end" fill="#231f20" stroke="#231f20" stroke-width="0.28">4.8%</text>
<text transform="translate(341.30 445.70)" font-size="9.00" text-anchor="end" fill="#231f20" stroke="#231f20" stroke-width="0.28">16%</text>
<text transform="translate(343.00 462.70)" font-size="9.00" text-anchor="end" fill="#231f20" stroke="#231f20" stroke-width="0.28">7.8%</text>
<text transform="translate(341.30 480.00)" font-size="9.00" text-anchor="end" fill="#231f20" stroke="#231f20" stroke-width="0.28">10%</text>
<path d="M266.83 488.00V490.60M274.10 488.00V489.50M278.35 488.00V489.50M281.36 488.00V489.50M283.70 488.00V489.50M285.61 488.00V489.50M287.22 488.00V489.50M288.62 488.00V489.50M289.86 488.00V489.50M290.96 488.00V490.60M298.14 488.00V489.50M302.33 488.00V489.50M305.31 488.00V489.50M307.62 488.00V489.50M309.51 488.00V489.50M311.10 488.00V489.50M312.49 488.00V489.50M313.70 488.00V489.50M314.80 488.00V490.60M321.56 488.00V489.50M325.52 488.00V489.50M328.33 488.00V489.50M330.51 488.00V489.50M332.29 488.00V489.50M333.80 488.00V489.50M335.10 488.00V489.50M336.25 488.00V489.50M337.28 488.00V490.60M248.50 488.00V489.50M252.17 488.00V489.50M255.83 488.00V489.50M259.50 488.00V489.50M263.17 488.00V489.50M266.83 488.00V489.50" stroke="#231f20" stroke-width="0.8" fill="none"/>
<text transform="translate(259.21 499.70) scale(0.970 1)" font-size="6.00" text-anchor="middle" fill="#2a2a2a" stroke="#2a2a2a" stroke-width="0.28">0</text>
<text transform="translate(263.23 499.70) scale(0.970 1)" font-size="6.00" fill="#2a2a2a" stroke="#2a2a2a" stroke-width="0.28">10</text>
<text transform="translate(269.80 497.00) scale(0.970 1)" font-size="3.60" fill="#2a2a2a" stroke="#2a2a2a" stroke-width="0.28">2</text>
<text transform="translate(287.35 499.70) scale(0.970 1)" font-size="6.00" fill="#2a2a2a" stroke="#2a2a2a" stroke-width="0.28">10</text>
<text transform="translate(293.93 497.00) scale(0.970 1)" font-size="3.60" fill="#2a2a2a" stroke="#2a2a2a" stroke-width="0.28">3</text>
<text transform="translate(311.19 499.70) scale(0.970 1)" font-size="6.00" fill="#2a2a2a" stroke="#2a2a2a" stroke-width="0.28">10</text>
<text transform="translate(317.76 497.00) scale(0.970 1)" font-size="3.60" fill="#2a2a2a" stroke="#2a2a2a" stroke-width="0.28">4</text>
<text transform="translate(333.67 499.70) scale(0.970 1)" font-size="6.00" fill="#2a2a2a" stroke="#2a2a2a" stroke-width="0.28">10</text>
<text transform="translate(340.25 497.00) scale(0.970 1)" font-size="3.60" fill="#2a2a2a" stroke="#2a2a2a" stroke-width="0.28">5</text>
<text transform="translate(296.60 512.80) scale(0.823 1)" font-size="9.70" text-anchor="middle" fill="#231f20" stroke="#231f20" stroke-width="0.28">IL-21</text>
<text transform="translate(23.85 567.40) scale(0.771 1)" font-size="9.60" text-anchor="middle" fill="#231f20" stroke="#231f20" stroke-width="0.28">BM</text>
<text transform="translate(23.60 616.80) scale(0.798 1)" font-size="9.60" text-anchor="middle" fill="#231f20" stroke="#231f20" stroke-width="0.28">Vehicle</text>
<text transform="translate(23.75 670.00) scale(0.733 1)" font-size="9.60" text-anchor="middle" fill="#231f20" stroke="#231f20" stroke-width="0.28">Ex-527</text>
<text transform="translate(24.00 681.50) scale(0.712 1)" font-size="9.60" text-anchor="middle" fill="#231f20" stroke="#231f20" stroke-width="0.28">d 0</text>
<text transform="translate(23.50 725.90) scale(0.733 1)" font-size="9.60" text-anchor="middle" fill="#231f20" stroke="#231f20" stroke-width="0.28">Ex-527</text>
<text transform="translate(23.80 737.60) scale(0.723 1)" font-size="9.60" text-anchor="middle" fill="#231f20" stroke="#231f20" stroke-width="0.28">d 28</text>
<text transform="translate(96.30 532.00) scale(0.807 1)" font-size="9.60" text-anchor="middle" fill="#231f20" stroke="#231f20" stroke-width="0.28">CD4</text>
<line x1="46.60" y1="545.00" x2="46.60" y2="730.00" stroke="#333" stroke-width="1.30"/>
<path d="M46.60 540.2 L50.20 548.0 L46.60 546.8 L43.00 548.0 Z" fill="#111"/>
<line x1="133.10" y1="545.00" x2="133.10" y2="733.80" stroke="#333" stroke-width="1.30"/>
<path d="M133.10 540.2 L136.70 548.0 L133.10 546.8 L129.50 548.0 Z" fill="#111"/>
<text transform="translate(49.80 746.30) rotate(-90) scale(0.738 1)" font-size="9.00" text-anchor="middle" fill="#231f20" stroke="#231f20" stroke-width="0.28">CXCR5</text>
<text transform="translate(136.30 745.50) rotate(-90) scale(0.761 1)" font-size="9.00" text-anchor="middle" fill="#231f20" stroke="#231f20" stroke-width="0.28">PD-1</text>
<text transform="translate(96.00 781.40) scale(0.686 1)" font-size="9.60" text-anchor="middle" fill="#231f20" stroke="#231f20" stroke-width="0.28">PD-1</text>
<text transform="translate(188.10 783.30) scale(0.781 1)" font-size="9.60" text-anchor="middle" fill="#231f20" stroke="#231f20" stroke-width="0.28">CD8</text>
<g clip-path="url(#c13)"><g filter="url(#bl)"><path d="M79.2,588.9 71.7,588.9 70.5,588.6 70.2,578.8 70.5,568.6 74.7,568.0 79.6,568.2 80.3,567.8 81.7,565.7 82.4,565.5 83.3,566.5 83.7,568.2 83.7,572.5 84.3,578.4 84.1,582.2 83.6,584.7 82.6,586.8 81.3,588.1 79.2,588.9Z" fill="#0000ff"/><path d="M77.8,588.3 74.0,588.3 70.5,587.3 70.3,578.8 70.5,570.0 72.6,569.4 75.0,569.1 80.0,569.5 80.7,569.1 81.7,566.8 82.4,566.6 82.9,567.2 83.2,568.6 82.8,572.5 83.6,578.1 83.2,582.6 82.6,584.7 81.5,586.5 80.0,587.6 77.8,588.3Z" fill="#0028ff"/><path d="M76.5,587.5 73.3,587.2 70.5,585.9 70.3,578.8 70.5,571.6 72.2,570.7 74.7,570.1 77.8,570.3 81.0,571.6 82.0,573.9 82.8,577.4 82.7,581.6 81.6,584.7 80.7,585.9 79.6,586.6 78.2,587.2 76.5,587.5Z" fill="#006eff"/><path d="M77.5,586.5 75.8,586.7 73.7,586.3 71.9,585.6 70.5,584.3 70.5,573.4 71.9,572.1 74.0,571.2 76.8,571.1 79.2,572.0 80.8,573.5 81.9,576.3 82.2,579.8 81.5,583.0 80.0,585.2 78.9,585.9 77.5,586.5Z" fill="#00b9ff"/><path d="M76.5,585.8 74.7,585.7 73.0,585.1 71.5,584.0 70.5,582.5 70.6,575.2 71.5,573.9 72.6,572.8 74.0,572.2 75.4,571.9 77.8,572.3 79.6,573.4 80.8,575.2 81.5,578.1 81.3,581.2 80.3,583.5 78.5,585.1 76.5,585.8Z" fill="#00f5ff"/><path d="M77.2,584.7 75.0,584.9 73.0,584.0 71.4,582.2 70.7,580.1 70.7,577.7 71.5,575.2 73.0,573.7 75.0,572.8 77.2,572.9 78.9,573.8 80.0,575.2 80.8,577.4 80.9,579.8 80.1,582.2 78.9,583.8 77.2,584.7Z" fill="#00ffaa"/><path d="M76.8,583.7 75.0,583.8 73.4,583.0 72.2,581.6 71.6,579.8 71.6,577.7 72.4,575.6 73.7,574.3 75.4,573.6 77.2,573.8 78.5,574.6 79.6,576.0 80.1,577.7 80.1,579.8 79.5,581.6 78.2,583.0 76.8,583.7Z" fill="#14f03c"/><path d="M76.5,582.6 75.0,582.6 73.8,581.9 72.8,580.5 72.4,579.1 72.6,577.4 73.2,576.0 74.3,574.9 75.8,574.5 77.2,574.7 78.2,575.4 79.0,576.6 79.4,578.1 79.2,579.8 78.6,581.2 77.5,582.2 76.5,582.6Z" fill="#78f500"/><path d="M76.8,581.6 75.8,581.8 74.7,581.4 73.7,580.5 73.3,579.5 73.2,578.1 73.5,577.0 74.3,575.8 75.4,575.3 76.5,575.3 77.5,575.8 78.2,576.6 78.6,577.7 78.7,579.1 78.3,580.1 77.8,580.9 76.8,581.6Z" fill="#e6f500"/><path d="M76.8,580.9 75.8,581.1 75.0,580.9 74.3,580.3 73.9,579.5 73.7,578.4 73.9,577.4 74.7,576.3 75.4,575.9 76.5,575.9 77.2,576.2 78.1,577.7 78.0,579.5 77.5,580.4 76.8,580.9Z" fill="#ffbe00"/><path d="M76.5,580.5 75.8,580.6 75.0,580.3 74.3,579.5 74.1,578.8 74.2,577.7 74.6,577.0 75.8,576.3 76.5,576.4 77.2,576.8 77.8,578.1 77.5,579.6 76.5,580.5Z" fill="#ff6e00"/><path d="M76.5,580.0 75.4,579.9 74.9,579.5 74.6,578.8 74.9,577.4 75.8,576.8 76.8,577.1 77.3,578.1 77.2,579.1 76.5,580.0Z" fill="#ff1400"/></g></g>
<path d="M67.70 553.84H70.50M68.70 550.32H70.50M68.70 548.26H70.50M68.70 546.80H70.50M68.70 545.67H70.50M68.70 544.74H70.50M68.70 543.96H70.50M68.70 543.28H70.50M68.70 542.68H70.50M67.70 565.54H70.50M68.70 562.02H70.50M68.70 559.96H70.50M68.70 558.50H70.50M68.70 557.37H70.50M68.70 556.44H70.50M68.70 555.66H70.50M68.70 554.98H70.50M68.70 554.38H70.50M67.70 577.82H70.50M68.70 574.12H70.50M68.70 571.96H70.50M68.70 570.43H70.50M68.70 569.24H70.50M68.70 568.27H70.50M68.70 567.44H70.50M68.70 566.73H70.50M68.70 566.11H70.50M67.90 542.14H70.50M69.00 577.82H70.50M69.00 580.64H70.50M69.00 583.46H70.50M69.00 586.28H70.50M69.00 589.10H70.50M67.90 583.74H70.50M83.00 589.10V591.90M86.03 589.10V590.90M87.80 589.10V590.90M89.06 589.10V590.90M90.03 589.10V590.90M90.83 589.10V590.90M91.50 589.10V590.90M92.08 589.10V590.90M92.60 589.10V590.90M93.06 589.10V591.90M96.71 589.10V590.90M98.85 589.10V590.90M100.37 589.10V590.90M101.54 589.10V590.90M102.51 589.10V590.90M103.32 589.10V590.90M104.02 589.10V590.90M104.64 589.10V590.90M105.20 589.10V591.90M109.03 589.10V590.90M111.26 589.10V590.90M112.85 589.10V590.90M114.08 589.10V590.90M115.09 589.10V590.90M115.94 589.10V590.90M116.68 589.10V590.90M117.33 589.10V590.90M117.91 589.10V591.90M70.50 589.10V590.90M73.00 589.10V590.90M75.50 589.10V590.90M78.00 589.10V590.90M80.50 589.10V590.90M83.00 589.10V590.90" stroke="#231f20" stroke-width="0.95" fill="none"/>
<rect x="70.50" y="537.10" width="52.10" height="52.00" fill="none" stroke="#231f20" stroke-width="1.25"/>
<text transform="translate(56.49 545.24) scale(0.970 1)" font-size="6.00" fill="#2a2a2a" stroke="#2a2a2a" stroke-width="0.28">10</text>
<text transform="translate(63.06 542.54) scale(0.970 1)" font-size="3.60" fill="#2a2a2a" stroke="#2a2a2a" stroke-width="0.28">5</text>
<text transform="translate(56.49 556.94) scale(0.970 1)" font-size="6.00" fill="#2a2a2a" stroke="#2a2a2a" stroke-width="0.28">10</text>
<text transform="translate(63.06 554.24) scale(0.970 1)" font-size="3.60" fill="#2a2a2a" stroke="#2a2a2a" stroke-width="0.28">4</text>
<text transform="translate(56.49 568.64) scale(0.970 1)" font-size="6.00" fill="#2a2a2a" stroke="#2a2a2a" stroke-width="0.28">10</text>
<text transform="translate(63.06 565.94) scale(0.970 1)" font-size="3.60" fill="#2a2a2a" stroke="#2a2a2a" stroke-width="0.28">3</text>
<text transform="translate(56.49 580.92) scale(0.970 1)" font-size="6.00" fill="#2a2a2a" stroke="#2a2a2a" stroke-width="0.28">10</text>
<text transform="translate(63.06 578.22) scale(0.970 1)" font-size="3.60" fill="#2a2a2a" stroke="#2a2a2a" stroke-width="0.28">2</text>
<text transform="translate(63.50 585.64) scale(0.970 1)" font-size="6.00" text-anchor="end" fill="#2a2a2a" stroke="#2a2a2a" stroke-width="0.28">0</text>
<polygon points="76.00,554.90 86.50,548.40 93.80,551.20 98.50,558.90 98.20,567.80 92.60,570.00 86.50,570.90 83.40,570.60 79.10,568.10 75.10,565.00" fill="none" stroke="#333" stroke-width="0.85"/>
<text transform="translate(100.40 544.90) scale(0.950 1)" font-size="6.20" fill="#2a2a2a" stroke="#2a2a2a" stroke-width="0.28">1.9</text>
<g clip-path="url(#c14)"><g filter="url(#bl)"><path d="M80.7,645.2 71.8,645.2 70.5,644.4 70.2,636.4 70.3,614.7 70.5,612.4 71.5,612.0 73.7,612.0 76.8,613.0 78.9,613.3 88.3,613.6 91.1,614.7 92.2,616.1 92.3,617.9 92.0,619.2 88.7,623.5 86.9,627.3 86.6,629.4 86.9,634.7 86.5,636.8 85.9,638.9 85.0,640.6 83.6,642.7 82.0,644.3 80.7,645.2Z" fill="#0000ff"/><path d="M78.9,644.5 76.8,644.8 74.3,644.5 72.2,643.7 70.5,642.5 70.3,635.0 70.4,615.1 70.5,613.4 71.9,612.8 73.7,612.8 78.9,613.9 88.0,614.2 89.4,614.7 90.5,615.4 91.3,616.8 91.4,618.2 91.0,619.6 88.0,623.5 86.2,627.7 85.8,629.8 85.9,635.0 84.9,638.9 83.7,641.0 82.4,642.5 80.7,643.8 78.9,644.5Z" fill="#0028ff"/><path d="M78.5,643.4 76.5,643.6 74.0,643.1 71.9,642.0 70.5,640.7 70.3,633.6 70.5,625.2 72.3,622.8 72.0,622.1 70.5,620.7 70.4,615.1 70.5,614.4 72.2,613.6 73.7,613.6 77.2,614.4 79.6,614.7 83.5,615.0 86.2,614.8 87.7,614.9 89.4,615.8 90.0,616.5 90.4,617.5 90.5,618.6 90.2,619.6 87.2,623.5 85.5,627.5 85.1,629.8 85.1,635.0 84.1,638.5 83.0,640.2 81.7,641.8 80.3,642.8 78.5,643.4Z" fill="#006eff"/><path d="M78.2,642.4 76.1,642.5 73.7,641.8 71.9,640.6 70.5,638.9 70.5,627.6 71.7,625.9 73.3,624.6 75.8,623.8 79.7,623.5 81.3,622.4 81.6,621.4 81.2,620.7 80.7,620.4 74.7,620.9 73.0,620.7 71.5,620.0 70.6,618.6 70.5,616.2 71.2,615.0 72.6,614.4 74.0,614.4 77.8,615.6 82.4,616.6 85.5,615.7 87.0,615.7 88.4,616.5 89.4,618.2 89.4,619.2 88.8,620.3 86.1,622.8 85.7,623.5 84.4,629.4 84.3,635.0 83.5,637.8 82.5,639.6 81.3,640.8 80.0,641.8 78.2,642.4Z" fill="#00b9ff"/><path d="M75.4,618.9 73.7,619.2 72.4,618.6 71.8,617.2 71.9,616.5 72.2,615.8 73.0,615.5 73.7,615.5 74.4,615.8 75.4,616.5 76.0,618.2 75.4,618.9ZM85.2,621.1 84.2,621.2 83.5,620.8 83.0,620.0 83.1,619.2 83.8,618.2 84.8,617.4 85.9,617.0 86.6,617.1 87.7,618.2 87.9,619.2 87.1,620.3 85.2,621.1ZM78.5,641.3 76.8,641.5 74.7,641.1 73.0,640.1 71.5,638.7 70.5,636.7 70.5,630.1 71.9,627.5 74.0,625.7 75.8,625.1 78.9,624.8 82.4,624.0 83.3,624.9 83.8,626.6 83.7,633.6 83.4,635.7 82.8,637.5 81.7,639.2 80.3,640.5 78.5,641.3Z" fill="#00f5ff"/><path d="M78.5,640.3 77.2,640.5 75.4,640.3 74.0,639.6 72.7,638.5 71.7,637.1 71.2,635.7 70.9,634.0 71.0,632.2 71.4,630.5 72.1,629.1 74.0,627.2 76.1,626.3 80.7,625.9 81.7,626.6 82.4,628.4 82.9,632.2 82.8,634.7 82.2,636.8 81.3,638.2 80.0,639.6 78.5,640.3Z" fill="#00ffaa"/><path d="M77.8,639.3 75.8,639.2 73.7,637.9 72.4,636.1 72.0,633.6 72.4,631.2 73.7,629.2 75.4,628.0 77.8,627.5 79.6,627.9 80.7,628.8 81.6,630.8 81.9,633.2 81.7,635.4 80.9,637.1 79.6,638.5 77.8,639.3Z" fill="#14f03c"/><path d="M77.2,638.2 75.8,638.0 74.3,637.0 73.5,635.7 73.0,633.6 73.4,631.9 74.2,630.5 75.4,629.5 77.2,629.0 78.5,629.3 79.9,630.5 80.6,631.9 80.9,633.6 80.6,635.4 79.8,636.8 78.5,637.8 77.2,638.2Z" fill="#78f500"/><path d="M77.8,637.1 76.5,637.2 75.4,636.8 74.4,635.7 74.0,634.7 73.9,633.2 74.3,631.9 75.2,630.8 76.5,630.2 77.5,630.2 78.5,630.6 79.4,631.5 79.9,632.9 80.0,634.3 79.7,635.4 78.9,636.5 77.8,637.1Z" fill="#e6f500"/><path d="M77.5,636.5 76.5,636.5 75.8,636.2 74.9,635.4 74.5,634.3 74.6,632.9 75.0,631.9 75.8,631.2 76.8,630.9 77.8,631.1 78.5,631.5 79.0,632.2 79.4,633.2 79.4,634.3 79.0,635.4 78.4,636.1 77.5,636.5Z" fill="#ffbe00"/><path d="M77.2,636.1 75.8,635.6 75.3,635.0 74.9,634.0 75.4,632.3 76.1,631.6 76.8,631.4 77.5,631.5 78.2,631.9 78.7,632.6 78.9,633.6 78.8,634.7 78.4,635.4 77.2,636.1Z" fill="#ff6e00"/><path d="M77.5,635.4 76.3,635.4 75.5,634.3 75.6,632.9 76.5,632.1 77.7,632.2 78.4,633.2 78.3,634.7 77.5,635.4Z" fill="#ff1400"/></g></g>
<path d="M67.70 610.28H70.50M68.70 606.79H70.50M68.70 604.75H70.50M68.70 603.31H70.50M68.70 602.18H70.50M68.70 601.27H70.50M68.70 600.49H70.50M68.70 599.82H70.50M68.70 599.23H70.50M67.70 621.87H70.50M68.70 618.38H70.50M68.70 616.34H70.50M68.70 614.89H70.50M68.70 613.77H70.50M68.70 612.85H70.50M68.70 612.08H70.50M68.70 611.41H70.50M68.70 610.81H70.50M67.70 634.02H70.50M68.70 630.37H70.50M68.70 628.23H70.50M68.70 626.71H70.50M68.70 625.53H70.50M68.70 624.57H70.50M68.70 623.75H70.50M68.70 623.05H70.50M68.70 622.43H70.50M67.90 598.70H70.50M69.00 634.02H70.50M69.00 636.82H70.50M69.00 639.61H70.50M69.00 642.41H70.50M69.00 645.20H70.50M67.90 639.90H70.50M83.00 645.20V648.00M86.03 645.20V647.00M87.80 645.20V647.00M89.06 645.20V647.00M90.03 645.20V647.00M90.83 645.20V647.00M91.50 645.20V647.00M92.08 645.20V647.00M92.60 645.20V647.00M93.06 645.20V648.00M96.71 645.20V647.00M98.85 645.20V647.00M100.37 645.20V647.00M101.54 645.20V647.00M102.51 645.20V647.00M103.32 645.20V647.00M104.02 645.20V647.00M104.64 645.20V647.00M105.20 645.20V648.00M109.03 645.20V647.00M111.26 645.20V647.00M112.85 645.20V647.00M114.08 645.20V647.00M115.09 645.20V647.00M115.94 645.20V647.00M116.68 645.20V647.00M117.33 645.20V647.00M117.91 645.20V648.00M70.50 645.20V647.00M73.00 645.20V647.00M75.50 645.20V647.00M78.00 645.20V647.00M80.50 645.20V647.00M83.00 645.20V647.00" stroke="#231f20" stroke-width="0.95" fill="none"/>
<rect x="70.50" y="593.70" width="52.10" height="51.50" fill="none" stroke="#231f20" stroke-width="1.25"/>
<text transform="translate(56.49 601.80) scale(0.970 1)" font-size="6.00" fill="#2a2a2a" stroke="#2a2a2a" stroke-width="0.28">10</text>
<text transform="translate(63.06 599.10) scale(0.970 1)" font-size="3.60" fill="#2a2a2a" stroke="#2a2a2a" stroke-width="0.28">5</text>
<text transform="translate(56.49 613.38) scale(0.970 1)" font-size="6.00" fill="#2a2a2a" stroke="#2a2a2a" stroke-width="0.28">10</text>
<text transform="translate(63.06 610.68) scale(0.970 1)" font-size="3.60" fill="#2a2a2a" stroke="#2a2a2a" stroke-width="0.28">4</text>
<text transform="translate(56.49 624.97) scale(0.970 1)" font-size="6.00" fill="#2a2a2a" stroke="#2a2a2a" stroke-width="0.28">10</text>
<text transform="translate(63.06 622.27) scale(0.970 1)" font-size="3.60" fill="#2a2a2a" stroke="#2a2a2a" stroke-width="0.28">3</text>
<text transform="translate(56.49 637.12) scale(0.970 1)" font-size="6.00" fill="#2a2a2a" stroke="#2a2a2a" stroke-width="0.28">10</text>
<text transform="translate(63.06 634.42) scale(0.970 1)" font-size="3.60" fill="#2a2a2a" stroke="#2a2a2a" stroke-width="0.28">2</text>
<text transform="translate(63.50 641.80) scale(0.970 1)" font-size="6.00" text-anchor="end" fill="#2a2a2a" stroke="#2a2a2a" stroke-width="0.28">0</text>
<polygon points="76.00,611.50 86.50,605.00 93.80,607.80 98.50,615.50 98.20,624.40 92.60,626.60 86.50,627.50 83.40,627.20 79.10,624.70 75.10,621.60" fill="none" stroke="#333" stroke-width="0.85"/>
<text transform="translate(101.70 601.50) scale(0.950 1)" font-size="6.20" fill="#2a2a2a" stroke="#2a2a2a" stroke-width="0.28">20</text>
<g clip-path="url(#c15)"><g filter="url(#bl)"><path d="M80.3,701.5 72.5,701.5 70.5,700.4 70.2,692.7 70.3,671.7 70.5,669.2 71.5,668.7 72.6,668.5 73.7,668.7 76.5,670.1 78.5,670.6 87.0,671.1 89.1,672.0 90.1,673.5 90.2,674.9 89.9,676.2 87.3,679.9 86.2,682.9 86.1,684.6 86.8,687.8 86.9,690.2 86.7,692.4 86.1,694.8 85.1,696.9 83.7,699.0 82.0,700.5 80.3,701.5Z" fill="#0000ff"/><path d="M78.9,700.8 76.8,701.0 74.3,700.7 72.2,699.9 70.5,698.7 70.3,691.0 70.4,671.7 70.5,670.4 71.9,669.7 73.7,669.7 76.5,670.9 78.5,671.3 86.6,671.8 88.4,672.8 89.2,674.1 89.4,675.2 89.1,676.2 86.6,679.9 85.5,682.9 85.3,685.0 85.9,688.5 86.0,690.6 85.7,692.7 85.1,694.8 84.0,696.9 82.4,698.8 80.7,700.1 78.9,700.8Z" fill="#0028ff"/><path d="M78.5,699.7 76.5,699.9 74.0,699.4 72.2,698.5 70.5,697.0 70.3,689.9 70.5,681.7 72.0,679.8 72.3,679.0 70.5,676.7 70.5,671.7 71.2,671.1 72.2,670.6 73.7,670.7 77.5,672.0 81.3,672.6 85.9,672.4 87.3,673.2 88.3,674.9 88.4,675.9 88.1,676.6 85.7,679.8 84.8,682.9 84.6,685.4 85.2,690.2 84.9,692.4 84.4,694.1 83.4,696.2 82.0,697.8 80.3,699.1 78.5,699.7Z" fill="#006eff"/><path d="M78.5,698.7 76.5,698.8 74.0,698.2 71.9,696.9 70.5,695.2 70.4,686.8 70.5,684.1 70.8,683.6 71.9,682.2 73.3,681.1 75.4,680.3 79.3,679.8 80.5,679.0 81.0,678.0 80.7,676.9 80.0,676.4 77.5,677.1 75.4,677.3 73.7,677.2 72.2,676.5 71.3,675.2 71.0,673.5 71.5,672.2 72.6,671.6 74.0,671.7 75.6,672.4 80.3,675.4 81.0,675.4 83.7,673.8 84.8,673.5 85.9,673.8 87.1,675.5 87.1,676.2 86.7,677.0 84.4,678.7 83.9,679.4 84.1,681.5 83.9,685.4 84.4,690.2 83.7,693.8 82.8,695.5 81.7,696.9 80.3,698.0 78.5,698.7Z" fill="#00b9ff"/><path d="M84.2,676.4 83.8,676.5 83.6,676.2 84.2,675.8 84.3,676.2 84.2,676.4ZM78.5,697.7 76.8,697.9 74.7,697.5 73.0,696.5 71.5,695.1 70.5,693.1 70.5,686.6 71.9,683.9 74.0,682.2 75.8,681.6 81.3,680.6 82.3,681.5 82.9,682.9 83.6,689.2 83.5,691.6 82.9,693.8 81.7,695.6 80.3,696.9 78.5,697.7Z" fill="#00f5ff"/><path d="M78.5,696.7 77.2,696.9 75.8,696.7 74.3,696.2 73.0,695.2 72.1,694.1 71.3,692.7 70.9,691.0 70.9,689.2 71.2,687.5 71.8,686.0 73.5,684.0 75.8,682.9 79.6,682.3 80.7,682.6 81.8,684.3 82.7,688.1 82.8,690.6 82.4,692.7 81.5,694.5 80.3,695.7 78.5,696.7Z" fill="#00ffaa"/><path d="M78.2,695.6 76.1,695.7 74.0,694.6 72.5,692.7 72.0,690.6 72.2,688.1 73.2,686.0 75.0,684.6 77.2,684.0 78.9,684.1 80.3,685.1 81.3,686.8 81.8,689.2 81.7,691.3 81.1,693.0 80.0,694.6 78.2,695.6Z" fill="#14f03c"/><path d="M77.5,694.5 76.1,694.4 74.7,693.8 73.5,692.4 73.0,690.6 73.1,688.9 73.9,687.1 75.4,685.8 76.8,685.4 78.2,685.6 79.4,686.4 80.3,687.8 80.8,689.5 80.6,691.3 80.1,692.7 78.9,693.9 77.5,694.5Z" fill="#78f500"/><path d="M77.8,693.4 76.5,693.6 75.4,693.2 74.5,692.4 73.9,691.0 73.8,689.5 74.3,688.1 75.2,687.1 76.5,686.5 77.5,686.5 78.5,687.0 79.5,688.1 79.9,689.2 79.9,690.6 79.6,691.6 78.9,692.7 77.8,693.4Z" fill="#e6f500"/><path d="M77.5,692.8 76.5,692.9 75.4,692.4 74.8,691.6 74.4,690.6 74.4,689.5 74.8,688.5 75.4,687.8 76.5,687.3 77.5,687.3 78.2,687.7 78.9,688.5 79.3,689.5 79.3,690.6 78.9,691.6 78.2,692.5 77.5,692.8Z" fill="#ffbe00"/><path d="M77.2,692.4 75.7,692.0 75.2,691.3 74.9,690.2 75.0,689.2 75.4,688.5 76.1,687.9 76.8,687.8 77.5,687.9 78.2,688.4 78.8,689.9 78.7,691.0 78.3,691.6 77.2,692.4Z" fill="#ff6e00"/><path d="M77.5,691.7 76.8,691.8 76.1,691.6 75.4,690.6 75.5,689.2 76.5,688.4 77.5,688.5 78.3,689.5 78.2,690.9 77.5,691.7Z" fill="#ff1400"/></g></g>
<path d="M67.70 666.58H70.50M68.70 663.09H70.50M68.70 661.05H70.50M68.70 659.61H70.50M68.70 658.48H70.50M68.70 657.57H70.50M68.70 656.79H70.50M68.70 656.12H70.50M68.70 655.53H70.50M67.70 678.17H70.50M68.70 674.68H70.50M68.70 672.64H70.50M68.70 671.19H70.50M68.70 670.07H70.50M68.70 669.15H70.50M68.70 668.38H70.50M68.70 667.71H70.50M68.70 667.11H70.50M67.70 690.32H70.50M68.70 686.67H70.50M68.70 684.53H70.50M68.70 683.01H70.50M68.70 681.83H70.50M68.70 680.87H70.50M68.70 680.05H70.50M68.70 679.35H70.50M68.70 678.73H70.50M67.90 655.00H70.50M69.00 690.32H70.50M69.00 693.12H70.50M69.00 695.91H70.50M69.00 698.71H70.50M69.00 701.50H70.50M67.90 696.20H70.50M83.00 701.50V704.30M86.03 701.50V703.30M87.80 701.50V703.30M89.06 701.50V703.30M90.03 701.50V703.30M90.83 701.50V703.30M91.50 701.50V703.30M92.08 701.50V703.30M92.60 701.50V703.30M93.06 701.50V704.30M96.71 701.50V703.30M98.85 701.50V703.30M100.37 701.50V703.30M101.54 701.50V703.30M102.51 701.50V703.30M103.32 701.50V703.30M104.02 701.50V703.30M104.64 701.50V703.30M105.20 701.50V704.30M109.03 701.50V703.30M111.26 701.50V703.30M112.85 701.50V703.30M114.08 701.50V703.30M115.09 701.50V703.30M115.94 701.50V703.30M116.68 701.50V703.30M117.33 701.50V703.30M117.91 701.50V704.30M70.50 701.50V703.30M73.00 701.50V703.30M75.50 701.50V703.30M78.00 701.50V703.30M80.50 701.50V703.30M83.00 701.50V703.30" stroke="#231f20" stroke-width="0.95" fill="none"/>
<rect x="70.50" y="650.00" width="52.10" height="51.50" fill="none" stroke="#231f20" stroke-width="1.25"/>
<text transform="translate(56.49 658.10) scale(0.970 1)" font-size="6.00" fill="#2a2a2a" stroke="#2a2a2a" stroke-width="0.28">10</text>
<text transform="translate(63.06 655.40) scale(0.970 1)" font-size="3.60" fill="#2a2a2a" stroke="#2a2a2a" stroke-width="0.28">5</text>
<text transform="translate(56.49 669.68) scale(0.970 1)" font-size="6.00" fill="#2a2a2a" stroke="#2a2a2a" stroke-width="0.28">10</text>
<text transform="translate(63.06 666.98) scale(0.970 1)" font-size="3.60" fill="#2a2a2a" stroke="#2a2a2a" stroke-width="0.28">4</text>
<text transform="translate(56.49 681.27) scale(0.970 1)" font-size="6.00" fill="#2a2a2a" stroke="#2a2a2a" stroke-width="0.28">10</text>
<text transform="translate(63.06 678.57) scale(0.970 1)" font-size="3.60" fill="#2a2a2a" stroke="#2a2a2a" stroke-width="0.28">3</text>
<text transform="translate(56.49 693.42) scale(0.970 1)" font-size="6.00" fill="#2a2a2a" stroke="#2a2a2a" stroke-width="0.28">10</text>
<text transform="translate(63.06 690.72) scale(0.970 1)" font-size="3.60" fill="#2a2a2a" stroke="#2a2a2a" stroke-width="0.28">2</text>
<text transform="translate(63.50 698.10) scale(0.970 1)" font-size="6.00" text-anchor="end" fill="#2a2a2a" stroke="#2a2a2a" stroke-width="0.28">0</text>
<polygon points="76.00,667.80 86.50,661.30 93.80,664.10 98.50,671.80 98.20,680.70 92.60,682.90 86.50,683.80 83.40,683.50 79.10,681.00 75.10,677.90" fill="none" stroke="#333" stroke-width="0.85"/>
<text transform="translate(100.40 657.80) scale(0.950 1)" font-size="6.20" fill="#2a2a2a" stroke="#2a2a2a" stroke-width="0.28">9.1</text>
<g clip-path="url(#c16)"><g filter="url(#bl)"><path d="M80.7,757.2 71.5,757.2 70.5,756.6 70.2,749.1 70.3,728.5 70.5,725.9 71.2,725.6 73.3,725.4 78.5,726.2 88.3,726.6 91.2,727.7 92.2,729.2 92.3,730.9 92.0,732.3 88.7,736.5 86.8,740.7 86.4,742.5 86.5,747.7 85.5,751.6 83.3,755.1 82.0,756.3 80.7,757.2Z" fill="#0000ff"/><path d="M78.2,756.9 76.1,757.0 74.0,756.7 72.2,756.0 70.5,754.9 70.3,746.0 70.5,726.8 71.9,726.2 73.3,726.1 78.2,726.9 83.8,727.2 87.3,727.1 88.7,727.4 90.1,728.1 91.1,729.2 91.4,730.2 91.4,731.6 90.6,733.4 87.8,736.9 86.2,740.4 85.7,742.8 85.6,747.4 85.0,750.2 83.9,752.6 82.2,754.7 80.3,756.1 78.2,756.9Z" fill="#0028ff"/><path d="M77.8,755.8 75.8,755.8 73.7,755.4 71.9,754.5 70.5,753.4 70.4,740.7 70.5,737.1 71.0,735.8 70.5,734.6 70.5,727.7 71.9,727.0 73.3,726.8 82.8,728.0 86.6,727.8 88.0,728.0 89.0,728.5 90.0,729.5 90.5,730.6 90.4,732.0 89.8,733.4 87.1,736.5 85.7,740.0 85.0,742.5 84.8,747.4 84.1,750.2 83.0,752.2 81.6,754.0 80.0,755.1 77.8,755.8Z" fill="#006eff"/><path d="M77.8,754.8 75.8,754.8 73.7,754.3 71.9,753.2 70.5,751.7 70.5,739.5 71.9,737.8 74.0,736.2 75.8,735.8 79.6,736.2 81.0,735.5 81.4,734.4 81.0,733.8 80.3,733.6 75.0,734.8 73.7,734.7 72.2,734.2 71.2,733.5 70.5,732.6 70.5,729.2 71.5,728.0 73.3,727.6 82.4,729.5 85.9,728.6 87.3,728.8 88.0,729.2 89.0,730.2 89.4,731.2 89.5,732.0 88.8,733.4 86.4,735.5 85.7,736.5 84.4,742.1 84.0,747.0 83.5,749.5 82.5,751.6 81.3,753.0 79.6,754.2 77.8,754.8Z" fill="#00b9ff"/><path d="M74.7,733.0 73.0,732.9 72.2,732.6 71.7,732.0 71.5,730.2 72.2,729.0 73.3,728.7 74.7,729.0 75.6,729.5 76.7,730.9 77.1,731.6 77.0,732.0 76.0,732.7 74.7,733.0ZM85.2,734.1 84.2,734.3 83.5,734.0 83.0,733.4 83.0,732.3 83.7,731.2 84.8,730.4 85.9,730.0 86.6,730.1 87.7,731.2 87.9,732.3 87.1,733.4 85.2,734.1ZM78.2,753.7 76.5,753.9 74.3,753.5 72.6,752.6 71.0,750.9 70.5,750.0 70.5,741.7 71.9,739.5 74.0,738.0 75.8,737.5 78.9,737.5 82.4,736.7 83.2,737.6 83.7,739.3 83.3,746.3 83.0,748.4 82.4,750.2 81.2,751.9 79.6,753.1 78.2,753.7Z" fill="#00f5ff"/><path d="M78.2,752.7 76.8,752.9 75.0,752.7 73.7,752.1 72.2,750.9 71.3,749.5 70.8,748.1 70.5,746.3 70.6,744.6 71.1,742.8 71.8,741.4 73.0,740.1 74.0,739.4 76.1,738.7 80.7,738.6 81.7,739.3 82.3,741.1 82.6,744.6 82.4,747.4 81.9,749.1 80.9,750.9 79.6,752.0 78.2,752.7Z" fill="#00ffaa"/><path d="M77.8,751.7 75.8,751.8 74.0,751.1 72.4,749.5 71.6,747.4 71.6,744.9 72.4,742.8 74.0,741.0 76.1,740.2 78.5,740.3 80.0,740.9 80.8,742.1 81.4,744.2 81.4,747.0 80.8,749.1 79.6,750.6 77.8,751.7Z" fill="#14f03c"/><path d="M77.5,750.6 75.8,750.7 74.3,750.0 73.2,748.8 72.6,747.0 72.6,745.2 73.3,743.5 74.7,742.2 76.1,741.7 77.5,741.7 78.9,742.4 79.8,743.5 80.3,745.2 80.3,747.0 79.9,748.4 78.9,749.7 77.5,750.6Z" fill="#78f500"/><path d="M76.5,749.8 75.4,749.6 74.2,748.8 73.6,747.7 73.3,746.3 73.6,744.9 74.2,743.9 75.0,743.1 76.5,742.7 77.5,742.9 78.5,743.6 79.3,744.9 79.5,746.3 79.2,747.7 78.6,748.8 77.5,749.6 76.5,749.8Z" fill="#e6f500"/><path d="M76.8,749.1 75.8,749.1 75.0,748.7 74.2,747.7 73.9,746.7 74.0,745.6 74.5,744.6 75.2,743.9 76.1,743.5 77.2,743.6 77.8,744.0 78.5,744.9 78.8,746.0 78.8,747.0 78.3,748.1 77.6,748.8 76.8,749.1Z" fill="#ffbe00"/><path d="M77.2,748.4 76.5,748.6 75.5,748.4 74.8,747.7 74.5,747.0 74.6,745.2 75.8,744.1 77.2,744.2 77.8,744.8 78.3,745.6 78.2,747.4 77.2,748.4Z" fill="#ff6e00"/><path d="M76.5,748.1 75.4,747.7 74.8,746.3 75.4,745.0 76.5,744.6 77.5,745.2 77.9,746.3 77.5,747.5 76.5,748.1Z" fill="#ff1400"/></g></g>
<path d="M67.70 722.35H70.50M68.70 718.85H70.50M68.70 716.80H70.50M68.70 715.34H70.50M68.70 714.22H70.50M68.70 713.30H70.50M68.70 712.52H70.50M68.70 711.84H70.50M68.70 711.25H70.50M67.70 733.98H70.50M68.70 730.48H70.50M68.70 728.43H70.50M68.70 726.98H70.50M68.70 725.85H70.50M68.70 724.93H70.50M68.70 724.15H70.50M68.70 723.47H70.50M68.70 722.88H70.50M67.70 746.18H70.50M68.70 742.51H70.50M68.70 740.36H70.50M68.70 738.84H70.50M68.70 737.65H70.50M68.70 736.69H70.50M68.70 735.87H70.50M68.70 735.16H70.50M68.70 734.54H70.50M67.90 710.71H70.50M69.00 746.18H70.50M69.00 748.99H70.50M69.00 751.79H70.50M69.00 754.60H70.50M69.00 757.40H70.50M67.90 752.07H70.50M83.00 757.40V760.20M86.03 757.40V759.20M87.80 757.40V759.20M89.06 757.40V759.20M90.03 757.40V759.20M90.83 757.40V759.20M91.50 757.40V759.20M92.08 757.40V759.20M92.60 757.40V759.20M93.06 757.40V760.20M96.71 757.40V759.20M98.85 757.40V759.20M100.37 757.40V759.20M101.54 757.40V759.20M102.51 757.40V759.20M103.32 757.40V759.20M104.02 757.40V759.20M104.64 757.40V759.20M105.20 757.40V760.20M109.03 757.40V759.20M111.26 757.40V759.20M112.85 757.40V759.20M114.08 757.40V759.20M115.09 757.40V759.20M115.94 757.40V759.20M116.68 757.40V759.20M117.33 757.40V759.20M117.91 757.40V760.20M70.50 757.40V759.20M73.00 757.40V759.20M75.50 757.40V759.20M78.00 757.40V759.20M80.50 757.40V759.20M83.00 757.40V759.20" stroke="#231f20" stroke-width="0.95" fill="none"/>
<rect x="70.50" y="705.70" width="52.10" height="51.70" fill="none" stroke="#231f20" stroke-width="1.25"/>
<text transform="translate(56.49 713.81) scale(0.970 1)" font-size="6.00" fill="#2a2a2a" stroke="#2a2a2a" stroke-width="0.28">10</text>
<text transform="translate(63.06 711.11) scale(0.970 1)" font-size="3.60" fill="#2a2a2a" stroke="#2a2a2a" stroke-width="0.28">5</text>
<text transform="translate(56.49 725.45) scale(0.970 1)" font-size="6.00" fill="#2a2a2a" stroke="#2a2a2a" stroke-width="0.28">10</text>
<text transform="translate(63.06 722.75) scale(0.970 1)" font-size="3.60" fill="#2a2a2a" stroke="#2a2a2a" stroke-width="0.28">4</text>
<text transform="translate(56.49 737.08) scale(0.970 1)" font-size="6.00" fill="#2a2a2a" stroke="#2a2a2a" stroke-width="0.28">10</text>
<text transform="translate(63.06 734.38) scale(0.970 1)" font-size="3.60" fill="#2a2a2a" stroke="#2a2a2a" stroke-width="0.28">3</text>
<text transform="translate(56.49 749.28) scale(0.970 1)" font-size="6.00" fill="#2a2a2a" stroke="#2a2a2a" stroke-width="0.28">10</text>
<text transform="translate(63.06 746.58) scale(0.970 1)" font-size="3.60" fill="#2a2a2a" stroke="#2a2a2a" stroke-width="0.28">2</text>
<text transform="translate(63.50 753.97) scale(0.970 1)" font-size="6.00" text-anchor="end" fill="#2a2a2a" stroke="#2a2a2a" stroke-width="0.28">0</text>
<text transform="translate(75.71 770.80) scale(0.850 1)" font-size="5.40" text-anchor="middle" fill="#3a3a3a" stroke="#3a3a3a" stroke-width="0.28">0</text>
<text transform="translate(79.72 770.80) scale(0.970 1)" font-size="5.40" fill="#2a2a2a" stroke="#2a2a2a" stroke-width="0.28">10</text>
<text transform="translate(85.64 768.37) scale(0.970 1)" font-size="3.24" fill="#2a2a2a" stroke="#2a2a2a" stroke-width="0.28">2</text>
<text transform="translate(89.77 770.80) scale(0.970 1)" font-size="5.40" fill="#2a2a2a" stroke="#2a2a2a" stroke-width="0.28">10</text>
<text transform="translate(95.70 768.37) scale(0.970 1)" font-size="3.24" fill="#2a2a2a" stroke="#2a2a2a" stroke-width="0.28">3</text>
<text transform="translate(101.91 770.80) scale(0.970 1)" font-size="5.40" fill="#2a2a2a" stroke="#2a2a2a" stroke-width="0.28">10</text>
<text transform="translate(107.84 768.37) scale(0.970 1)" font-size="3.24" fill="#2a2a2a" stroke="#2a2a2a" stroke-width="0.28">4</text>
<text transform="translate(114.62 770.80) scale(0.970 1)" font-size="5.40" fill="#2a2a2a" stroke="#2a2a2a" stroke-width="0.28">10</text>
<text transform="translate(120.55 768.37) scale(0.970 1)" font-size="3.24" fill="#2a2a2a" stroke="#2a2a2a" stroke-width="0.28">5</text>
<polygon points="76.00,723.50 86.50,717.00 93.80,719.80 98.50,727.50 98.20,736.40 92.60,738.60 86.50,739.50 83.40,739.20 79.10,736.70 75.10,733.60" fill="none" stroke="#333" stroke-width="0.85"/>
<text transform="translate(100.40 713.50) scale(0.950 1)" font-size="6.20" fill="#2a2a2a" stroke="#2a2a2a" stroke-width="0.28">15</text>
<g clip-path="url(#c17)"><g filter="url(#bl)"><path d="M194.5,586.8 192.4,586.9 190.3,586.6 188.2,585.9 187.0,585.1 186.2,584.0 185.7,582.2 185.3,577.4 185.8,573.5 186.3,572.5 187.1,571.4 189.6,570.1 193.5,569.4 194.2,569.0 194.4,568.2 194.4,564.4 194.9,563.1 195.2,562.8 195.7,563.4 196.0,564.8 195.9,569.3 198.0,571.6 198.9,573.1 199.8,576.0 200.0,578.4 199.5,581.2 198.2,584.4 196.6,586.1 194.5,586.8Z" fill="#0000ff"/><path d="M195.2,566.9 194.9,565.8 195.2,564.5 195.5,565.8 195.2,566.9ZM194.2,586.2 192.4,586.2 190.3,585.9 188.6,585.2 187.5,584.4 186.8,583.3 186.3,581.9 185.9,577.4 186.4,573.9 187.0,572.8 187.9,571.8 190.7,570.5 194.9,569.9 195.6,570.2 197.0,571.4 198.3,573.1 199.2,576.0 199.4,578.4 198.9,581.2 197.7,584.0 196.2,585.4 194.2,586.2Z" fill="#0028ff"/><path d="M194.2,585.5 191.4,585.4 188.7,584.4 187.9,583.5 187.3,582.6 186.6,580.1 186.5,576.3 187.4,573.5 188.2,572.5 189.2,571.8 192.1,570.8 194.9,570.9 196.6,572.0 198.0,573.9 198.8,576.6 198.7,579.5 197.8,582.6 196.2,584.6 194.2,585.5Z" fill="#006eff"/><path d="M194.2,584.8 191.7,584.8 189.2,583.7 188.0,582.2 187.2,579.8 187.2,576.3 188.0,573.9 189.6,572.4 192.1,571.5 194.5,571.5 195.9,572.1 197.4,573.9 198.2,576.3 198.3,579.1 197.5,581.9 196.2,583.7 195.2,584.4 194.2,584.8Z" fill="#00b9ff"/><path d="M194.2,584.1 192.1,584.1 190.0,583.3 188.6,581.8 187.8,579.5 187.8,576.6 188.6,574.4 190.2,572.8 192.4,572.0 194.5,572.1 195.9,572.8 197.2,574.6 197.9,576.6 197.9,579.1 197.1,581.6 195.9,583.2 194.2,584.1Z" fill="#00f5ff"/><path d="M194.2,583.4 192.1,583.4 190.3,582.5 189.2,581.2 188.5,579.1 188.5,576.6 189.4,574.6 191.0,573.1 192.8,572.6 194.5,572.7 195.9,573.6 196.9,574.9 197.5,577.0 197.5,579.1 196.8,581.2 195.6,582.7 194.2,583.4Z" fill="#00ffaa"/><path d="M193.8,582.6 192.1,582.4 190.7,581.6 189.7,580.1 189.3,578.4 189.4,576.6 190.2,574.9 191.7,573.7 193.1,573.3 194.5,573.5 195.7,574.2 196.6,575.6 197.1,577.4 196.9,579.5 196.3,580.9 195.2,582.0 193.8,582.6Z" fill="#14f03c"/><path d="M194.2,581.6 192.8,581.6 191.7,581.1 190.8,580.1 190.3,578.4 190.3,577.0 190.9,575.6 191.9,574.6 193.1,574.1 194.5,574.3 195.4,574.9 196.1,576.0 196.5,577.4 196.4,578.8 195.9,580.1 195.2,581.0 194.2,581.6Z" fill="#78f500"/><path d="M193.8,580.9 192.8,580.8 191.8,580.1 191.2,579.1 191.0,578.1 191.2,576.6 191.7,575.7 192.4,575.1 193.5,574.8 194.5,575.0 195.2,575.6 195.8,576.6 196.0,577.7 195.9,578.8 195.4,579.8 194.8,580.5 193.8,580.9Z" fill="#e6f500"/><path d="M194.2,580.2 193.1,580.3 192.4,579.9 191.6,578.4 191.8,576.6 192.4,575.8 193.1,575.4 193.8,575.4 194.5,575.7 195.1,576.3 195.5,577.4 195.3,579.1 194.2,580.2Z" fill="#ffbe00"/><path d="M193.8,579.9 193.1,579.8 192.6,579.5 191.9,578.1 192.2,576.6 192.8,576.1 193.5,575.8 194.6,576.3 195.2,577.7 194.9,579.1 193.8,579.9Z" fill="#ff6e00"/><path d="M194.2,579.2 193.1,579.3 192.4,578.4 192.5,577.0 193.5,576.3 194.2,576.4 194.8,577.4 194.8,578.4 194.2,579.2Z" fill="#ff1400"/></g></g>
<path d="M159.50 553.84H162.30M160.50 550.32H162.30M160.50 548.26H162.30M160.50 546.80H162.30M160.50 545.67H162.30M160.50 544.74H162.30M160.50 543.96H162.30M160.50 543.28H162.30M160.50 542.68H162.30M159.50 565.54H162.30M160.50 562.02H162.30M160.50 559.96H162.30M160.50 558.50H162.30M160.50 557.37H162.30M160.50 556.44H162.30M160.50 555.66H162.30M160.50 554.98H162.30M160.50 554.38H162.30M159.50 577.82H162.30M160.50 574.12H162.30M160.50 571.96H162.30M160.50 570.43H162.30M160.50 569.24H162.30M160.50 568.27H162.30M160.50 567.44H162.30M160.50 566.73H162.30M160.50 566.11H162.30M159.70 542.14H162.30M160.80 577.82H162.30M160.80 580.64H162.30M160.80 583.46H162.30M160.80 586.28H162.30M160.80 589.10H162.30M159.70 583.74H162.30M174.85 589.10V591.90M177.89 589.10V590.90M179.67 589.10V590.90M180.93 589.10V590.90M181.91 589.10V590.90M182.71 589.10V590.90M183.38 589.10V590.90M183.97 589.10V590.90M184.48 589.10V590.90M184.95 589.10V591.90M188.61 589.10V590.90M190.76 589.10V590.90M192.28 589.10V590.90M193.46 589.10V590.90M194.43 589.10V590.90M195.24 589.10V590.90M195.95 589.10V590.90M196.57 589.10V590.90M197.13 589.10V591.90M200.97 589.10V590.90M203.22 589.10V590.90M204.81 589.10V590.90M206.05 589.10V590.90M207.06 589.10V590.90M207.92 589.10V590.90M208.66 589.10V590.90M209.31 589.10V590.90M209.89 589.10V591.90M162.30 589.10V590.90M164.81 589.10V590.90M167.32 589.10V590.90M169.83 589.10V590.90M172.34 589.10V590.90M174.85 589.10V590.90" stroke="#231f20" stroke-width="0.95" fill="none"/>
<rect x="162.30" y="537.10" width="52.30" height="52.00" fill="none" stroke="#231f20" stroke-width="1.25"/>
<text transform="translate(148.29 545.24) scale(0.970 1)" font-size="6.00" fill="#2a2a2a" stroke="#2a2a2a" stroke-width="0.28">10</text>
<text transform="translate(154.86 542.54) scale(0.970 1)" font-size="3.60" fill="#2a2a2a" stroke="#2a2a2a" stroke-width="0.28">5</text>
<text transform="translate(148.29 556.94) scale(0.970 1)" font-size="6.00" fill="#2a2a2a" stroke="#2a2a2a" stroke-width="0.28">10</text>
<text transform="translate(154.86 554.24) scale(0.970 1)" font-size="3.60" fill="#2a2a2a" stroke="#2a2a2a" stroke-width="0.28">4</text>
<text transform="translate(148.29 568.64) scale(0.970 1)" font-size="6.00" fill="#2a2a2a" stroke="#2a2a2a" stroke-width="0.28">10</text>
<text transform="translate(154.86 565.94) scale(0.970 1)" font-size="3.60" fill="#2a2a2a" stroke="#2a2a2a" stroke-width="0.28">3</text>
<text transform="translate(148.29 580.92) scale(0.970 1)" font-size="6.00" fill="#2a2a2a" stroke="#2a2a2a" stroke-width="0.28">10</text>
<text transform="translate(154.86 578.22) scale(0.970 1)" font-size="3.60" fill="#2a2a2a" stroke="#2a2a2a" stroke-width="0.28">2</text>
<text transform="translate(155.30 585.64) scale(0.970 1)" font-size="6.00" text-anchor="end" fill="#2a2a2a" stroke="#2a2a2a" stroke-width="0.28">0</text>
<rect x="183.50" y="539.20" width="22.10" height="28.90" fill="none" stroke="#555" stroke-width="0.90"/>
<text transform="translate(165.80 544.90) scale(0.950 1)" font-size="6.20" fill="#2a2a2a" stroke="#2a2a2a" stroke-width="0.28">1.4</text>
<g clip-path="url(#c18)"><g filter="url(#bl)"><path d="M193.1,643.8 190.3,643.7 187.9,642.9 186.2,641.3 185.1,638.9 184.4,634.3 184.6,629.8 185.6,625.9 186.3,624.5 187.8,622.4 188.1,621.4 187.8,620.3 185.8,618.4 185.4,616.5 185.9,614.7 186.7,613.0 188.2,610.9 189.9,609.1 191.7,607.6 193.8,606.5 195.6,605.9 197.0,605.9 198.0,606.2 198.7,607.0 199.0,608.4 198.8,609.8 198.1,611.6 197.0,613.3 193.5,617.5 193.1,618.6 192.9,620.0 193.6,621.7 196.6,623.6 198.1,625.9 199.3,630.1 199.4,634.7 198.6,638.9 197.3,641.6 195.6,643.1 193.1,643.8Z" fill="#0000ff"/><path d="M193.8,642.8 191.7,643.0 189.6,642.6 188.2,642.0 186.9,641.0 186.0,639.2 185.4,637.1 185.0,634.3 185.0,631.9 185.3,629.1 186.1,626.6 186.8,625.2 188.6,623.1 189.1,621.7 188.8,620.0 187.1,618.2 186.4,617.2 186.4,615.8 186.9,614.0 188.6,611.2 191.0,608.9 193.8,607.2 195.9,606.7 197.0,607.0 197.8,607.7 198.0,608.8 197.9,610.2 196.5,613.0 192.8,617.5 192.3,618.9 192.3,620.7 193.0,622.4 196.2,624.5 197.5,626.2 198.6,629.8 198.9,634.0 198.3,637.5 197.2,640.2 195.9,641.8 193.8,642.8Z" fill="#0028ff"/><path d="M193.1,642.1 191.4,642.1 189.6,641.7 188.2,641.0 187.2,639.9 186.4,638.5 185.8,636.4 185.5,631.9 186.0,629.1 186.7,627.0 187.5,625.6 189.7,623.1 190.4,621.4 189.8,619.6 187.4,616.8 187.2,615.4 187.6,614.0 189.1,611.6 191.0,609.6 193.5,608.1 195.6,607.7 196.6,608.1 197.0,608.8 197.1,609.8 196.9,610.9 195.6,613.3 192.1,617.5 191.3,619.6 191.1,621.0 191.5,622.1 192.4,623.1 195.6,624.9 196.9,626.6 197.6,628.4 198.1,630.5 198.3,634.3 197.7,637.5 196.6,639.9 195.2,641.3 193.1,642.1Z" fill="#006eff"/><path d="M190.3,617.9 188.9,617.2 188.2,616.1 188.1,614.7 188.8,613.0 190.1,611.2 192.1,609.6 194.2,608.6 195.6,608.8 196.1,609.5 196.2,610.2 195.5,612.2 194.6,613.7 191.4,617.2 190.3,617.9ZM192.4,641.3 190.0,641.0 188.9,640.5 187.9,639.6 186.7,637.5 186.1,634.3 186.2,630.8 187.1,627.7 188.6,625.7 190.0,624.4 191.0,624.0 194.2,625.1 195.9,626.4 197.1,628.7 197.8,631.9 197.5,635.7 196.4,638.9 194.9,640.6 193.8,641.0 192.4,641.3Z" fill="#00b9ff"/><path d="M190.3,616.5 189.4,616.1 189.0,615.1 189.1,614.0 189.8,612.6 191.0,611.2 192.4,610.1 193.8,609.6 194.8,609.8 195.2,610.5 195.1,611.2 194.3,613.0 191.7,615.7 190.3,616.5ZM193.5,640.3 191.0,640.4 188.9,639.4 187.5,637.6 186.7,635.0 186.6,631.9 187.4,628.7 188.9,626.5 190.0,625.7 191.0,625.2 192.1,625.2 193.5,625.6 195.2,626.7 196.5,628.7 197.2,631.2 197.2,634.3 196.6,637.1 195.3,639.2 193.5,640.3Z" fill="#00f5ff"/><path d="M191.4,614.5 190.7,614.6 190.4,614.0 191.0,612.6 192.4,611.4 193.5,611.3 193.6,611.9 193.1,613.0 191.4,614.5ZM192.8,639.6 190.7,639.5 189.1,638.5 187.9,636.8 187.2,634.3 187.3,631.5 188.0,629.1 189.6,627.0 191.4,626.3 193.5,626.6 195.0,627.7 196.1,629.4 196.7,631.9 196.6,634.7 195.9,637.1 194.5,638.8 192.8,639.6Z" fill="#00ffaa"/><path d="M193.1,638.5 191.4,638.6 190.0,638.0 188.7,636.4 188.0,634.3 188.0,631.9 188.6,629.8 190.0,628.1 191.4,627.4 193.1,627.5 194.5,628.5 195.4,629.8 196.0,631.9 196.1,634.0 195.5,636.1 194.5,637.6 193.1,638.5Z" fill="#14f03c"/><path d="M192.8,637.5 191.4,637.5 190.3,636.9 189.3,635.7 188.8,634.0 188.8,632.2 189.3,630.5 190.3,629.2 191.7,628.5 193.1,628.7 194.0,629.4 195.0,630.8 195.3,632.2 195.3,634.0 194.8,635.7 193.8,636.9 192.8,637.5Z" fill="#78f500"/><path d="M193.1,636.4 192.1,636.7 191.0,636.4 190.0,635.4 189.5,634.0 189.4,632.6 189.8,631.2 190.7,630.0 191.7,629.5 192.8,629.6 193.6,630.1 194.3,631.2 194.7,632.2 194.5,634.7 193.9,635.7 193.1,636.4Z" fill="#e6f500"/><path d="M192.8,635.9 191.7,636.0 191.0,635.6 190.5,635.0 190.0,634.0 190.0,632.6 190.3,631.5 191.0,630.5 191.7,630.2 192.4,630.2 193.1,630.5 193.7,631.2 194.1,632.2 194.0,634.3 193.5,635.3 192.8,635.9Z" fill="#ffbe00"/><path d="M192.4,635.4 191.7,635.4 191.0,635.0 190.3,633.2 190.8,631.5 191.4,630.9 192.1,630.7 193.1,631.2 193.6,631.9 193.8,632.9 193.5,634.6 192.4,635.4Z" fill="#ff6e00"/><path d="M192.8,634.7 191.7,634.8 190.9,634.0 190.8,632.6 191.1,631.9 191.7,631.3 192.8,631.5 193.4,632.6 193.4,633.6 192.8,634.7Z" fill="#ff1400"/></g></g>
<path d="M159.50 610.28H162.30M160.50 606.79H162.30M160.50 604.75H162.30M160.50 603.31H162.30M160.50 602.18H162.30M160.50 601.27H162.30M160.50 600.49H162.30M160.50 599.82H162.30M160.50 599.23H162.30M159.50 621.87H162.30M160.50 618.38H162.30M160.50 616.34H162.30M160.50 614.89H162.30M160.50 613.77H162.30M160.50 612.85H162.30M160.50 612.08H162.30M160.50 611.41H162.30M160.50 610.81H162.30M159.50 634.02H162.30M160.50 630.37H162.30M160.50 628.23H162.30M160.50 626.71H162.30M160.50 625.53H162.30M160.50 624.57H162.30M160.50 623.75H162.30M160.50 623.05H162.30M160.50 622.43H162.30M159.70 598.70H162.30M160.80 634.02H162.30M160.80 636.82H162.30M160.80 639.61H162.30M160.80 642.41H162.30M160.80 645.20H162.30M159.70 639.90H162.30M174.85 645.20V648.00M177.89 645.20V647.00M179.67 645.20V647.00M180.93 645.20V647.00M181.91 645.20V647.00M182.71 645.20V647.00M183.38 645.20V647.00M183.97 645.20V647.00M184.48 645.20V647.00M184.95 645.20V648.00M188.61 645.20V647.00M190.76 645.20V647.00M192.28 645.20V647.00M193.46 645.20V647.00M194.43 645.20V647.00M195.24 645.20V647.00M195.95 645.20V647.00M196.57 645.20V647.00M197.13 645.20V648.00M200.97 645.20V647.00M203.22 645.20V647.00M204.81 645.20V647.00M206.05 645.20V647.00M207.06 645.20V647.00M207.92 645.20V647.00M208.66 645.20V647.00M209.31 645.20V647.00M209.89 645.20V648.00M162.30 645.20V647.00M164.81 645.20V647.00M167.32 645.20V647.00M169.83 645.20V647.00M172.34 645.20V647.00M174.85 645.20V647.00" stroke="#231f20" stroke-width="0.95" fill="none"/>
<rect x="162.30" y="593.70" width="52.30" height="51.50" fill="none" stroke="#231f20" stroke-width="1.25"/>
<text transform="translate(148.29 601.80) scale(0.970 1)" font-size="6.00" fill="#2a2a2a" stroke="#2a2a2a" stroke-width="0.28">10</text>
<text transform="translate(154.86 599.10) scale(0.970 1)" font-size="3.60" fill="#2a2a2a" stroke="#2a2a2a" stroke-width="0.28">5</text>
<text transform="translate(148.29 613.38) scale(0.970 1)" font-size="6.00" fill="#2a2a2a" stroke="#2a2a2a" stroke-width="0.28">10</text>
<text transform="translate(154.86 610.68) scale(0.970 1)" font-size="3.60" fill="#2a2a2a" stroke="#2a2a2a" stroke-width="0.28">4</text>
<text transform="translate(148.29 624.97) scale(0.970 1)" font-size="6.00" fill="#2a2a2a" stroke="#2a2a2a" stroke-width="0.28">10</text>
<text transform="translate(154.86 622.27) scale(0.970 1)" font-size="3.60" fill="#2a2a2a" stroke="#2a2a2a" stroke-width="0.28">3</text>
<text transform="translate(148.29 637.12) scale(0.970 1)" font-size="6.00" fill="#2a2a2a" stroke="#2a2a2a" stroke-width="0.28">10</text>
<text transform="translate(154.86 634.42) scale(0.970 1)" font-size="3.60" fill="#2a2a2a" stroke="#2a2a2a" stroke-width="0.28">2</text>
<text transform="translate(155.30 641.80) scale(0.970 1)" font-size="6.00" text-anchor="end" fill="#2a2a2a" stroke="#2a2a2a" stroke-width="0.28">0</text>
<rect x="183.50" y="594.10" width="22.10" height="29.30" fill="none" stroke="#555" stroke-width="0.90"/>
<text transform="translate(168.20 601.50) scale(0.950 1)" font-size="6.20" fill="#2a2a2a" stroke="#2a2a2a" stroke-width="0.28">17</text>
<g clip-path="url(#c19)"><g filter="url(#bl)"><path d="M194.9,699.1 193.1,699.3 191.0,699.2 188.9,698.6 187.5,697.8 186.7,696.9 185.8,695.1 184.9,690.6 184.9,686.8 185.6,682.9 186.3,681.1 188.6,678.4 189.1,677.0 189.1,675.5 187.7,669.6 187.8,667.9 188.2,667.1 188.9,666.5 191.7,665.7 193.1,666.0 194.0,666.8 194.7,668.2 195.5,671.0 195.5,673.1 193.9,675.5 193.8,677.0 194.5,677.9 197.0,679.4 198.1,680.8 199.2,683.2 200.0,686.8 199.9,691.0 198.6,695.5 197.9,696.9 197.0,698.0 194.9,699.1Z" fill="#0000ff"/><path d="M194.2,698.3 192.4,698.5 190.7,698.3 188.9,697.7 187.9,697.0 187.0,695.9 186.3,694.5 185.5,690.2 185.5,686.4 186.2,683.2 187.2,681.2 189.3,678.7 189.8,677.0 189.7,675.5 188.4,670.3 188.4,668.5 188.7,667.9 189.2,667.3 191.7,666.5 192.8,666.7 193.7,667.5 194.3,668.9 194.9,671.4 194.7,673.1 193.0,675.5 193.0,677.3 193.8,678.4 196.2,679.9 197.7,681.4 198.8,684.0 199.4,687.1 199.2,691.3 198.0,695.1 196.5,697.2 195.6,697.9 194.2,698.3Z" fill="#0028ff"/><path d="M193.5,697.6 192.1,697.6 190.3,697.3 188.9,696.7 188.0,695.9 186.7,693.4 186.0,689.5 186.2,686.0 186.9,683.2 187.6,681.9 190.0,679.0 191.1,676.6 189.6,672.8 189.2,670.0 189.2,668.9 190.0,668.1 191.7,667.6 192.4,667.7 193.1,668.2 193.8,670.0 194.1,671.7 193.8,672.9 191.8,675.9 191.6,677.0 193.1,679.0 195.9,680.6 197.1,681.9 198.2,684.3 198.8,687.8 198.5,691.6 197.3,695.1 195.9,696.7 194.9,697.3 193.5,697.6Z" fill="#006eff"/><path d="M191.7,673.2 191.4,673.4 191.0,673.2 190.8,672.4 190.9,671.4 191.4,670.9 192.1,671.2 192.3,671.7 191.7,673.2ZM194.2,696.6 192.8,696.8 191.4,696.7 190.0,696.3 188.9,695.6 187.6,693.8 186.8,691.0 186.6,687.1 187.3,684.0 188.6,681.9 190.7,679.9 191.4,679.5 192.1,679.5 194.9,680.9 196.2,681.9 197.5,684.0 198.2,686.4 198.3,689.9 197.4,693.4 196.1,695.5 194.2,696.6Z" fill="#00b9ff"/><path d="M193.8,695.9 191.4,695.9 189.3,694.8 188.0,693.0 187.2,690.2 187.2,687.1 187.9,684.3 189.6,682.0 190.7,681.1 191.7,680.7 194.2,681.4 195.9,682.5 197.0,684.3 197.8,687.1 197.7,690.2 196.9,693.0 195.6,695.0 193.8,695.9Z" fill="#00f5ff"/><path d="M193.1,695.2 191.0,694.9 189.4,693.8 188.3,692.0 187.7,689.2 188.0,686.4 188.7,684.3 190.3,682.5 192.1,681.8 194.2,682.2 195.6,683.2 196.8,685.4 197.3,687.8 197.1,690.6 196.2,693.0 194.9,694.6 193.1,695.2Z" fill="#00ffaa"/><path d="M193.5,694.1 191.7,694.1 190.3,693.3 189.1,691.6 188.6,689.5 188.6,687.1 189.2,685.3 190.6,683.6 192.1,683.0 193.5,683.0 195.0,684.0 196.0,685.4 196.6,687.5 196.7,689.5 196.1,691.6 194.9,693.4 193.5,694.1Z" fill="#14f03c"/><path d="M193.5,693.1 192.1,693.1 190.8,692.4 189.8,691.0 189.4,689.2 189.5,687.5 190.1,685.7 191.1,684.6 192.4,684.1 193.5,684.2 194.7,685.0 195.6,686.3 196.0,687.8 196.0,689.5 195.4,691.3 194.5,692.5 193.5,693.1Z" fill="#78f500"/><path d="M193.5,692.1 192.4,692.2 191.4,691.7 190.5,690.6 190.1,689.2 190.1,687.8 190.6,686.4 191.4,685.5 192.4,685.1 193.5,685.2 194.2,685.6 194.9,686.4 195.3,687.8 195.4,689.2 195.0,690.6 194.2,691.6 193.5,692.1Z" fill="#e6f500"/><path d="M193.5,691.4 192.4,691.5 191.7,691.2 191.0,690.4 190.6,689.2 190.6,688.1 191.0,687.0 191.7,686.1 192.4,685.8 193.1,685.8 193.8,686.1 194.4,686.8 194.8,687.8 194.7,689.9 194.2,690.9 193.5,691.4Z" fill="#ffbe00"/><path d="M193.1,691.0 192.4,691.0 191.7,690.6 191.3,689.9 191.0,688.9 191.4,687.1 192.1,686.5 192.8,686.3 193.8,686.8 194.3,687.5 194.5,688.5 194.2,690.1 193.1,691.0Z" fill="#ff6e00"/><path d="M193.1,690.4 192.1,690.2 191.4,688.9 191.8,687.5 192.8,686.8 193.8,687.5 194.1,688.5 193.8,689.8 193.1,690.4Z" fill="#ff1400"/></g></g>
<path d="M159.50 666.58H162.30M160.50 663.09H162.30M160.50 661.05H162.30M160.50 659.61H162.30M160.50 658.48H162.30M160.50 657.57H162.30M160.50 656.79H162.30M160.50 656.12H162.30M160.50 655.53H162.30M159.50 678.17H162.30M160.50 674.68H162.30M160.50 672.64H162.30M160.50 671.19H162.30M160.50 670.07H162.30M160.50 669.15H162.30M160.50 668.38H162.30M160.50 667.71H162.30M160.50 667.11H162.30M159.50 690.32H162.30M160.50 686.67H162.30M160.50 684.53H162.30M160.50 683.01H162.30M160.50 681.83H162.30M160.50 680.87H162.30M160.50 680.05H162.30M160.50 679.35H162.30M160.50 678.73H162.30M159.70 655.00H162.30M160.80 690.32H162.30M160.80 693.12H162.30M160.80 695.91H162.30M160.80 698.71H162.30M160.80 701.50H162.30M159.70 696.20H162.30M174.85 701.50V704.30M177.89 701.50V703.30M179.67 701.50V703.30M180.93 701.50V703.30M181.91 701.50V703.30M182.71 701.50V703.30M183.38 701.50V703.30M183.97 701.50V703.30M184.48 701.50V703.30M184.95 701.50V704.30M188.61 701.50V703.30M190.76 701.50V703.30M192.28 701.50V703.30M193.46 701.50V703.30M194.43 701.50V703.30M195.24 701.50V703.30M195.95 701.50V703.30M196.57 701.50V703.30M197.13 701.50V704.30M200.97 701.50V703.30M203.22 701.50V703.30M204.81 701.50V703.30M206.05 701.50V703.30M207.06 701.50V703.30M207.92 701.50V703.30M208.66 701.50V703.30M209.31 701.50V703.30M209.89 701.50V704.30M162.30 701.50V703.30M164.81 701.50V703.30M167.32 701.50V703.30M169.83 701.50V703.30M172.34 701.50V703.30M174.85 701.50V703.30" stroke="#231f20" stroke-width="0.95" fill="none"/>
<rect x="162.30" y="650.00" width="52.30" height="51.50" fill="none" stroke="#231f20" stroke-width="1.25"/>
<text transform="translate(148.29 658.10) scale(0.970 1)" font-size="6.00" fill="#2a2a2a" stroke="#2a2a2a" stroke-width="0.28">10</text>
<text transform="translate(154.86 655.40) scale(0.970 1)" font-size="3.60" fill="#2a2a2a" stroke="#2a2a2a" stroke-width="0.28">5</text>
<text transform="translate(148.29 669.68) scale(0.970 1)" font-size="6.00" fill="#2a2a2a" stroke="#2a2a2a" stroke-width="0.28">10</text>
<text transform="translate(154.86 666.98) scale(0.970 1)" font-size="3.60" fill="#2a2a2a" stroke="#2a2a2a" stroke-width="0.28">4</text>
<text transform="translate(148.29 681.27) scale(0.970 1)" font-size="6.00" fill="#2a2a2a" stroke="#2a2a2a" stroke-width="0.28">10</text>
<text transform="translate(154.86 678.57) scale(0.970 1)" font-size="3.60" fill="#2a2a2a" stroke="#2a2a2a" stroke-width="0.28">3</text>
<text transform="translate(148.29 693.42) scale(0.970 1)" font-size="6.00" fill="#2a2a2a" stroke="#2a2a2a" stroke-width="0.28">10</text>
<text transform="translate(154.86 690.72) scale(0.970 1)" font-size="3.60" fill="#2a2a2a" stroke="#2a2a2a" stroke-width="0.28">2</text>
<text transform="translate(155.30 698.10) scale(0.970 1)" font-size="6.00" text-anchor="end" fill="#2a2a2a" stroke="#2a2a2a" stroke-width="0.28">0</text>
<rect x="183.50" y="650.40" width="22.10" height="29.30" fill="none" stroke="#555" stroke-width="0.90"/>
<text transform="translate(166.80 657.80) scale(0.950 1)" font-size="6.20" fill="#2a2a2a" stroke="#2a2a2a" stroke-width="0.28">8.7</text>
<g clip-path="url(#c20)"><g filter="url(#bl)"><path d="M193.8,755.1 192.1,755.2 190.0,754.9 188.2,754.2 187.0,753.3 186.1,752.2 185.4,750.5 184.6,746.0 184.6,742.5 185.3,738.6 186.1,736.4 187.9,734.0 188.2,733.0 188.2,731.3 187.5,726.7 187.7,725.0 188.2,724.0 188.9,723.5 191.7,722.8 192.8,723.0 193.5,723.4 194.5,725.0 195.5,729.2 195.4,733.0 195.8,733.7 197.7,735.5 198.5,736.9 199.5,740.0 200.0,743.2 200.0,745.6 199.7,748.1 198.4,751.9 197.7,753.1 196.6,754.0 195.6,754.6 193.8,755.1Z" fill="#0000ff"/><path d="M194.5,754.0 192.8,754.3 191.0,754.2 189.2,753.7 187.9,752.9 186.9,751.9 186.1,750.5 185.3,746.7 185.2,742.8 185.8,739.3 186.6,737.2 188.6,734.5 188.9,733.4 188.1,727.1 188.2,725.7 188.6,724.8 189.2,724.2 191.4,723.6 192.4,723.7 193.1,724.0 194.0,725.3 195.0,729.5 194.9,730.9 194.3,733.0 194.4,733.7 195.0,734.4 197.0,736.0 197.8,737.2 198.7,739.7 199.3,742.5 199.3,746.7 198.3,750.5 197.0,752.6 195.9,753.4 194.5,754.0Z" fill="#0028ff"/><path d="M193.8,753.4 192.4,753.5 190.7,753.3 189.2,752.8 188.0,751.9 187.2,750.9 186.5,749.5 185.8,746.0 185.8,742.8 186.4,739.7 187.3,737.6 189.2,734.8 189.6,733.7 188.8,727.4 188.9,726.0 189.8,725.0 191.7,724.5 192.4,724.6 193.2,725.3 194.2,728.5 194.3,730.2 193.3,732.7 193.4,734.1 194.2,735.0 196.3,736.5 197.3,737.8 198.3,740.4 198.8,743.5 198.6,747.4 197.6,750.5 195.9,752.5 193.8,753.4Z" fill="#006eff"/><path d="M193.5,752.6 192.1,752.7 190.7,752.4 188.5,751.2 187.1,749.1 186.4,745.6 186.4,742.8 187.0,740.0 187.8,738.2 189.9,735.5 190.5,734.1 190.5,733.0 189.9,730.2 189.9,727.4 190.3,726.5 191.4,726.2 192.4,726.5 193.3,729.2 193.1,730.5 192.2,732.7 192.2,734.1 193.3,735.5 195.6,737.0 196.7,738.2 197.8,740.7 198.2,743.5 198.1,746.7 197.2,749.8 195.6,751.8 193.5,752.6Z" fill="#00b9ff"/><path d="M193.1,751.9 191.0,751.8 188.9,750.5 187.7,748.8 187.0,746.0 187.0,742.8 187.8,740.0 189.2,737.7 190.7,736.1 191.4,735.7 192.1,735.8 194.5,737.3 195.9,738.4 197.0,740.4 197.7,743.2 197.6,746.3 196.8,749.1 196.2,750.2 195.2,751.1 193.1,751.9Z" fill="#00f5ff"/><path d="M193.8,750.9 191.7,751.1 190.0,750.4 188.5,748.8 187.7,746.3 187.6,743.5 188.1,741.1 189.6,738.7 191.4,737.3 193.1,737.6 195.2,738.9 196.4,740.7 197.1,742.8 197.2,745.6 196.6,748.1 195.5,749.8 193.8,750.9Z" fill="#00ffaa"/><path d="M193.1,750.2 191.4,750.0 189.9,749.1 188.8,747.4 188.3,745.2 188.4,743.2 189.1,741.1 190.7,739.3 192.1,738.7 193.8,739.2 195.2,740.3 196.1,741.8 196.5,743.9 196.5,746.0 195.8,748.1 194.5,749.6 193.1,750.2Z" fill="#14f03c"/><path d="M193.1,749.1 191.7,749.1 190.6,748.4 189.6,747.0 189.2,745.2 189.3,743.5 189.9,741.8 191.0,740.5 192.1,740.1 193.5,740.3 194.5,741.0 195.3,742.1 195.8,743.9 195.8,745.6 195.2,747.4 194.2,748.7 193.1,749.1Z" fill="#78f500"/><path d="M193.5,748.1 192.4,748.3 191.4,748.0 190.5,747.0 189.9,745.6 189.9,744.2 190.3,742.8 191.0,741.7 192.1,741.1 193.1,741.1 194.1,741.8 194.8,742.8 195.1,743.9 194.9,746.3 194.4,747.4 193.5,748.1Z" fill="#e6f500"/><path d="M193.5,747.4 192.8,747.6 191.7,747.4 190.9,746.7 190.5,745.6 190.4,744.2 190.7,743.2 191.4,742.3 192.1,741.9 192.8,741.8 193.5,742.1 194.2,742.8 194.6,743.9 194.5,746.0 193.5,747.4Z" fill="#ffbe00"/><path d="M193.1,747.0 192.4,747.1 191.7,746.8 191.2,746.3 190.8,745.2 191.0,743.5 191.7,742.6 192.4,742.4 193.6,742.8 194.3,744.2 194.1,746.0 193.1,747.0Z" fill="#ff6e00"/><path d="M193.1,746.4 192.1,746.4 191.3,745.2 191.4,743.9 191.7,743.3 192.4,742.9 193.2,743.2 193.9,744.2 193.8,745.6 193.1,746.4Z" fill="#ff1400"/></g></g>
<path d="M159.50 722.35H162.30M160.50 718.85H162.30M160.50 716.80H162.30M160.50 715.34H162.30M160.50 714.22H162.30M160.50 713.30H162.30M160.50 712.52H162.30M160.50 711.84H162.30M160.50 711.25H162.30M159.50 733.98H162.30M160.50 730.48H162.30M160.50 728.43H162.30M160.50 726.98H162.30M160.50 725.85H162.30M160.50 724.93H162.30M160.50 724.15H162.30M160.50 723.47H162.30M160.50 722.88H162.30M159.50 746.18H162.30M160.50 742.51H162.30M160.50 740.36H162.30M160.50 738.84H162.30M160.50 737.65H162.30M160.50 736.69H162.30M160.50 735.87H162.30M160.50 735.16H162.30M160.50 734.54H162.30M159.70 710.71H162.30M160.80 746.18H162.30M160.80 748.99H162.30M160.80 751.79H162.30M160.80 754.60H162.30M160.80 757.40H162.30M159.70 752.07H162.30M174.85 757.40V760.20M177.89 757.40V759.20M179.67 757.40V759.20M180.93 757.40V759.20M181.91 757.40V759.20M182.71 757.40V759.20M183.38 757.40V759.20M183.97 757.40V759.20M184.48 757.40V759.20M184.95 757.40V760.20M188.61 757.40V759.20M190.76 757.40V759.20M192.28 757.40V759.20M193.46 757.40V759.20M194.43 757.40V759.20M195.24 757.40V759.20M195.95 757.40V759.20M196.57 757.40V759.20M197.13 757.40V760.20M200.97 757.40V759.20M203.22 757.40V759.20M204.81 757.40V759.20M206.05 757.40V759.20M207.06 757.40V759.20M207.92 757.40V759.20M208.66 757.40V759.20M209.31 757.40V759.20M209.89 757.40V760.20M162.30 757.40V759.20M164.81 757.40V759.20M167.32 757.40V759.20M169.83 757.40V759.20M172.34 757.40V759.20M174.85 757.40V759.20" stroke="#231f20" stroke-width="0.95" fill="none"/>
<rect x="162.30" y="705.70" width="52.30" height="51.70" fill="none" stroke="#231f20" stroke-width="1.25"/>
<text transform="translate(148.29 713.81) scale(0.970 1)" font-size="6.00" fill="#2a2a2a" stroke="#2a2a2a" stroke-width="0.28">10</text>
<text transform="translate(154.86 711.11) scale(0.970 1)" font-size="3.60" fill="#2a2a2a" stroke="#2a2a2a" stroke-width="0.28">5</text>
<text transform="translate(148.29 725.45) scale(0.970 1)" font-size="6.00" fill="#2a2a2a" stroke="#2a2a2a" stroke-width="0.28">10</text>
<text transform="translate(154.86 722.75) scale(0.970 1)" font-size="3.60" fill="#2a2a2a" stroke="#2a2a2a" stroke-width="0.28">4</text>
<text transform="translate(148.29 737.08) scale(0.970 1)" font-size="6.00" fill="#2a2a2a" stroke="#2a2a2a" stroke-width="0.28">10</text>
<text transform="translate(154.86 734.38) scale(0.970 1)" font-size="3.60" fill="#2a2a2a" stroke="#2a2a2a" stroke-width="0.28">3</text>
<text transform="translate(148.29 749.28) scale(0.970 1)" font-size="6.00" fill="#2a2a2a" stroke="#2a2a2a" stroke-width="0.28">10</text>
<text transform="translate(154.86 746.58) scale(0.970 1)" font-size="3.60" fill="#2a2a2a" stroke="#2a2a2a" stroke-width="0.28">2</text>
<text transform="translate(155.30 753.97) scale(0.970 1)" font-size="6.00" text-anchor="end" fill="#2a2a2a" stroke="#2a2a2a" stroke-width="0.28">0</text>
<text transform="translate(167.53 770.80) scale(0.850 1)" font-size="5.40" text-anchor="middle" fill="#3a3a3a" stroke="#3a3a3a" stroke-width="0.28">0</text>
<text transform="translate(171.57 770.80) scale(0.970 1)" font-size="5.40" fill="#2a2a2a" stroke="#2a2a2a" stroke-width="0.28">10</text>
<text transform="translate(177.49 768.37) scale(0.970 1)" font-size="3.24" fill="#2a2a2a" stroke="#2a2a2a" stroke-width="0.28">2</text>
<text transform="translate(181.66 770.80) scale(0.970 1)" font-size="5.40" fill="#2a2a2a" stroke="#2a2a2a" stroke-width="0.28">10</text>
<text transform="translate(187.58 768.37) scale(0.970 1)" font-size="3.24" fill="#2a2a2a" stroke="#2a2a2a" stroke-width="0.28">3</text>
<text transform="translate(193.85 770.80) scale(0.970 1)" font-size="5.40" fill="#2a2a2a" stroke="#2a2a2a" stroke-width="0.28">10</text>
<text transform="translate(199.77 768.37) scale(0.970 1)" font-size="3.24" fill="#2a2a2a" stroke="#2a2a2a" stroke-width="0.28">4</text>
<text transform="translate(206.61 770.80) scale(0.970 1)" font-size="5.40" fill="#2a2a2a" stroke="#2a2a2a" stroke-width="0.28">10</text>
<text transform="translate(212.53 768.37) scale(0.970 1)" font-size="3.24" fill="#2a2a2a" stroke="#2a2a2a" stroke-width="0.28">5</text>
<rect x="183.50" y="706.10" width="22.10" height="29.30" fill="none" stroke="#555" stroke-width="0.90"/>
<text transform="translate(172.40 713.50) scale(0.950 1)" font-size="6.20" fill="#2a2a2a" stroke="#2a2a2a" stroke-width="0.28">9</text>
</svg></body></html>
